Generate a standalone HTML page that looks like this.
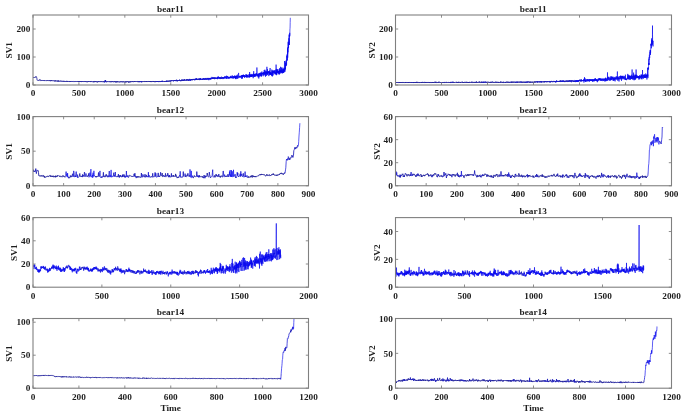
<!DOCTYPE html>
<html><head><meta charset="utf-8"><style>
html,body{margin:0;padding:0;background:#fff;width:685px;height:416px;overflow:hidden}
svg{display:block;will-change:transform}
text{font-family:"Liberation Serif",serif;font-weight:bold;font-size:9.25px}
</style></head><body>
<svg width="685" height="416" viewBox="0 0 685 416">
<defs>
<clipPath id="c0"><rect x="33.0" y="15.0" width="275.5" height="70.0"/></clipPath>
<clipPath id="c1"><rect x="395.5" y="15.0" width="276.0" height="70.0"/></clipPath>
<clipPath id="c2"><rect x="33.0" y="116.6" width="275.5" height="69.2"/></clipPath>
<clipPath id="c3"><rect x="395.5" y="116.6" width="276.0" height="69.2"/></clipPath>
<clipPath id="c4"><rect x="33.0" y="217.6" width="275.5" height="69.6"/></clipPath>
<clipPath id="c5"><rect x="395.5" y="217.6" width="276.0" height="69.6"/></clipPath>
<clipPath id="c6"><rect x="33.0" y="318.5" width="275.5" height="69.7"/></clipPath>
<clipPath id="c7"><rect x="395.5" y="318.5" width="276.0" height="69.7"/></clipPath>
</defs>
<g fill="#1e1e1e">
<g clip-path="url(#c0)" fill="none" stroke-linejoin="round">
<path d="M33.0 77.7L33.1 77.6 33.2 77.6 33.3 77.8 33.4 77.5 33.5 77.6 33.6 77.7 33.6 77.5 33.7 77.5 33.8 77.5 33.9 77.5 34.0 77.4 34.1 77.6 34.2 77.5 34.3 77.5 34.4 77.4 34.5 77.4 34.6 77.4 34.7 77.4 34.7 77.4 34.8 77.3 34.9 77.3 35.0 77.1 35.1 77.1 35.2 77.5 35.3 77.4 35.4 77.2 35.5 77.2 35.6 77.1 35.7 77.0 35.8 76.7 35.8 76.9 35.9 76.8 36.0 76.4 36.1 76.6 36.2 76.8 36.3 77.0 36.4 77.3 36.5 77.2 36.6 77.3 36.7 77.6 36.8 78.0 36.9 78.5 36.9 79.1 37.0 79.6 37.1 80.1 37.2 80.1 37.3 80.2 37.4 80.1 37.5 80.0 37.6 80.1 37.7 80.2 37.8 80.1 37.9 80.2 38.0 80.1 38.1 80.3 38.1 80.1 38.2 80.2 38.3 80.3 38.4 80.2 38.5 80.2 38.6 80.2 38.7 80.3 38.8 80.3 38.9 80.2 39.0 80.3 39.1 80.2 39.2 80.1 39.2 80.4 39.3 80.2 39.4 80.1 39.5 80.1 39.6 80.1 39.7 79.7 39.8 79.7 39.9 79.4 40.0 79.4 40.1 79.8 40.2 79.8 40.3 80.0 40.3 80.1 40.4 80.3 40.5 80.7 40.6 80.7 40.7 80.4 40.8 80.5 40.9 80.6 41.0 80.5 41.1 80.5 41.2 80.5 41.3 80.4 41.4 80.5 41.4 80.6 41.5 80.6 41.6 80.4 41.7 80.8 41.8 80.6 41.9 80.6 42.0 80.7 42.1 80.5 42.2 80.6 42.3 80.5 42.4 80.6 42.5 80.5 42.6 80.4 42.6 80.5 42.7 80.7 42.8 80.8 42.9 80.4 43.0 80.6 43.1 80.7 43.2 80.6 43.3 80.6 43.4 80.5 43.5 80.6 43.6 80.6 43.7 80.7 43.7 80.5 43.8 80.7 43.9 80.5 44.0 80.4 44.1 80.8 44.2 80.9 44.3 80.5 44.4 80.3 44.5 80.7 44.6 80.8 44.7 80.6 44.8 80.7 44.8 80.7 44.9 80.7 45.0 80.6 45.1 80.7 45.2 80.6 45.3 80.7 45.4 80.8 45.5 80.7 45.6 80.8 45.7 80.7 45.8 80.8 45.9 80.8 45.9 80.5 46.0 80.7 46.1 80.7 46.2 80.6 46.3 80.7 46.4 80.7 46.5 80.6 46.6 80.6 46.7 80.8 46.8 80.6 46.9 80.8 47.0 80.8 47.1 80.8 47.1 80.7 47.2 80.5 47.3 80.8 47.4 80.7 47.5 81.0 47.6 80.7 47.7 80.6 47.8 80.7 47.9 80.8 48.0 80.7 48.1 80.6 48.2 80.6 48.2 80.5 48.3 80.7 48.4 80.8 48.5 80.7 48.6 80.7 48.7 80.7 48.8 80.7 48.9 80.7 49.0 81.0 49.1 80.6 49.2 80.8 49.3 80.9 49.3 80.7 49.4 80.6 49.5 80.7 49.6 80.7 49.7 80.9 49.8 80.4 49.9 80.6 50.0 80.9 50.1 80.9 50.2 80.8 50.3 81.0 50.4 80.8 50.4 80.8 50.5 80.6 50.6 80.6 50.7 81.2 50.8 80.8 50.9 81.0 51.0 80.6 51.1 80.8 51.2 80.7 51.3 80.9 51.4 80.5 51.5 80.5 51.6 81.0 51.6 80.8 51.7 80.9 51.8 80.8 51.9 81.0 52.0 80.6 52.1 81.0 52.2 80.9 52.3 80.8 52.4 80.9 52.5 80.9 52.6 80.9 52.7 80.9 52.7 81.0 52.8 80.9 52.9 80.9 53.0 80.9 53.1 80.8 53.2 80.9 53.3 80.8 53.4 80.9 53.5 80.9 53.6 81.0 53.7 80.9 53.8 81.1 53.8 80.8 53.9 81.0 54.0 81.0 54.1 80.8 54.2 80.8 54.3 80.9 54.4 81.2 54.5 80.8 54.6 80.9 54.7 81.1 54.8 80.8 54.9 81.0 54.9 81.1 55.0 80.9 55.1 80.9 55.2 80.9 55.3 81.2 55.4 80.7 55.5 81.0 55.6 81.2 55.7 80.8 55.8 81.0 55.9 80.9 56.0 81.0 56.1 81.0 56.1 80.9 56.2 81.1 56.3 80.9 56.4 81.0 56.5 81.1 56.6 80.9 56.7 80.9 56.8 81.0 56.9 81.1 57.0 80.9 57.1 81.2 57.2 81.1 57.2 81.0 57.3 81.2 57.4 81.0 57.5 81.0 57.6 80.9 57.7 81.1 57.8 81.1 57.9 80.9 58.0 81.4 58.1 80.5 58.2 81.1 58.3 81.1 58.3 80.9 58.4 81.0 58.5 81.3 58.6 80.9 58.7 80.9 58.8 81.1 58.9 81.1 59.0 81.0 59.1 81.2 59.2 81.0 59.3 81.0 59.4 81.1 59.4 81.3 59.5 81.1 59.6 81.2 59.7 80.9 59.8 81.0 59.9 80.9 60.0 81.0 60.1 81.0 60.2 81.2 60.3 81.0 60.4 80.8 60.5 81.1 60.5 81.2 60.6 81.1 60.7 81.2 60.8 81.2 60.9 81.1 61.0 81.1 61.1 80.9 61.2 81.1 61.3 81.1 61.4 81.0 61.5 81.2 61.6 80.9 61.7 81.2 61.7 81.2 61.8 81.2 61.9 81.1 62.0 81.3 62.1 81.1 62.2 81.4 62.3 80.9 62.4 81.1 62.5 81.2 62.6 81.3 62.7 81.2 62.8 81.2 62.8 81.3 62.9 81.3 63.0 81.2 63.1 81.2 63.2 81.0 63.3 81.0 63.4 81.2 63.5 81.1 63.6 81.4 63.7 81.1 63.8 81.2 63.9 81.1 63.9 80.9 64.0 81.5 64.1 81.1 64.2 81.4 64.3 81.1 64.4 81.4 64.5 81.3 64.6 81.2 64.7 81.1 64.8 81.2 64.9 81.3 65.0 81.3 65.0 81.1 65.1 81.2 65.2 81.5 65.3 81.1 65.4 81.2 65.5 81.1 65.6 81.3 65.7 81.1 65.8 81.4 65.9 81.2 66.0 81.3 66.1 81.1 66.2 81.1 66.2 81.4 66.3 81.3 66.4 81.3 66.5 81.1 66.6 81.2 66.7 81.5 66.8 81.2 66.9 81.2 67.0 80.9 67.1 81.5 67.2 81.4 67.3 81.1 67.3 81.5 67.4 81.5 67.5 81.2 67.6 81.1 67.7 81.4 67.8 81.2 67.9 81.3 68.0 81.1 68.1 81.3 68.2 81.2 68.3 81.5 68.4 81.3 68.4 81.3 68.5 81.1 68.6 81.2 68.7 81.4 68.8 81.2 68.9 81.2 69.0 81.4 69.1 81.4 69.2 81.4 69.3 81.6 69.4 81.3 69.5 81.3 69.5 81.5 69.6 81.2 69.7 81.6 69.8 81.5 69.9 81.4 70.0 81.1 70.1 81.6 70.2 81.3 70.3 81.2 70.4 81.3 70.5 81.2 70.6 81.5 70.7 81.8 70.7 81.3 70.8 81.6 70.9 81.4 71.0 81.6 71.1 81.2 71.2 81.3 71.3 81.5 71.4 81.3 71.5 81.4 71.6 81.4 71.7 81.4 71.8 81.5 71.8 81.3 71.9 81.4 72.0 81.5 72.1 81.3 72.2 81.5 72.3 81.4 72.4 81.4 72.5 81.2 72.6 81.5 72.7 81.2 72.8 81.4 72.9 81.5 72.9 81.6 73.0 81.4 73.1 81.5 73.2 81.6 73.3 81.7 73.4 81.6 73.5 81.6 73.6 81.3 73.7 81.3 73.8 81.3 73.9 81.4 74.0 81.6 74.0 81.5 74.1 81.4 74.2 81.1 74.3 81.4 74.4 81.5 74.5 81.5 74.6 81.6 74.7 81.6 74.8 81.5 74.9 81.5 75.0 81.2 75.1 81.5 75.2 81.3 75.2 81.2 75.3 81.5 75.4 81.3 75.5 81.4 75.6 81.6 75.7 81.5 75.8 81.5 75.9 81.6 76.0 81.6 76.1 81.5 76.2 81.5 76.3 81.7 76.3 81.6 76.4 81.8 76.5 81.5 76.6 81.5 76.7 81.5 76.8 81.5 76.9 81.5 77.0 81.7 77.1 81.6 77.2 81.5 77.3 81.4 77.4 81.5 77.4 81.2 77.5 81.6 77.6 81.4 77.7 81.4 77.8 81.6 77.9 81.7 78.0 81.8 78.1 81.6 78.2 81.4 78.3 81.6 78.4 81.6 78.5 81.7 78.5 81.5 78.6 82.0 78.7 81.6 78.8 81.6 78.9 81.9 79.0 81.3 79.1 81.9 79.2 81.8 79.3 81.8 79.4 81.5 79.5 81.8 79.6 81.5 79.7 81.5 79.7 81.6 79.8 81.9 79.9 81.7 80.0 81.4 80.1 81.9 80.2 81.8 80.3 81.7 80.4 81.5 80.5 81.6 80.6 81.5 80.7 81.8 80.8 81.5 80.8 81.6 80.9 81.9 81.0 81.4 81.1 81.3 81.2 81.8 81.3 81.6 81.4 81.4 81.5 81.9 81.6 82.0 81.7 81.9 81.8 81.8 81.9 81.8 81.9 81.6 82.0 81.6 82.1 81.9 82.2 81.6 82.3 81.3 82.4 81.5 82.5 81.5 82.6 81.7 82.7 81.5 82.8 81.8 82.9 81.5 83.0 81.7 83.0 81.5 83.1 81.6 83.2 81.8 83.3 81.6 83.4 81.5 83.5 81.9 83.6 81.8 83.7 81.8 83.8 81.9 83.9 81.5 84.0 81.5 84.1 81.5 84.2 81.6 84.2 81.7 84.3 81.6 84.4 81.8 84.5 81.5 84.6 81.5 84.7 81.5 84.8 81.8 84.9 81.7 85.0 81.7 85.1 81.4 85.2 81.6 85.3 82.0 85.3 81.6 85.4 81.4 85.5 81.6 85.6 81.5 85.7 81.7 85.8 82.0 85.9 82.0 86.0 81.9 86.1 81.7 86.2 81.6 86.3 81.6 86.4 81.7 86.4 81.5 86.5 81.7 86.6 81.8 86.7 81.5 86.8 81.8 86.9 82.1 87.0 81.9 87.1 81.7 87.2 82.2 87.3 81.8 87.4 81.7 87.5 81.9 87.5 81.9 87.6 81.8 87.7 81.8 87.8 81.5 87.9 81.6 88.0 82.0 88.1 81.8 88.2 81.6 88.3 81.4 88.4 81.6 88.5 81.6 88.6 81.4 88.7 81.7 88.7 81.8 88.8 81.9 88.9 81.8 89.0 81.3 89.1 81.9 89.2 81.7 89.3 81.9 89.4 81.7 89.5 81.6 89.6 81.7 89.7 81.6 89.8 81.6 89.8 81.6 89.9 81.4 90.0 81.6 90.1 81.8 90.2 81.8 90.3 81.9 90.4 81.6 90.5 81.8 90.6 81.3 90.7 81.4 90.8 81.7 90.9 81.8 90.9 81.4 91.0 82.0 91.1 81.8 91.2 81.6 91.3 81.9 91.4 81.8 91.5 81.8 91.6 81.6 91.7 81.7 91.8 81.7 91.9 81.6 92.0 81.7 92.0 81.5 92.1 81.8 92.2 82.0 92.3 82.0 92.4 82.0 92.5 81.8 92.6 81.6 92.7 81.7 92.8 81.8 92.9 81.9 93.0 81.8 93.1 81.8 93.2 81.8 93.2 82.0 93.3 81.8 93.4 81.6 93.5 82.1 93.6 81.8 93.7 82.1 93.8 81.7 93.9 81.9 94.0 82.1 94.1 81.7 94.2 81.4 94.3 81.7 94.3 81.5 94.4 81.7 94.5 82.1 94.6 81.7 94.7 81.8 94.8 82.0 94.9 81.6 95.0 81.7 95.1 81.8 95.2 81.6 95.3 81.9 95.4 81.6 95.4 81.9 95.5 81.7 95.6 81.9 95.7 81.5 95.8 81.7 95.9 81.5 96.0 81.9 96.1 81.8 96.2 81.6 96.3 82.2 96.4 81.9 96.5 81.6 96.5 81.7 96.6 81.6 96.7 81.8 96.8 81.7 96.9 81.9 97.0 82.0 97.1 82.0 97.2 81.8 97.3 81.8 97.4 81.9 97.5 82.3 97.6 82.1 97.7 81.8 97.7 81.7 97.8 81.9 97.9 81.9 98.0 82.1 98.1 81.4 98.2 81.9 98.3 81.5 98.4 81.5 98.5 81.7 98.6 81.9 98.7 81.7 98.8 82.0 98.8 81.7 98.9 81.8 99.0 81.7 99.1 81.6 99.2 81.5 99.3 81.8 99.4 81.6 99.5 81.9 99.6 81.9 99.7 81.9 99.8 81.9 99.9 81.6 99.9 81.6 100.0 81.6 100.1 81.8 100.2 81.7 100.3 81.9 100.4 82.0 100.5 81.7 100.6 81.7 100.7 82.0 100.8 81.7 100.9 82.1 101.0 81.8 101.0 81.9 101.1 81.9 101.2 82.0 101.3 81.6 101.4 81.7 101.5 81.6 101.6 81.8 101.7 82.0 101.8 81.8 101.9 82.0 102.0 81.7 102.1 81.6 102.2 81.7 102.2 81.9 102.3 81.8 102.4 81.8 102.5 82.0 102.6 81.8 102.7 81.8 102.8 81.9 102.9 81.9 103.0 81.8 103.1 81.9 103.2 81.9 103.3 81.7 103.3 81.8 103.4 81.5 103.5 82.0 103.6 82.1 103.7 81.6 103.8 81.6 103.9 81.9 104.0 82.0 104.1 81.8" stroke="#20209c" stroke-width="0.90"/>
<path d="M104.1 81.8L104.2 82.1 104.3 81.9 104.4 82.2 104.4 81.8 104.5 82.2 104.6 81.8 104.7 81.5 104.8 81.8 104.9 81.7 105.0 81.9 105.1 80.4 105.2 82.1 105.3 81.6 105.4 80.2 105.5 81.5 105.5 82.0 105.6 81.8 105.7 80.7 105.8 81.6 105.9 81.5 106.0 81.9 106.1 82.0 106.2 82.1 106.3 81.6 106.4 81.8 106.5 81.9 106.6 81.8 106.7 82.2 106.7 82.1 106.8 81.7 106.9 81.8 107.0 81.8" stroke="#1818b7" stroke-width="0.82"/>
<path d="M107.0 81.8L107.1 82.0 107.2 81.7 107.3 81.5 107.4 82.0 107.5 81.8 107.6 81.9 107.7 81.8 107.8 81.8 107.8 81.9 107.9 82.0 108.0 81.8 108.1 81.9 108.2 81.9 108.3 81.8 108.4 81.7 108.5 81.9 108.6 81.9 108.7 81.7 108.8 81.9 108.9 81.9 108.9 81.7 109.0 81.8 109.1 81.8 109.2 81.8 109.3 82.0 109.4 81.8 109.5 81.6 109.6 81.7 109.7 82.1 109.8 81.8 109.9 82.0 110.0 81.9 110.0 81.8 110.1 82.0 110.2 81.6 110.3 81.9 110.4 81.7 110.5 81.7 110.6 81.6 110.7 81.6 110.8 82.1 110.9 81.8 111.0 82.2 111.1 81.9 111.2 81.7 111.2 81.7 111.3 81.6 111.4 81.9 111.5 81.8 111.6 81.8 111.7 81.6 111.8 81.6 111.9 81.9 112.0 81.2 112.1 81.8 112.2 81.9 112.3 81.7 112.3 81.7 112.4 81.8 112.5 82.0 112.6 81.6 112.7 81.8 112.8 81.6 112.9 81.6 113.0 82.1 113.1 82.0 113.2 82.0 113.3 81.8 113.4 81.8 113.4 81.8 113.5 82.0 113.6 81.8 113.7 81.6 113.8 82.1 113.9 81.9 114.0 81.8 114.1 81.9 114.2 81.9 114.3 81.6 114.4 81.6 114.5 81.7 114.5 82.0 114.6 81.5 114.7 81.8 114.8 82.0 114.9 81.9 115.0 81.9 115.1 81.5 115.2 81.8 115.3 81.9 115.4 82.2 115.5 81.7 115.6 82.0 115.6 82.1 115.7 81.8 115.8 82.0 115.9 81.7 116.0 81.7 116.1 82.2 116.2 81.9 116.3 82.1 116.4 81.9 116.5 81.7 116.6 82.1 116.7 81.6 116.8 81.9 116.8 82.1 116.9 81.9 117.0 81.7 117.1 82.1 117.2 81.9 117.3 82.1 117.4 81.7 117.5 81.9 117.6 82.0 117.7 81.7 117.8 82.1 117.9 81.9 117.9 81.6 118.0 81.9 118.1 81.7 118.2 81.9 118.3 82.0 118.4 81.9 118.5 81.9 118.6 82.0 118.7 82.0 118.8 82.0 118.9 82.1 119.0 81.9 119.0 81.8 119.1 81.8 119.2 82.2 119.3 81.8 119.4 81.9 119.5 82.1 119.6 81.9 119.7 81.8 119.8 81.8 119.9 81.8 120.0 81.7 120.1 81.7 120.1 81.9 120.2 82.2 120.3 82.0 120.4 81.8 120.5 82.0 120.6 81.8 120.7 81.8 120.8 81.9 120.9 81.6 121.0 82.1 121.1 81.7 121.2 82.0 121.3 82.0 121.3 81.8 121.4 82.0 121.5 81.8 121.6 82.1 121.7 81.9 121.8 82.0 121.9 81.9 122.0 82.0 122.1 82.1 122.2 81.8 122.3 82.1 122.4 82.1 122.4 81.8 122.5 81.7 122.6 81.8 122.7 81.9 122.8 81.5 122.9 82.1 123.0 82.0 123.1 82.1 123.2 81.8 123.3 81.9 123.4 81.7 123.5 81.8 123.5 82.0 123.6 82.1 123.7 82.1 123.8 81.5 123.9 81.8 124.0 81.8 124.1 82.0 124.2 82.0 124.3 82.0 124.4 82.0 124.5 82.3 124.6 81.9 124.6 82.0 124.7 81.9 124.8 81.9 124.9 81.8 125.0 81.9 125.1 81.8 125.2 82.3 125.3 82.1 125.4 81.6 125.5 82.1 125.6 82.0 125.7 81.8 125.8 82.1 125.8 81.8 125.9 82.2 126.0 82.2 126.1 82.1 126.2 82.2 126.3 81.9 126.4 82.0 126.5 81.8 126.6 82.1 126.7 81.5 126.8 81.9 126.9 81.9 126.9 81.8 127.0 81.9 127.1 82.0 127.2 81.9 127.3 81.7 127.4 81.8 127.5 81.7 127.6 82.0 127.7 82.0 127.8 81.5 127.9 81.9 128.0 81.8 128.0 81.8 128.1 81.6 128.2 82.1 128.3 82.0 128.4 82.0 128.5 81.9 128.6 82.3 128.7 81.9 128.8 82.4 128.9 81.8 129.0 81.8 129.1 81.8 129.1 82.1 129.2 81.7 129.3 82.0 129.4 82.1 129.5 82.0 129.6 82.0 129.7 81.8 129.8 81.7 129.9 82.2 130.0 82.0 130.1 81.7 130.2 81.8 130.3 81.8 130.3 82.1 130.4 81.7 130.5 82.1 130.6 81.8 130.7 81.6 130.8 81.5 130.9 81.8 131.0 81.7 131.1 82.0 131.2 81.9 131.3 81.6 131.4 81.8 131.4 81.9 131.5 82.1 131.6 81.8 131.7 81.7 131.8 82.0 131.9 81.9 132.0 81.6 132.1 81.8 132.2 81.9 132.3 82.0 132.4 81.9 132.5 81.9 132.5 81.6 132.6 81.9 132.7 81.5 132.8 82.0 132.9 81.9 133.0 81.7 133.1 81.9 133.2 82.0 133.3 81.8 133.4 81.7 133.5 82.1 133.6 81.9 133.6 81.8 133.7 81.9 133.8 81.7 133.9 81.9 134.0 81.9 134.1 81.8 134.2 81.7 134.3 81.9 134.4 81.5 134.5 82.0 134.6 81.6 134.7 82.0 134.8 81.8 134.8 81.7 134.9 81.4 135.0 81.6 135.1 81.9 135.2 81.6 135.3 81.8 135.4 81.9 135.5 81.7 135.6 81.8 135.7 81.6 135.8 81.9 135.9 81.7 135.9 81.7 136.0 81.7 136.1 81.8 136.2 81.9 136.3 81.6 136.4 81.8 136.5 81.7 136.6 81.9 136.7 81.8 136.8 82.0 136.9 81.8 137.0 81.6 137.0 81.8 137.1 81.6 137.2 81.7 137.3 81.5 137.4 81.8 137.5 82.1 137.6 81.7 137.7 81.8 137.8 82.0 137.9 81.6 138.0 81.7 138.1 81.7 138.1 81.8 138.2 81.7 138.3 81.7 138.4 81.4 138.5 81.9 138.6 81.8 138.7 81.7 138.8 82.1 138.9 82.1 139.0 81.3 139.1 82.1" stroke="#20209c" stroke-width="0.90"/>
<path d="M139.1 82.1L139.2 81.6 139.3 81.9 139.3 81.9 139.4 82.1 139.5 81.9 139.6 81.6 139.7 82.0 139.8 81.6 139.9 81.7 140.0 81.4 140.1 81.8 140.2 81.5 140.3 81.6 140.4 81.8 140.4 82.1 140.5 81.5 140.6 82.0 140.7 81.8 140.8 81.6 140.9 81.5 141.0 81.9 141.1 81.7 141.2 81.8 141.3 81.5 141.4 81.2 141.5 82.1 141.5 81.6 141.6 82.3 141.7 81.7 141.8 81.9 141.9 81.3 142.0 81.7" stroke="#1818b7" stroke-width="0.82"/>
<path d="M142.0 81.7L142.1 81.9 142.2 81.8 142.3 81.8 142.4 81.7 142.5 81.7 142.6 81.6 142.6 81.4 142.7 81.6 142.8 82.0 142.9 82.0 143.0 81.9 143.1 81.5 143.2 81.8 143.3 81.8 143.4 81.7 143.5 82.0 143.6 81.9 143.7 81.6 143.8 81.8 143.8 81.8 143.9 81.6 144.0 81.8 144.1 81.8 144.2 81.8 144.3 81.6 144.4 81.7 144.5 81.9 144.6 81.8 144.7 81.6 144.8 81.3 144.9 81.9 144.9 81.6 145.0 81.7 145.1 81.5 145.2 81.6 145.3 81.4 145.4 81.6 145.5 81.8 145.6 81.8 145.7 81.6 145.8 81.6 145.9 81.2 146.0 81.3 146.0 81.9 146.1 81.6 146.2 81.9 146.3 82.0 146.4 81.5 146.5 81.6 146.6 81.9 146.7 81.3 146.8 81.9 146.9 81.9 147.0 81.5 147.1 81.6 147.1 81.7 147.2 81.7 147.3 81.6 147.4 81.7 147.5 81.7 147.6 82.0 147.7 81.9 147.8 81.5 147.9 81.8 148.0 81.5 148.1 81.4 148.2 81.7 148.3 81.6 148.3 81.2 148.4 81.5 148.5 81.3 148.6 81.3 148.7 81.5 148.8 81.7 148.9 81.8 149.0 81.9 149.1 81.5 149.2 81.5 149.3 81.7 149.4 81.5 149.4 81.8 149.5 81.4 149.6 81.6 149.7 81.6 149.8 81.6 149.9 81.7 150.0 81.1 150.1 82.0 150.2 81.6 150.3 81.4 150.4 81.5 150.5 81.7 150.5 81.3 150.6 81.8 150.7 81.9 150.8 81.5 150.9 81.9 151.0 82.1 151.1 81.4 151.2 81.5 151.3 81.5 151.4 81.7 151.5 81.6 151.6 81.8 151.6 81.3 151.7 81.4 151.8 81.5 151.9 82.0 152.0 81.4 152.1 81.3 152.2 81.4 152.3 81.4 152.4 81.6 152.5 81.7 152.6 81.5 152.7 81.5 152.8 81.6 152.8 81.7 152.9 81.2 153.0 81.8 153.1 81.6 153.2 81.7 153.3 81.4 153.4 81.3 153.5 81.3 153.6 81.4 153.7 81.9 153.8 81.1 153.9 81.5 153.9 81.6 154.0 81.6 154.1 81.7 154.2 81.5 154.3 81.5 154.4 81.7 154.5 82.1 154.6 81.6 154.7 81.5 154.8 81.5 154.9 81.6 155.0 81.5 155.0 81.4 155.1 81.7 155.2 81.3 155.3 82.0 155.4 81.8 155.5 81.8 155.6 82.1 155.7 81.8 155.8 81.3 155.9 81.3 156.0 81.5 156.1 81.2" stroke="#20209c" stroke-width="0.90"/>
<path d="M156.1 81.2L156.1 81.5 156.2 81.7 156.3 81.5 156.4 81.6 156.5 81.4 156.6 81.9 156.7 81.3 156.8 81.7 156.9 81.4 157.0 81.9 157.1 81.6 157.2 81.5 157.3 81.4 157.3 81.8 157.4 81.2 157.5 81.4 157.6 81.7 157.7 81.3 157.8 81.5 157.9 81.3 158.0 81.0 158.1 81.4 158.2 81.7 158.3 81.6 158.4 81.4 158.4 81.5 158.5 81.7 158.6 81.7 158.7 81.4 158.8 81.0 158.9 82.1 159.0 81.4 159.1 81.6" stroke="#1818b7" stroke-width="0.82"/>
<path d="M159.1 81.6L159.2 81.4 159.3 81.3 159.4 81.5 159.5 81.7 159.5 81.8 159.6 81.9 159.7 81.3 159.8 81.6 159.9 81.6 160.0 81.6" stroke="#20209c" stroke-width="0.90"/>
<path d="M160.0 81.6L160.1 81.8 160.2 81.4 160.3 81.2 160.4 81.3 160.5 81.9 160.6 81.2 160.6 81.7 160.7 81.9 160.8 81.8 160.9 81.7 161.0 81.5 161.1 81.7 161.2 81.8 161.3 81.6 161.4 81.1 161.5 81.7 161.6 81.4 161.7 81.5 161.8 80.9 161.8 81.9 161.9 81.2 162.0 81.8 162.1 81.6 162.2 81.5 162.3 80.7 162.4 81.6 162.5 81.9 162.6 81.1 162.7 81.6 162.8 81.5 162.9 81.4 162.9 81.4 163.0 81.5 163.1 81.3 163.2 81.3 163.3 81.2 163.4 81.5 163.5 81.6 163.6 81.6 163.7 81.2 163.8 81.4 163.9 81.2 164.0 81.2 164.0 81.0" stroke="#1818b7" stroke-width="0.82"/>
<path d="M164.0 81.0L164.1 81.3 164.2 81.2 164.3 81.6 164.4 81.6 164.5 81.4 164.6 81.6 164.7 81.2 164.8 81.6 164.9 81.3 165.0 81.9 165.1 81.6" stroke="#20209c" stroke-width="0.90"/>
<path d="M165.1 81.6L165.1 81.4 165.2 81.4 165.3 81.7 165.4 81.2 165.5 81.0 165.6 81.1 165.7 81.4 165.8 81.4 165.9 81.5 166.0 81.1 166.1 80.9 166.2 81.4 166.3 81.7 166.3 81.2 166.4 81.0 166.5 81.9 166.6 81.2 166.7 80.6 166.8 81.0 166.9 81.1 167.0 81.1 167.1 80.9 167.2 81.4 167.3 81.4 167.4 81.1 167.4 81.3 167.5 81.1 167.6 81.6 167.7 80.9 167.8 80.9 167.9 81.1 168.0 81.1 168.1 80.7" stroke="#1818b7" stroke-width="0.82"/>
<path d="M168.1 80.7L168.2 81.4 168.3 81.4 168.4 81.4 168.5 81.2 168.5 81.4 168.6 81.1 168.7 81.3 168.8 81.5 168.9 81.5 169.0 80.7 169.1 81.1 169.2 81.1 169.3 81.0 169.4 81.1 169.5 80.8 169.6 80.9 169.6 81.2 169.7 81.3 169.8 81.3 169.9 81.4 170.0 80.6" stroke="#20209c" stroke-width="0.90"/>
<path d="M170.0 80.6L170.1 81.3 170.2 81.6 170.3 81.2 170.4 81.2 170.5 80.9 170.6 81.2 170.7 80.8 170.8 80.9 170.8 80.6 170.9 80.3 171.0 80.1 171.1 80.6 171.2 81.3 171.3 81.1 171.4 80.9 171.5 80.3 171.6 80.7 171.7 80.6 171.8 81.0 171.9 80.7 171.9 80.7 172.0 81.0 172.1 80.7 172.2 80.6 172.3 80.9 172.4 80.6 172.5 80.4 172.6 80.8 172.7 80.9 172.8 80.9 172.9 81.0 173.0 80.8 173.0 81.0 173.1 80.9 173.2 81.1 173.3 81.3 173.4 81.1 173.5 80.7 173.6 81.2 173.7 81.0 173.8 80.3 173.9 80.5 174.0 81.0 174.1 80.6 174.1 81.0 174.2 80.3 174.3 80.9 174.4 80.7 174.5 80.3 174.6 81.0 174.7 80.3 174.8 81.0 174.9 80.7 175.0 80.8 175.1 80.7 175.2 80.7 175.2 80.7 175.3 81.0 175.4 80.4 175.5 80.5 175.6 80.3 175.7 80.3 175.8 81.1 175.9 80.3 176.0 80.3 176.1 80.8 176.2 80.3 176.3 80.2 176.4 80.8 176.4 81.1 176.5 80.7 176.6 79.7 176.7 80.5 176.8 81.0 176.9 80.7 177.0 80.9 177.1 80.7 177.2 80.6 177.3 81.4 177.4 80.5 177.5 80.1 177.5 80.6 177.6 80.7 177.7 80.2 177.8 81.0 177.9 81.0 178.0 81.0 178.1 80.6 178.2 80.4 178.3 80.6 178.4 80.3 178.5 80.2 178.6 80.4 178.6 80.8 178.7 80.6 178.8 80.1 178.9 80.8 179.0 80.6 179.1 80.6 179.2 80.5 179.3 80.8 179.4 80.9 179.5 79.6 179.6 80.1 179.7 80.7 179.7 80.5 179.8 80.2 179.9 80.6 180.0 80.2 180.1 80.6 180.2 80.5 180.3 80.4 180.4 80.6 180.5 81.2 180.6 80.4 180.7 80.3 180.8 80.2 180.9 80.7 180.9 80.3 181.0 80.3 181.1 81.0 181.2 81.1 181.3 80.2 181.4 80.7 181.5 80.0 181.6 79.6 181.7 80.5 181.8 80.6 181.9 80.3 182.0 80.1 182.0 80.7 182.1 79.9 182.2 80.0 182.3 80.1 182.4 80.5 182.5 80.0 182.6 80.0 182.7 80.7 182.8 79.5 182.9 80.4 183.0 80.1 183.1 80.4 183.1 80.1 183.2 79.8 183.3 80.5 183.4 80.8 183.5 80.4 183.6 80.7 183.7 80.5 183.8 80.3 183.9 80.2 184.0 79.7 184.1 80.6 184.2 80.1 184.2 80.4 184.3 79.7 184.4 79.3 184.5 80.1 184.6 79.6 184.7 80.4 184.8 80.7 184.9 80.6 185.0 80.7 185.1 80.5 185.2 80.2 185.3 79.7 185.4 79.9 185.4 79.9 185.5 80.3 185.6 80.4 185.7 80.1 185.8 80.0 185.9 80.0 186.0 79.9 186.1 80.1 186.2 80.8 186.3 80.5 186.4 80.4 186.5 79.4 186.5 80.2 186.6 79.8 186.7 79.5 186.8 79.9 186.9 80.2 187.0 80.1 187.1 80.4 187.2 79.9 187.3 79.6 187.4 79.8 187.5 79.7 187.6 79.7 187.6 79.2 187.7 80.2 187.8 79.9 187.9 79.7 188.0 79.5 188.1 80.9 188.2 80.2 188.3 80.0 188.4 80.3 188.5 79.6 188.6 79.9 188.7 80.1 188.7 80.6 188.8 80.4 188.9 80.3 189.0 79.7" stroke="#1818b7" stroke-width="0.82"/>
<path d="M189.0 79.7L189.1 80.4 189.2 80.7 189.3 80.5 189.4 80.1 189.5 79.2 189.6 78.9 189.7 80.1 189.8 79.5 189.9 79.3 189.9 79.3 190.0 79.9 190.1 80.4 190.2 80.0 190.3 80.6 190.4 79.7 190.5 79.5 190.6 80.6 190.7 79.8 190.8 79.7 190.9 79.3 191.0 79.2 191.0 79.5" stroke="#1010d3" stroke-width="0.73"/>
<path d="M191.0 79.5L191.1 80.1 191.2 79.9 191.3 79.3 191.4 80.0 191.5 79.8 191.6 79.1 191.7 79.7 191.8 80.3 191.9 79.9 192.0 79.5 192.1 79.8 192.1 79.3 192.2 79.2 192.3 80.0 192.4 79.9 192.5 79.8 192.6 80.2 192.7 79.5 192.8 79.8 192.9 79.4 193.0 79.9 193.1 80.0 193.2 78.9 193.2 80.0 193.3 79.9 193.4 80.0 193.5 79.8 193.6 80.0 193.7 79.7 193.8 79.9 193.9 79.8 194.0 79.5 194.1 79.3" stroke="#1818b7" stroke-width="0.82"/>
<path d="M194.1 79.3L194.2 79.4 194.3 79.9 194.4 79.4 194.4 79.6 194.5 79.6 194.6 80.3 194.7 79.3 194.8 79.6 194.9 78.8 195.0 79.3 195.1 80.0 195.2 80.1 195.3 79.1 195.4 79.9 195.5 79.2 195.5 79.7 195.6 78.6 195.7 79.5 195.8 78.9 195.9 78.9 196.0 79.7 196.1 79.6 196.2 78.8 196.3 79.5 196.4 79.9 196.5 78.9 196.6 78.3 196.6 79.5 196.7 78.8 196.8 79.5 196.9 78.8 197.0 79.5" stroke="#1010d3" stroke-width="0.73"/>
<path d="M197.0 79.5L197.1 78.8 197.2 79.2 197.3 79.5 197.4 79.3 197.5 79.6 197.6 79.9 197.7 79.9 197.7 79.4 197.8 79.8 197.9 79.2 198.0 79.1 198.1 79.1 198.2 79.6 198.3 79.3 198.4 79.3 198.5 78.7 198.6 79.7 198.7 79.5 198.8 79.4 198.9 79.4 198.9 79.6 199.0 79.6" stroke="#1818b7" stroke-width="0.82"/>
<path d="M199.0 79.6L199.1 78.8 199.2 79.6 199.3 78.9 199.4 78.4 199.5 78.7 199.6 80.1 199.7 78.9 199.8 79.0 199.9 79.0 200.0 80.0 200.0 78.9 200.1 79.7 200.2 78.6 200.3 78.7 200.4 78.0 200.5 79.4 200.6 79.9 200.7 78.7 200.8 78.8 200.9 79.4 201.0 78.6 201.1 78.9 201.1 79.8 201.2 79.3 201.3 79.4 201.4 79.2 201.5 79.1 201.6 79.5 201.7 79.2 201.8 78.9 201.9 79.2 202.0 79.3 202.1 79.3 202.2 79.2 202.2 80.0 202.3 79.0 202.4 79.6 202.5 79.0 202.6 79.8 202.7 78.6 202.8 79.0 202.9 79.7 203.0 79.0 203.1 79.4 203.2 78.2 203.3 78.8 203.4 79.4 203.4 78.9 203.5 79.1 203.6 78.5 203.7 78.9 203.8 78.8 203.9 79.6 204.0 78.6 204.1 78.0 204.2 78.7 204.3 79.0 204.4 78.9 204.5 79.4 204.5 78.9 204.6 79.5 204.7 78.9 204.8 79.2 204.9 79.4 205.0 78.7 205.1 79.7 205.2 79.0 205.3 79.6 205.4 78.0 205.5 78.0 205.6 78.5 205.6 78.0 205.7 78.6 205.8 78.6 205.9 79.1 206.0 79.3 206.1 78.8 206.2 79.1 206.3 79.1 206.4 78.5 206.5 78.9 206.6 79.6 206.7 79.0 206.7 79.2 206.8 79.0 206.9 79.4 207.0 78.2 207.1 77.9 207.2 79.4 207.3 78.5 207.4 78.5 207.5 79.3 207.6 78.8 207.7 78.1 207.8 78.4 207.9 78.0 207.9 79.4 208.0 79.2 208.1 78.6 208.2 78.6 208.3 78.7 208.4 78.9 208.5 79.0 208.6 79.0 208.7 78.5 208.8 80.2 208.9 77.9 209.0 79.0 209.0 79.5" stroke="#1010d3" stroke-width="0.73"/>
<path d="M209.0 79.5L209.1 78.4 209.2 79.4 209.3 78.5 209.4 78.9 209.5 78.4 209.6 78.3 209.7 78.0 209.8 78.9 209.9 78.8 210.0 78.7 210.1 79.4" stroke="#0808ee" stroke-width="0.65"/>
<path d="M210.1 79.4L210.1 78.3 210.2 78.6 210.3 79.3 210.4 78.0 210.5 77.9 210.6 79.3 210.7 78.3 210.8 77.9 210.9 78.1 211.0 79.1 211.1 79.3" stroke="#1010d3" stroke-width="0.73"/>
<path d="M211.1 79.3L211.2 78.6 211.2 78.8 211.3 78.6 211.4 78.6 211.5 78.3 211.6 78.8 211.7 78.6 211.8 76.9 211.9 78.6 212.0 78.1 212.1 78.3" stroke="#0808ee" stroke-width="0.65"/>
<path d="M212.1 78.3L212.2 78.4 212.3 79.0 212.4 78.2 212.4 78.5 212.5 78.0 212.6 77.3 212.7 78.4 212.8 78.0 212.9 79.0 213.0 78.4 213.1 77.6 213.2 78.5 213.3 78.8 213.4 78.3 213.5 78.5 213.5 78.5 213.6 78.6 213.7 77.3 213.8 78.9 213.9 78.6 214.0 78.7 214.1 77.7 214.2 78.5 214.3 77.6 214.4 78.3 214.5 78.4 214.6 79.2 214.6 77.6 214.7 78.0 214.8 78.1 214.9 78.4 215.0 78.6 215.1 79.0 215.2 77.7 215.3 78.1 215.4 78.5 215.5 78.7 215.6 78.2 215.7 78.3 215.7 77.3 215.8 77.8 215.9 78.6 216.0 78.9 216.1 78.4 216.2 78.8 216.3 78.2 216.4 78.0 216.5 77.8 216.6 78.0 216.7 78.3 216.8 77.8 216.9 78.7 216.9 78.2 217.0 77.7" stroke="#1010d3" stroke-width="0.73"/>
<path d="M217.0 77.7L217.1 78.0 217.2 78.9 217.3 78.9 217.4 79.1 217.5 77.0 217.6 79.1 217.7 78.2 217.8 77.0 217.9 77.4 218.0 77.3 218.0 78.4 218.1 77.6 218.2 76.2 218.3 78.1 218.4 77.8 218.5 78.3 218.6 78.1 218.7 77.8 218.8 77.2 218.9 78.6 219.0 78.9 219.1 78.0 219.1 77.9 219.2 77.1 219.3 77.6 219.4 78.4 219.5 77.6 219.6 77.3 219.7 77.8 219.8 78.2 219.9 77.5 220.0 78.2 220.1 79.1" stroke="#0808ee" stroke-width="0.65"/>
<path d="M220.1 79.1L220.2 77.1 220.2 78.8 220.3 78.2 220.4 78.1 220.5 78.1 220.6 78.1 220.7 78.8 220.8 77.6 220.9 77.9 221.0 77.9 221.1 77.2 221.2 77.2 221.3 77.0 221.4 76.7 221.4 77.6 221.5 78.9 221.6 77.7 221.7 77.8 221.8 77.8 221.9 78.2 222.0 78.4 222.1 77.3 222.2 77.2 222.3 78.5 222.4 77.4 222.5 77.9 222.5 78.0 222.6 77.3 222.7 77.8 222.8 78.1 222.9 77.7 223.0 79.1" stroke="#1010d3" stroke-width="0.73"/>
<path d="M223.0 79.1L223.1 78.1 223.2 78.0 223.3 78.7 223.4 77.6 223.5 77.5 223.6 78.1 223.6 77.8 223.7 77.3 223.8 77.0 223.9 78.2 224.0 77.5 224.1 77.0 224.2 77.7 224.3 78.2 224.4 78.2 224.5 77.9 224.6 78.4 224.7 76.3 224.7 78.0 224.8 77.4 224.9 77.5 225.0 77.2 225.1 77.9 225.2 78.5 225.3 76.5 225.4 77.7 225.5 77.5 225.6 77.5 225.7 76.7 225.8 77.0 225.8 76.8 225.9 77.0 226.0 77.5 226.1 77.4 226.2 78.1 226.3 78.9 226.4 77.7 226.5 78.3 226.6 75.7 226.7 76.4 226.8 76.7 226.9 77.9 227.0 76.0 227.0 78.7 227.1 78.4 227.2 78.0 227.3 78.2 227.4 77.4 227.5 77.3 227.6 76.1 227.7 76.7 227.8 76.6 227.9 77.1 228.0 77.5 228.1 77.9 228.1 78.5 228.2 78.0 228.3 77.7 228.4 76.8 228.5 78.6 228.6 78.4 228.7 77.2 228.8 78.1 228.9 77.1 229.0 77.7 229.1 77.9 229.2 78.3 229.2 77.4 229.3 77.9 229.4 77.8 229.5 77.8 229.6 77.2 229.7 77.2 229.8 78.6 229.9 77.4 230.0 77.0 230.1 76.5 230.2 76.7 230.3 77.1 230.3 78.1 230.4 77.8 230.5 76.6 230.6 77.8 230.7 76.5 230.8 76.3 230.9 78.0 231.0 76.9 231.1 77.3 231.2 75.7 231.3 76.6 231.4 77.6 231.5 76.9 231.5 77.9 231.6 77.3 231.7 77.0 231.8 77.1 231.9 76.9 232.0 77.9 232.1 78.6 232.2 77.4 232.3 77.8 232.4 77.7 232.5 75.5 232.6 76.2 232.6 77.2 232.7 78.2 232.8 78.1 232.9 76.8 233.0 76.3 233.1 77.3 233.2 77.0 233.3 76.9 233.4 76.2 233.5 78.5 233.6 76.9 233.7 76.7 233.7 76.3 233.8 76.7 233.9 77.9 234.0 77.5 234.1 78.2 234.2 76.9 234.3 76.8 234.4 76.6 234.5 77.8 234.6 77.9 234.7 75.8 234.8 76.8 234.8 75.6 234.9 76.6 235.0 78.1 235.1 76.3 235.2 75.9 235.3 77.3 235.4 78.5 235.5 76.4 235.6 77.0 235.7 76.7 235.8 79.1 235.9 76.5 236.0 79.1 236.0 77.6 236.1 76.2 236.2 78.3 236.3 78.4 236.4 77.2 236.5 75.5 236.6 75.5 236.7 77.3 236.8 76.0 236.9 76.4 237.0 76.6 237.1 76.5 237.1 77.4 237.2 76.1 237.3 75.9 237.4 74.6 237.5 76.0 237.6 78.8 237.7 77.8 237.8 76.5 237.9 76.7 238.0 78.3 238.1 76.9 238.2 77.0 238.2 76.8 238.3 76.8 238.4 76.0 238.5 75.5 238.6 72.9 238.7 77.6 238.8 77.4 238.9 77.2 239.0 76.7 239.1 77.0 239.2 77.0 239.3 77.4 239.3 75.9 239.4 75.9 239.5 75.8 239.6 76.7 239.7 76.2 239.8 77.4 239.9 77.5 240.0 77.1 240.1 76.1 240.2 76.7 240.3 77.6 240.4 76.5 240.5 76.2 240.5 76.4 240.6 77.1 240.7 76.5 240.8 76.9 240.9 76.8 241.0 76.6 241.1 75.9 241.2 75.0 241.3 75.2 241.4 76.0 241.5 76.9 241.6 76.8 241.6 76.7 241.7 75.5 241.8 78.9 241.9 76.3 242.0 78.2 242.1 76.5 242.2 75.3 242.3 77.2 242.4 78.4 242.5 75.3 242.6 75.1 242.7 76.0 242.7 75.3 242.8 77.1 242.9 75.4 243.0 74.9 243.1 75.8 243.2 76.0 243.3 75.2 243.4 74.6 243.5 77.0 243.6 75.2 243.7 75.7 243.8 76.2 243.8 75.2 243.9 75.5 244.0 75.7 244.1 76.8 244.2 75.6 244.3 76.2 244.4 76.4 244.5 77.8 244.6 75.0 244.7 75.9 244.8 76.3 244.9 76.2 245.0 75.7 245.0 75.9 245.1 77.0 245.2 76.1 245.3 76.3 245.4 76.7 245.5 76.3 245.6 76.5 245.7 76.8 245.8 76.5 245.9 75.9 246.0 74.2 246.1 76.9 246.1 75.6 246.2 77.5 246.3 74.6 246.4 76.4 246.5 75.9 246.6 74.9 246.7 75.1 246.8 77.5 246.9 75.5 247.0 76.2 247.1 75.4 247.2 75.9 247.2 75.3 247.3 75.7 247.4 76.1 247.5 74.8 247.6 77.4 247.7 76.4 247.8 76.9 247.9 76.1 248.0 76.3 248.1 76.1 248.2 76.4 248.3 76.3 248.3 77.5 248.4 75.9 248.5 75.6 248.6 76.4 248.7 76.5 248.8 76.5 248.9 74.2 249.0 75.6 249.1 75.4 249.2 76.1 249.3 76.3 249.4 76.6 249.5 74.2 249.5 77.5 249.6 72.0 249.7 75.8 249.8 76.0 249.9 77.3 250.0 77.0 250.1 74.7 250.2 76.4 250.3 74.8 250.4 75.0 250.5 75.1 250.6 74.9 250.6 76.9 250.7 76.1 250.8 74.9 250.9 76.9 251.0 73.9 251.1 76.2 251.2 75.6 251.3 76.6 251.4 75.2 251.5 76.3 251.6 75.8 251.7 76.7 251.7 74.3 251.8 77.0 251.9 75.0 252.0 75.2 252.1 75.0 252.2 76.5 252.3 74.4 252.4 74.4 252.5 75.3 252.6 75.1 252.7 75.6 252.8 74.7 252.8 76.3 252.9 74.8 253.0 74.9 253.1 76.9 253.2 78.2 253.3 75.5 253.4 73.6 253.5 74.0 253.6 75.3 253.7 71.2 253.8 76.8 253.9 75.4 254.0 75.9 254.0 76.5 254.1 75.4 254.2 74.1 254.3 75.1 254.4 76.4 254.5 74.9 254.6 74.3 254.7 76.9 254.8 74.6 254.9 75.8 255.0 73.9 255.1 74.8 255.1 76.1 255.2 74.9 255.3 73.7 255.4 75.0 255.5 76.3 255.6 75.8 255.7 76.0 255.8 76.4 255.9 76.5 256.0 74.6 256.1 73.8 256.2 75.5 256.2 74.1 256.3 74.0 256.4 73.1 256.5 75.2 256.6 75.4 256.7 74.5 256.8 74.9 256.9 67.5 257.0 73.5 257.1 75.4 257.2 74.7 257.3 76.1 257.3 75.1 257.4 75.7 257.5 75.8 257.6 75.1 257.7 75.4 257.8 74.4 257.9 73.9 258.0 76.6 258.1 73.7 258.2 77.4 258.3 74.5 258.4 74.0 258.5 75.6 258.5 75.1 258.6 75.7 258.7 73.7 258.8 78.5 258.9 75.9 259.0 77.0 259.1 74.5 259.2 73.2 259.3 73.3 259.4 73.9 259.5 74.4 259.6 75.6 259.6 73.2 259.7 73.9 259.8 75.7 259.9 76.2 260.0 75.4 260.1 73.3 260.2 73.1 260.3 72.6 260.4 75.5 260.5 75.0 260.6 72.9 260.7 74.3 260.7 73.6 260.8 76.2 260.9 75.0 261.0 74.5 261.1 75.0 261.2 75.0 261.3 76.5 261.4 72.5 261.5 74.3 261.6 76.3 261.7 73.1 261.8 74.4 261.8 73.5 261.9 71.5 262.0 75.4 262.1 75.3 262.2 74.0 262.3 73.4 262.4 73.7 262.5 73.5 262.6 72.8 262.7 74.0 262.8 73.0 262.9 72.9 263.0 73.9 263.0 74.4 263.1 74.8 263.2 75.8 263.3 76.2 263.4 72.5 263.5 74.2 263.6 74.9 263.7 72.1 263.8 72.9 263.9 74.0 264.0 72.8 264.1 74.3 264.1 73.6 264.2 70.1 264.3 72.6 264.4 74.4 264.5 73.1 264.6 72.4 264.7 74.1 264.8 74.5 264.9 69.7 265.0 74.3 265.1 75.7 265.2 73.7 265.2 70.8 265.3 73.0 265.4 72.5 265.5 76.7 265.6 74.5 265.7 72.1 265.8 74.3 265.9 71.9 266.0 73.0 266.1 73.1 266.2 71.3 266.3 74.3 266.3 74.3 266.4 73.4 266.5 73.3 266.6 75.9 266.7 71.8 266.8 73.2 266.9 66.8 267.0 72.6 267.1 74.0 267.2 71.8 267.3 73.4 267.4 69.1 267.5 74.7 267.5 73.8 267.6 72.9 267.7 74.7 267.8 74.3 267.9 73.4 268.0 71.8 268.1 72.2 268.2 72.0 268.3 72.9 268.4 72.0 268.5 71.1 268.6 73.0 268.6 71.3 268.7 72.4 268.8 76.1 268.9 73.4 269.0 72.6 269.1 72.1 269.2 73.6 269.3 71.7 269.4 74.1 269.5 73.4 269.6 70.6 269.7 75.1 269.7 73.2 269.8 73.3 269.9 73.2 270.0 73.9 270.1 68.0 270.2 74.6 270.3 75.0 270.4 72.3 270.5 74.8 270.6 72.4 270.7 73.0 270.8 74.0 270.8 73.5 270.9 73.1 271.0 72.3 271.1 73.9 271.2 73.2 271.3 75.1 271.4 73.3 271.5 75.8 271.6 72.9 271.7 73.6 271.8 69.6 271.9 70.9 272.0 73.1 272.0 71.4 272.1 72.4 272.2 74.6 272.3 76.5 272.4 70.3 272.5 72.1 272.6 75.8 272.7 71.7 272.8 71.3 272.9 73.7 273.0 71.4 273.1 75.3 273.1 73.0 273.2 72.6 273.3 71.4 273.4 72.0 273.5 72.2 273.6 71.7 273.7 72.3 273.8 70.2 273.9 73.0 274.0 71.2 274.1 72.5 274.2 72.8 274.2 71.5 274.3 71.7 274.4 70.2 274.5 70.7 274.6 73.3 274.7 71.5 274.8 72.2 274.9 73.6 275.0 74.1 275.1 71.9 275.2 73.1 275.3 74.5 275.3 72.4 275.4 71.8 275.5 72.0 275.6 74.1 275.7 73.1 275.8 69.9 275.9 73.4 276.0 72.5 276.1 64.6 276.2 71.5 276.3 68.9 276.4 75.2 276.5 71.5 276.5 74.3 276.6 72.0 276.7 73.0 276.8 74.7 276.9 69.2 277.0 72.1 277.1 70.4 277.2 70.7 277.3 73.1 277.4 71.7 277.5 72.4 277.6 70.2 277.6 71.1 277.7 72.4 277.8 69.0 277.9 70.9 278.0 71.0 278.1 73.0 278.2 71.0 278.3 74.1 278.4 70.9 278.5 73.2 278.6 71.3 278.7 72.1 278.7 71.2 278.8 71.0 278.9 71.6 279.0 71.6 279.1 74.0 279.2 74.7 279.3 69.3 279.4 70.5 279.5 74.0 279.6 68.2 279.7 72.6 279.8 70.5 279.8 70.6 279.9 71.2 280.0 70.3 280.1 73.7 280.2 71.4 280.3 71.7 280.4 71.1 280.5 66.8 280.6 72.3 280.7 72.5 280.8 69.7 280.9 72.7 281.0 70.5 281.0 70.5 281.1 71.3 281.2 70.4 281.3 70.1 281.4 72.0 281.5 70.5 281.6 67.7 281.7 72.9 281.8 71.5 281.9 72.3 282.0 67.5 282.1 73.4 282.1 70.9 282.2 69.3 282.3 72.4 282.4 71.1 282.5 72.1 282.6 73.2 282.7 70.9 282.8 69.9 282.9 71.5 283.0 70.5 283.1 69.5 283.2 68.6 283.2 72.9 283.3 69.1 283.4 71.8 283.5 72.8 283.6 72.0 283.7 69.5 283.8 70.1 283.9 72.6 284.0 67.7 284.1 69.8 284.2 70.7 284.3 71.5 284.3 69.7 284.4 71.2 284.5 61.0 284.6 69.9 284.7 69.0 284.8 70.2 284.9 71.9 285.0 68.0 285.1 70.3 285.2 68.4 285.3 67.7 285.4 68.6 285.4 65.0 285.5 68.9 285.6 62.7 285.7 66.3 285.8 62.6 285.9 61.3 286.0 65.5 286.1 64.7 286.2 60.3 286.3 61.6 286.4 61.3 286.5 65.5 286.6 64.7 286.6 58.5 286.7 55.6 286.8 60.9 286.9 60.8 287.0 57.0 287.1 55.4 287.2 54.2 287.3 56.4 287.4 60.3 287.5 48.6 287.6 54.2 287.7 47.4 287.7 57.7 287.8 48.7 287.9 51.0 288.0 52.3 288.1 43.8 288.2 41.7 288.3 48.1 288.4 42.4 288.5 48.3 288.6 45.7 288.7 43.4 288.8 43.0 288.8 38.3 288.9 44.6 289.0 35.3 289.1 34.5 289.2 38.2 289.3 41.2 289.4 45.0 289.5 35.1 289.6 36.8 289.7 32.8 289.8 35.8 289.9 31.0 289.9 30.0 290.0 28.7 290.1 27.0 290.2 22.4 290.3 17.8" stroke="#0808ee" stroke-width="0.65"/>
</g>
<path d="M33.00 85.00v-2.7M33.00 15.00v2.7M78.92 85.00v-2.7M78.92 15.00v2.7M124.83 85.00v-2.7M124.83 15.00v2.7M170.75 85.00v-2.7M170.75 15.00v2.7M216.67 85.00v-2.7M216.67 15.00v2.7M262.58 85.00v-2.7M262.58 15.00v2.7M308.50 85.00v-2.7M308.50 15.00v2.7M33.00 85.00h2.7M308.50 85.00h-2.7M33.00 57.00h2.7M308.50 57.00h-2.7M33.00 29.00h2.7M308.50 29.00h-2.7" stroke="#808080" stroke-width="0.9" fill="none"/>
<rect x="33.00" y="15.00" width="275.50" height="70.00" fill="none" stroke="#808080" stroke-width="1.1"/>
<text x="33.00" y="96.30" text-anchor="middle">0</text>
<text x="78.92" y="96.30" text-anchor="middle">500</text>
<text x="124.83" y="96.30" text-anchor="middle">1000</text>
<text x="170.75" y="96.30" text-anchor="middle">1500</text>
<text x="216.67" y="96.30" text-anchor="middle">2000</text>
<text x="262.58" y="96.30" text-anchor="middle">2500</text>
<text x="308.50" y="96.30" text-anchor="middle">3000</text>
<text x="30.25" y="85.15" text-anchor="end" dominant-baseline="central">0</text>
<text x="30.25" y="57.15" text-anchor="end" dominant-baseline="central">100</text>
<text x="30.25" y="29.15" text-anchor="end" dominant-baseline="central">200</text>
<text x="170.45" y="11.50" text-anchor="middle">bear11</text>
<text transform="translate(11.90 50.30) rotate(-90)" text-anchor="middle">SV1</text>
<g clip-path="url(#c1)" fill="none" stroke-linejoin="round">
<path d="M395.5 82.4L395.6 82.6 395.7 82.6 395.8 83.0 395.9 82.1 396.0 82.3 396.1 82.5 396.1 82.3 396.2 82.4 396.3 82.6 396.4 82.3 396.5 82.5 396.6 82.5 396.7 82.6 396.8 82.4 396.9 82.5 397.0 82.4 397.1 82.6 397.2 82.5 397.2 82.6 397.3 82.3 397.4 82.4 397.5 82.4 397.6 82.4 397.7 82.7 397.8 82.3 397.9 82.1 398.0 82.8 398.1 82.8 398.2 82.8 398.3 82.3 398.4 82.4 398.4 82.3 398.5 82.3 398.6 82.4 398.7 82.4 398.8 82.5 398.9 82.3 399.0 82.7 399.1 82.6 399.2 82.4 399.3 82.1 399.4 82.6 399.5 82.7 399.5 82.6 399.6 82.3 399.7 82.5 399.8 82.2 399.9 82.8 400.0 82.2 400.1 82.3 400.2 82.7 400.3 82.4 400.4 82.2 400.5 82.4 400.6 82.3 400.7 82.0 400.7 82.4 400.8 82.5 400.9 82.6 401.0 82.3 401.1 82.5 401.2 82.5 401.3 82.5 401.4 82.3 401.5 82.7 401.6 82.8 401.7 82.9 401.8 82.2 401.8 82.4 401.9 82.2 402.0 82.5 402.1 82.6 402.2 82.4 402.3 82.5 402.4 82.7 402.5 82.6 402.6 82.1 402.7 82.4 402.8 82.4 402.9 82.5 403.0 82.6 403.0 82.3 403.1 82.5 403.2 82.6 403.3 82.5 403.4 82.6 403.5 82.4 403.6 82.2 403.7 82.6 403.8 82.2 403.9 82.6 404.0 82.4 404.1 82.6 404.1 82.5 404.2 82.4 404.3 82.5 404.4 82.6 404.5 82.6 404.6 82.6 404.7 82.8 404.8 82.5 404.9 82.4 405.0 82.3 405.1 82.3 405.2 82.0 405.3 82.4 405.3 82.5 405.4 82.1 405.5 82.7 405.6 82.3 405.7 82.6 405.8 82.4 405.9 82.8 406.0 82.3 406.1 82.5 406.2 82.6 406.3 82.1 406.4 82.3 406.4 82.4 406.5 82.6 406.6 82.5 406.7 82.5 406.8 82.3 406.9 82.3 407.0 82.6 407.1 82.6 407.2 82.5 407.3 82.7 407.4 82.6 407.5 82.5 407.6 82.3 407.6 82.2 407.7 82.6 407.8 82.3 407.9 82.5 408.0 82.0 408.1 82.5 408.2 82.3 408.3 82.6 408.4 82.6 408.5 82.4 408.6 82.5 408.7 82.4 408.7 82.7 408.8 82.3 408.9 82.6 409.0 82.1 409.1 82.5 409.2 82.2 409.3 82.7 409.4 82.4 409.5 82.6 409.6 82.5 409.7 82.4 409.8 82.5 409.9 82.4 409.9 82.3 410.0 82.3 410.1 82.5 410.2 82.7 410.3 82.6 410.4 82.5 410.5 82.9 410.6 82.3 410.7 82.5 410.8 82.5 410.9 82.2 411.0 82.3 411.0 82.4 411.1 82.6 411.2 82.4 411.3 82.4 411.4 82.6 411.5 82.2 411.6 82.3 411.7 82.8 411.8 82.4 411.9 82.7 412.0 82.2 412.1 82.3" stroke="#20209c" stroke-width="0.90"/>
<path d="M412.1 82.3L412.2 82.6 412.2 82.6 412.3 82.4 412.4 82.5 412.5 82.1 412.6 82.3 412.7 82.5 412.8 82.3 412.9 82.8 413.0 82.4 413.1 82.3" stroke="#1818b7" stroke-width="0.82"/>
<path d="M413.1 82.3L413.2 82.5 413.3 82.6 413.3 82.3 413.4 82.0 413.5 82.4 413.6 82.6 413.7 82.1 413.8 82.8 413.9 82.3 414.0 82.5 414.1 82.2 414.2 82.6 414.3 82.2 414.4 82.4 414.5 82.8 414.5 82.8 414.6 82.5 414.7 82.2 414.8 82.4 414.9 82.4 415.0 82.5 415.1 82.3 415.2 82.3 415.3 82.4 415.4 82.6 415.5 82.2 415.6 82.1 415.6 82.7 415.7 82.0 415.8 82.3 415.9 82.5 416.0 82.8 416.1 82.3 416.2 82.3 416.3 82.5 416.4 82.8 416.5 82.2 416.6 82.5 416.7 82.5 416.8 81.8 416.8 82.0 416.9 82.2 417.0 82.5 417.1 82.3 417.2 82.9 417.3 82.4 417.4 82.6 417.5 82.7 417.6 82.7 417.7 82.3 417.8 82.4 417.9 82.4 417.9 82.2 418.0 82.6 418.1 82.7 418.2 82.8 418.3 82.5 418.4 82.3 418.5 82.4 418.6 82.3 418.7 82.6 418.8 82.5 418.9 82.6 419.0 82.7 419.1 82.0 419.1 82.2 419.2 82.6 419.3 82.6 419.4 82.4 419.5 82.7 419.6 82.3 419.7 82.7 419.8 82.5 419.9 82.6 420.0 82.5 420.1 82.7 420.2 82.7 420.2 82.6 420.3 82.5 420.4 82.5 420.5 82.4 420.6 82.1 420.7 82.2 420.8 82.5 420.9 82.3 421.0 82.5 421.1 82.1 421.2 82.3 421.3 82.7 421.4 82.2 421.4 82.2 421.5 82.9 421.6 82.6 421.7 82.5 421.8 82.8 421.9 82.6 422.0 82.6 422.1 82.3 422.2 82.3 422.3 81.9 422.4 82.5 422.5 82.2 422.5 82.4 422.6 82.3 422.7 82.6 422.8 82.8 422.9 82.6 423.0 82.2 423.1 82.1 423.2 82.3 423.3 82.3 423.4 82.6 423.5 82.1 423.6 82.1 423.7 82.5 423.7 82.4 423.8 82.6 423.9 82.1 424.0 82.3 424.1 82.4 424.2 82.3 424.3 82.3 424.4 82.5 424.5 82.6 424.6 82.7 424.7 82.7 424.8 82.3 424.8 81.9 424.9 82.7 425.0 82.4 425.1 82.3 425.2 82.6 425.3 82.3 425.4 82.6 425.5 82.1 425.6 82.5 425.7 82.4 425.8 82.2 425.9 82.5 426.0 82.7 426.0 82.5 426.1 82.2 426.2 82.4 426.3 82.3 426.4 82.6 426.5 82.4 426.6 82.2 426.7 82.4 426.8 82.0 426.9 82.4 427.0 82.6 427.1 82.7 427.1 82.2 427.2 82.4 427.3 82.2 427.4 82.3 427.5 82.1 427.6 82.1 427.7 82.5 427.8 82.3 427.9 82.2 428.0 82.6 428.1 82.1 428.2 82.1 428.3 82.2 428.3 82.4 428.4 82.3 428.5 82.6 428.6 82.4 428.7 82.5 428.8 82.4 428.9 82.5 429.0 82.3 429.1 82.1 429.2 82.6 429.3 82.2 429.4 82.8 429.4 82.8 429.5 82.4 429.6 82.4 429.7 82.3 429.8 82.7 429.9 82.4 430.0 82.3 430.1 82.1 430.2 82.4 430.3 82.3 430.4 82.6 430.5 82.4 430.6 82.5 430.6 82.2 430.7 82.6 430.8 82.5 430.9 82.3 431.0 82.0 431.1 82.3 431.2 82.3 431.3 82.4 431.4 82.1 431.5 82.3 431.6 82.0 431.7 82.3 431.7 82.6 431.8 82.5 431.9 82.6 432.0 82.6 432.1 82.1 432.2 82.2 432.3 82.6 432.4 82.0 432.5 82.3 432.6 82.6 432.7 82.3 432.8 82.4 432.9 82.5 432.9 82.8 433.0 82.4 433.1 82.3 433.2 82.9 433.3 82.3 433.4 82.2 433.5 82.5 433.6 82.3 433.7 82.4 433.8 82.5 433.9 82.4 434.0 82.1 434.0 82.7 434.1 82.3 434.2 82.3 434.3 82.5 434.4 82.5 434.5 82.6 434.6 82.5 434.7 82.4 434.8 82.3 434.9 82.5 435.0 81.7 435.1 82.5 435.2 82.3 435.2 82.4 435.3 82.4 435.4 82.1 435.5 82.5 435.6 82.1 435.7 82.1 435.8 82.6 435.9 82.1 436.0 82.5 436.1 81.8 436.2 82.4 436.3 82.5 436.3 82.7 436.4 82.6 436.5 82.5 436.6 82.6 436.7 82.6 436.8 82.5 436.9 82.4 437.0 82.1 437.1 82.7 437.2 82.5 437.3 82.5 437.4 82.7 437.5 82.6 437.5 82.5 437.6 82.2 437.7 82.4 437.8 82.5 437.9 82.2 438.0 82.3 438.1 82.4 438.2 82.3 438.3 82.5 438.4 82.2 438.5 82.3 438.6 82.4 438.6 82.6 438.7 82.0 438.8 82.3 438.9 81.7 439.0 82.5 439.1 82.2 439.2 82.4 439.3 82.3 439.4 82.2 439.5 82.5 439.6 82.4 439.7 82.3 439.8 82.3 439.8 82.2 439.9 82.1 440.0 82.2 440.1 82.3 440.2 82.4 440.3 82.6 440.4 82.5 440.5 82.5 440.6 82.2 440.7 82.4 440.8 82.6 440.9 82.2 440.9 82.5 441.0 82.5 441.1 82.4 441.2 82.2 441.3 82.8 441.4 82.6 441.5 82.3 441.6 82.4 441.7 82.5 441.8 82.5 441.9 82.1 442.0 82.4 442.1 82.2 442.1 82.2 442.2 82.4 442.3 82.2 442.4 82.4 442.5 82.5 442.6 82.6 442.7 82.2 442.8 82.4 442.9 82.4 443.0 82.6 443.1 82.0 443.2 82.2 443.2 82.4 443.3 82.5 443.4 82.6 443.5 82.3 443.6 82.3 443.7 82.6 443.8 82.1 443.9 82.2 444.0 82.5 444.1 82.4 444.2 82.4 444.3 82.3 444.4 82.4 444.4 82.7 444.5 82.0 444.6 82.3 444.7 82.1 444.8 82.1 444.9 82.4 445.0 82.3 445.1 82.2 445.2 82.2 445.3 82.4 445.4 82.5 445.5 82.3 445.5 82.5 445.6 82.4 445.7 82.7 445.8 82.3 445.9 82.5 446.0 82.4 446.1 82.3 446.2 82.3 446.3 81.9 446.4 82.3 446.5 82.6 446.6 82.3 446.7 82.4 446.7 82.2 446.8 82.5 446.9 82.5 447.0 82.4 447.1 82.5 447.2 82.7 447.3 82.5 447.4 82.3 447.5 82.1 447.6 82.4 447.7 82.4 447.8 82.2 447.8 82.2 447.9 82.0 448.0 82.2 448.1 82.3 448.2 82.0 448.3 82.0 448.4 82.4 448.5 82.3 448.6 82.7 448.7 82.4 448.8 82.5 448.9 82.4 449.0 82.4 449.0 82.4 449.1 82.3 449.2 82.2 449.3 82.3 449.4 82.4 449.5 82.6 449.6 82.1 449.7 82.0 449.8 82.4 449.9 82.2 450.0 82.6 450.1 82.6 450.1 82.4 450.2 82.0 450.3 82.5 450.4 82.5 450.5 82.0 450.6 82.7 450.7 82.2 450.8 82.2 450.9 82.4 451.0 82.3 451.1 81.8" stroke="#20209c" stroke-width="0.90"/>
<path d="M451.1 81.8L451.2 82.5 451.3 82.4 451.3 82.4 451.4 82.5 451.5 82.6 451.6 82.0 451.7 82.3 451.8 82.7 451.9 82.5 452.0 82.2 452.1 82.2 452.2 82.6 452.3 82.3 452.4 82.3 452.4 82.2 452.5 82.2 452.6 82.7 452.7 81.9 452.8 82.3 452.9 81.9 453.0 81.7" stroke="#1818b7" stroke-width="0.82"/>
<path d="M453.0 81.7L453.1 82.3 453.2 82.6 453.3 82.1 453.4 82.3 453.5 82.4 453.6 82.5 453.6 82.0 453.7 82.4 453.8 82.6 453.9 82.4 454.0 82.5 454.1 82.3 454.2 82.4 454.3 82.5 454.4 82.2 454.5 82.4 454.6 82.1 454.7 82.0 454.7 82.4 454.8 82.4 454.9 82.3 455.0 82.1 455.1 82.3 455.2 82.3 455.3 82.3 455.4 82.2 455.5 82.2 455.6 82.4 455.7 82.4 455.8 82.3 455.9 82.4 455.9 82.3 456.0 82.2 456.1 82.3 456.2 82.4 456.3 82.5 456.4 81.9 456.5 82.1 456.6 82.5 456.7 82.5 456.8 81.9 456.9 82.0 457.0 82.3 457.0 82.1 457.1 82.6 457.2 82.3 457.3 82.1 457.4 82.7 457.5 82.5 457.6 82.1 457.7 82.1 457.8 82.4 457.9 82.2 458.0 82.0 458.1 82.4 458.2 82.6 458.2 82.3 458.3 82.4 458.4 82.0 458.5 82.3 458.6 82.5 458.7 81.8 458.8 82.4 458.9 82.2 459.0 82.1 459.1 82.1 459.2 82.3 459.3 82.2 459.3 82.3 459.4 82.6 459.5 82.3 459.6 82.3 459.7 82.3 459.8 82.3 459.9 82.4 460.0 82.0 460.1 82.0 460.2 82.7 460.3 82.3 460.4 82.4 460.5 82.8 460.5 82.2 460.6 82.4 460.7 82.4 460.8 82.4 460.9 82.1 461.0 82.0 461.1 82.2 461.2 82.1 461.3 82.3 461.4 82.3 461.5 82.4 461.6 82.3 461.6 82.4 461.7 82.2 461.8 82.1 461.9 82.2 462.0 82.0 462.1 81.7 462.2 82.7 462.3 82.3 462.4 82.4 462.5 82.4 462.6 82.6 462.7 82.3 462.8 82.3 462.8 82.4 462.9 82.3 463.0 82.4 463.1 82.8 463.2 82.0 463.3 82.3 463.4 82.5 463.5 82.2 463.6 82.4 463.7 82.7 463.8 82.1 463.9 82.6 463.9 82.3 464.0 82.2 464.1 82.0 464.2 82.0 464.3 82.2 464.4 82.4 464.5 82.4 464.6 82.0 464.7 81.9 464.8 82.2 464.9 82.4 465.0 82.1 465.1 82.3 465.1 82.4 465.2 82.3 465.3 82.1 465.4 82.2 465.5 82.1 465.6 82.0 465.7 82.2 465.8 82.8 465.9 82.6 466.0 82.2 466.1 82.3 466.2 81.8 466.2 82.3 466.3 82.3 466.4 82.1 466.5 82.0 466.6 82.3 466.7 82.2 466.8 82.5 466.9 82.5 467.0 82.0 467.1 82.6 467.2 82.1 467.3 82.1 467.4 82.1 467.4 82.1 467.5 82.1 467.6 82.7 467.7 82.5 467.8 82.4 467.9 82.1 468.0 82.5 468.1 82.4 468.2 82.3 468.3 82.0 468.4 82.6 468.5 82.5 468.5 82.1 468.6 82.7 468.7 82.2 468.8 82.4 468.9 82.6 469.0 82.3 469.1 82.5 469.2 82.2 469.3 82.2 469.4 81.9 469.5 82.3 469.6 82.2 469.7 82.4 469.7 82.3 469.8 82.0 469.9 82.7 470.0 82.1 470.1 82.4 470.2 82.2 470.3 82.2 470.4 82.1 470.5 82.2 470.6 82.3 470.7 82.2 470.8 82.2 470.8 82.3 470.9 82.2 471.0 82.1 471.1 82.2 471.2 82.2 471.3 82.5 471.4 82.3 471.5 82.6 471.6 82.1 471.7 82.4 471.8 82.0 471.9 81.6 472.0 82.3 472.0 82.0 472.1 82.2 472.2 82.4 472.3 82.4 472.4 82.1 472.5 82.0 472.6 82.2 472.7 82.6 472.8 82.5 472.9 82.3 473.0 82.0 473.1 82.2 473.1 82.2 473.2 82.0 473.3 82.3 473.4 82.3 473.5 82.3 473.6 82.6 473.7 82.1 473.8 82.2 473.9 82.0 474.0 82.5 474.1 82.4 474.2 82.0 474.3 82.2 474.3 81.9 474.4 82.4 474.5 82.2 474.6 82.4 474.7 82.2 474.8 82.3 474.9 82.1 475.0 82.0 475.1 82.1 475.2 82.6 475.3 82.0 475.4 82.1 475.4 82.5 475.5 82.4 475.6 82.2 475.7 82.1 475.8 82.3 475.9 82.6 476.0 82.2 476.1 82.2 476.2 81.7 476.3 82.5 476.4 81.7 476.5 81.9 476.6 82.2 476.6 81.9 476.7 82.2 476.8 82.0 476.9 82.4 477.0 82.2 477.1 82.4 477.2 82.6 477.3 82.3 477.4 82.4 477.5 82.1 477.6 82.0 477.7 82.3 477.7 82.2 477.8 82.2 477.9 82.6 478.0 82.2 478.1 82.2 478.2 82.2 478.3 82.5 478.4 82.6 478.5 82.3 478.6 82.2 478.7 81.9 478.8 82.0 478.9 81.9 478.9 82.1 479.0 82.0 479.1 82.3 479.2 82.1 479.3 82.0 479.4 81.7 479.5 82.2 479.6 82.5 479.7 81.9 479.8 82.4 479.9 82.2 480.0 82.3 480.0 82.4 480.1 81.9 480.2 82.1 480.3 82.4 480.4 82.2 480.5 82.3 480.6 82.1 480.7 82.3 480.8 82.4 480.9 82.4 481.0 82.3 481.1 82.2 481.2 82.4 481.2 82.2 481.3 82.1 481.4 81.7 481.5 82.0 481.6 82.9 481.7 82.3 481.8 82.3 481.9 82.1 482.0 81.9 482.1 82.1" stroke="#20209c" stroke-width="0.90"/>
<path d="M482.1 82.1L482.2 82.7 482.3 82.2 482.3 82.2 482.4 82.1 482.5 81.9 482.6 82.4 482.7 82.0 482.8 82.6 482.9 82.2 483.0 82.1 483.1 81.7 483.2 82.4 483.3 82.6 483.4 82.1 483.5 82.4 483.5 81.9 483.6 82.4 483.7 82.4 483.8 81.9 483.9 82.2 484.0 82.0 484.1 82.5 484.2 81.9 484.3 82.3 484.4 82.0 484.5 82.4 484.6 82.5 484.6 82.3 484.7 82.2 484.8 81.9 484.9 82.1 485.0 82.1 485.1 82.1 485.2 81.5 485.3 82.4 485.4 81.9 485.5 82.2 485.6 82.2 485.7 82.3 485.8 82.0 485.8 82.5 485.9 82.5 486.0 82.2 486.1 82.5 486.2 82.1 486.3 82.0 486.4 82.4 486.5 82.0 486.6 82.3 486.7 82.2 486.8 82.2 486.9 81.8 486.9 82.2 487.0 82.4" stroke="#1818b7" stroke-width="0.82"/>
<path d="M487.0 82.4L487.1 82.4 487.2 81.9 487.3 82.6 487.4 82.3 487.5 82.3 487.6 82.7 487.7 82.3 487.8 82.0 487.9 82.1 488.0 82.4 488.1 82.1 488.1 82.1 488.2 81.8 488.3 82.4 488.4 82.3 488.5 82.2 488.6 82.2 488.7 82.2 488.8 82.2 488.9 82.3 489.0 82.5 489.1 82.3 489.2 82.5 489.2 82.4 489.3 82.3 489.4 82.1 489.5 82.0 489.6 82.4 489.7 82.1 489.8 82.0 489.9 82.2 490.0 82.5 490.1 82.7 490.2 82.0 490.3 82.0 490.4 82.1 490.4 82.4 490.5 81.9 490.6 81.9 490.7 82.2 490.8 82.2 490.9 82.6 491.0 82.0 491.1 82.5 491.2 82.0 491.3 82.0 491.4 82.2 491.5 81.9 491.5 82.3 491.6 82.1 491.7 82.0 491.8 82.1 491.9 82.3 492.0 81.9 492.1 82.1 492.2 82.2 492.3 82.2 492.4 82.2 492.5 81.7 492.6 82.2 492.7 82.2 492.7 82.4 492.8 82.5 492.9 82.6 493.0 82.1 493.1 82.2 493.2 82.4 493.3 82.5 493.4 82.3 493.5 82.3 493.6 82.5 493.7 82.1 493.8 82.2 493.8 82.2 493.9 82.0 494.0 82.3 494.1 81.9 494.2 82.4 494.3 82.1 494.4 82.0 494.5 82.2 494.6 82.1 494.7 82.5 494.8 82.5 494.9 82.2 495.0 82.3 495.0 82.1 495.1 82.2 495.2 82.0 495.3 82.1 495.4 82.1 495.5 82.2 495.6 82.3 495.7 82.3 495.8 81.7 495.9 82.6 496.0 82.2 496.1 82.0 496.1 82.1 496.2 81.9 496.3 82.1 496.4 82.5 496.5 82.3 496.6 82.5 496.7 82.0 496.8 81.9 496.9 82.3 497.0 82.1 497.1 82.3 497.2 82.5 497.3 82.3 497.3 82.5 497.4 82.3 497.5 82.1 497.6 82.0 497.7 81.9 497.8 82.3 497.9 82.1 498.0 82.1 498.1 82.1 498.2 82.8 498.3 82.3 498.4 82.0 498.4 82.4 498.5 82.1 498.6 82.0 498.7 82.6 498.8 82.2 498.9 82.1 499.0 82.2 499.1 82.5 499.2 82.1 499.3 82.3 499.4 82.0 499.5 82.1 499.6 82.3 499.6 82.1 499.7 82.3 499.8 82.3 499.9 82.5 500.0 82.2 500.1 82.0 500.2 82.2 500.3 82.2 500.4 82.3 500.5 82.3 500.6 82.0 500.7 82.5 500.7 81.7 500.8 82.2 500.9 81.7 501.0 81.9 501.1 82.3 501.2 82.0 501.3 82.1 501.4 82.1 501.5 82.0 501.6 82.3 501.7 82.3 501.8 82.3 501.9 82.5 501.9 82.2 502.0 82.1 502.1 82.1 502.2 82.1 502.3 82.3 502.4 82.0 502.5 82.6 502.6 82.3 502.7 82.3 502.8 82.0 502.9 82.0 503.0 82.0 503.0 82.2 503.1 82.0 503.2 82.4 503.3 82.2 503.4 82.6 503.5 81.8 503.6 81.8 503.7 82.3 503.8 82.4 503.9 82.6 504.0 82.5 504.1 82.2" stroke="#20209c" stroke-width="0.90"/>
<path d="M504.1 82.2L504.2 82.2 504.2 82.5 504.3 82.3 504.4 82.3 504.5 82.1 504.6 82.0 504.7 82.2 504.8 82.2 504.9 82.2 505.0 82.6 505.1 82.1" stroke="#1818b7" stroke-width="0.82"/>
<path d="M505.1 82.1L505.2 82.2 505.3 82.0 505.3 82.6 505.4 82.0 505.5 82.3 505.6 82.1 505.7 81.9 505.8 82.5 505.9 82.5 506.0 82.0 506.1 82.4 506.2 82.4 506.3 82.0 506.4 82.2 506.5 82.0 506.5 82.1 506.6 82.2 506.7 82.0 506.8 81.7 506.9 82.2 507.0 81.8 507.1 81.9 507.2 82.1 507.3 82.1 507.4 82.4 507.5 82.3 507.6 82.1 507.6 82.2 507.7 81.9 507.8 82.5 507.9 82.2 508.0 82.3 508.1 82.2 508.2 81.9 508.3 82.4 508.4 82.0 508.5 82.3 508.6 82.2 508.7 81.9 508.8 82.2 508.8 82.0 508.9 82.1 509.0 82.2 509.1 82.2 509.2 82.5 509.3 82.3 509.4 82.1 509.5 82.1 509.6 82.5 509.7 81.9 509.8 82.0 509.9 82.4 509.9 82.4 510.0 82.0" stroke="#20209c" stroke-width="0.90"/>
<path d="M510.0 82.0L510.1 82.5 510.2 82.3 510.3 82.2 510.4 82.2 510.5 82.2 510.6 82.1 510.7 82.3 510.8 82.3 510.9 81.7 511.0 82.5 511.1 82.3" stroke="#1818b7" stroke-width="0.82"/>
<path d="M511.1 82.3L511.1 82.1 511.2 82.3 511.3 81.9 511.4 82.1 511.5 82.0 511.6 82.7 511.7 81.9 511.8 81.9 511.9 82.3 512.0 81.9 512.1 82.1 512.2 81.9 512.2 81.7 512.3 82.1 512.4 82.4 512.5 82.1 512.6 82.4 512.7 82.3 512.8 82.3 512.9 82.3 513.0 81.9 513.1 82.0 513.2 82.3 513.3 81.9 513.4 82.5 513.4 82.3 513.5 82.2 513.6 81.9 513.7 82.0 513.8 82.0 513.9 81.9 514.0 82.0 514.1 81.8 514.2 82.3 514.3 82.5 514.4 82.2 514.5 82.0 514.5 82.1 514.6 81.9 514.7 82.0 514.8 82.0 514.9 82.0 515.0 82.3" stroke="#20209c" stroke-width="0.90"/>
<path d="M515.0 82.3L515.1 81.9 515.2 82.4 515.3 82.2 515.4 82.4 515.5 82.0 515.6 82.5 515.7 81.8 515.7 82.4 515.8 82.1 515.9 82.2 516.0 82.3 516.1 81.9 516.2 82.2 516.3 81.8 516.4 82.4 516.5 82.3 516.6 82.6 516.7 82.0 516.8 81.9 516.8 82.1 516.9 82.2 517.0 82.3 517.1 81.6 517.2 82.0 517.3 82.5 517.4 82.2 517.5 82.7 517.6 81.8 517.7 81.7 517.8 81.8 517.9 82.1 518.0 82.3 518.0 82.4" stroke="#1818b7" stroke-width="0.82"/>
<path d="M518.0 82.4L518.1 82.0 518.2 82.3 518.3 82.2 518.4 82.3 518.5 82.2 518.6 81.9 518.7 81.7 518.8 82.1 518.9 82.1 519.0 82.4 519.1 82.4 519.1 82.4 519.2 81.9 519.3 82.1 519.4 81.9 519.5 82.0 519.6 82.2 519.7 82.4 519.8 82.2 519.9 82.4 520.0 81.7 520.1 82.1" stroke="#20209c" stroke-width="0.90"/>
<path d="M520.1 82.1L520.2 82.2 520.3 81.7 520.3 82.2 520.4 82.0 520.5 82.1 520.6 82.0 520.7 82.2 520.8 82.0 520.9 81.8 521.0 82.4 521.1 82.6 521.2 81.8 521.3 82.1 521.4 81.9 521.4 82.2 521.5 81.8 521.6 81.7 521.7 82.4 521.8 82.0 521.9 82.2 522.0 82.5" stroke="#1818b7" stroke-width="0.82"/>
<path d="M522.0 82.5L522.1 82.2 522.2 82.0 522.3 82.4 522.4 82.4 522.5 81.8 522.6 82.1 522.6 82.0 522.7 82.4 522.8 82.3 522.9 82.1 523.0 82.1 523.1 82.1 523.2 81.8 523.3 82.1 523.4 82.5 523.5 82.3 523.6 82.1 523.7 81.8 523.7 82.3 523.8 82.2 523.9 82.1 524.0 82.3 524.1 82.3 524.2 82.2 524.3 81.9 524.4 82.0 524.5 82.2 524.6 82.0 524.7 82.4 524.8 81.9 524.9 81.9 524.9 82.0 525.0 82.5" stroke="#20209c" stroke-width="0.90"/>
<path d="M525.0 82.5L525.1 81.7 525.2 82.8 525.3 82.3 525.4 82.3 525.5 82.0 525.6 82.4 525.7 82.1 525.8 82.1 525.9 82.2 526.0 81.9 526.0 81.8 526.1 82.0 526.2 82.2 526.3 82.6 526.4 81.8 526.5 82.2 526.6 82.5 526.7 82.1 526.8 81.8 526.9 82.1 527.0 82.4 527.1 81.6 527.2 82.0 527.2 82.0 527.3 81.9 527.4 82.6 527.5 82.1 527.6 82.1 527.7 81.6 527.8 82.2 527.9 82.2 528.0 82.4 528.1 82.3 528.2 82.1 528.3 82.0 528.3 82.1 528.4 81.6 528.5 82.0 528.6 82.0 528.7 81.8 528.8 82.0 528.9 82.2 529.0 82.4 529.1 82.0" stroke="#1818b7" stroke-width="0.82"/>
<path d="M529.1 82.0L529.2 82.3 529.3 81.8 529.4 82.3 529.5 82.6 529.5 82.1 529.6 81.9 529.7 82.1 529.8 82.1 529.9 82.1 530.0 81.7 530.1 82.0 530.2 82.1 530.3 82.2 530.4 82.5 530.5 81.8 530.6 81.8 530.6 82.3 530.7 82.0 530.8 82.0 530.9 82.2 531.0 82.2 531.1 81.9 531.2 82.4 531.3 82.2 531.4 82.1 531.5 82.1 531.6 82.1 531.7 82.0 531.8 82.0 531.8 82.3 531.9 82.1 532.0 82.2 532.1 81.7 532.2 82.4 532.3 82.1 532.4 81.9 532.5 82.2 532.6 82.2 532.7 82.2 532.8 82.0 532.9 82.3 532.9 82.1 533.0 82.1 533.1 82.4 533.2 82.0 533.3 82.2 533.4 82.0 533.5 81.9 533.6 82.0 533.7 82.3 533.8 82.0 533.9 82.4 534.0 82.2 534.1 81.7 534.1 82.1 534.2 81.7 534.3 82.1 534.4 82.0 534.5 82.3 534.6 81.8 534.7 82.1 534.8 81.9 534.9 81.9 535.0 81.9 535.1 82.0 535.2 82.0 535.2 82.0 535.3 82.2 535.4 82.5 535.5 81.9 535.6 81.5 535.7 81.7 535.8 81.4 535.9 81.9 536.0 82.2 536.1 82.2" stroke="#20209c" stroke-width="0.90"/>
<path d="M536.1 82.2L536.2 81.8 536.3 81.9 536.4 82.0 536.4 81.8 536.5 82.2 536.6 81.8 536.7 82.0 536.8 81.9 536.9 81.7 537.0 82.0 537.1 81.6 537.2 81.6 537.3 82.1 537.4 81.4 537.5 82.3 537.5 82.0 537.6 81.8 537.7 82.5 537.8 81.7 537.9 81.6 538.0 82.0 538.1 81.9 538.2 81.9 538.3 82.0 538.4 81.6 538.5 82.0 538.6 81.9 538.7 81.8 538.7 81.7 538.8 81.6 538.9 82.3 539.0 82.4 539.1 81.9 539.2 81.9 539.3 82.2 539.4 81.8 539.5 81.7 539.6 81.8 539.7 81.5 539.8 82.2 539.8 81.9 539.9 81.4 540.0 81.7 540.1 82.2 540.2 81.8 540.3 81.6 540.4 81.3 540.5 81.7 540.6 81.5 540.7 82.2 540.8 81.9 540.9 81.5 541.0 82.1 541.0 81.9 541.1 82.4 541.2 81.4 541.3 81.9 541.4 81.7 541.5 82.3 541.6 82.2 541.7 81.3 541.8 81.9 541.9 82.0 542.0 81.7 542.1 81.7 542.1 82.4 542.2 82.1 542.3 81.8 542.4 81.8 542.5 81.7 542.6 81.9 542.7 81.9 542.8 81.7 542.9 82.0 543.0 82.0 543.1 82.0" stroke="#1818b7" stroke-width="0.82"/>
<path d="M543.1 82.0L543.2 81.8 543.3 81.8 543.3 81.9 543.4 81.9 543.5 81.8 543.6 81.7 543.7 81.7 543.8 82.2 543.9 81.5 544.0 82.2 544.1 81.6" stroke="#20209c" stroke-width="0.90"/>
<path d="M544.1 81.6L544.2 82.0 544.3 81.6 544.4 81.5 544.4 82.3 544.5 81.6 544.6 81.7 544.7 81.9 544.8 81.6 544.9 81.9 545.0 81.7 545.1 82.1 545.2 81.5 545.3 81.6 545.4 81.5 545.5 81.9 545.6 81.2 545.6 81.1 545.7 81.8 545.8 81.9 545.9 81.8 546.0 81.5 546.1 81.4 546.2 81.9 546.3 82.3 546.4 81.6 546.5 81.7 546.6 81.7 546.7 81.5 546.7 82.0 546.8 81.7 546.9 81.8 547.0 81.6 547.1 81.3 547.2 81.7 547.3 82.0 547.4 81.3 547.5 81.5 547.6 81.7 547.7 82.2 547.8 82.0 547.9 81.6 547.9 81.5 548.0 81.8 548.1 81.5 548.2 81.9 548.3 81.8 548.4 81.5 548.5 81.7 548.6 81.6 548.7 81.4 548.8 81.3 548.9 81.8 549.0 81.7 549.0 82.1 549.1 82.1 549.2 81.5 549.3 81.8 549.4 82.2 549.5 81.5 549.6 81.9 549.7 81.7 549.8 81.5 549.9 81.5 550.0 81.6 550.1 82.3 550.2 81.4 550.2 81.8 550.3 82.1 550.4 82.3 550.5 81.2 550.6 81.6 550.7 81.6 550.8 81.4 550.9 81.6 551.0 82.1 551.1 81.4 551.2 81.3 551.3 81.4 551.3 81.1 551.4 80.9 551.5 81.8 551.6 81.7 551.7 81.3 551.8 81.5 551.9 81.5 552.0 81.3 552.1 81.3 552.2 81.7 552.3 81.5 552.4 81.8 552.5 81.6 552.5 81.9 552.6 82.2 552.7 81.7 552.8 81.7 552.9 81.2 553.0 81.0 553.1 81.5 553.2 81.4 553.3 81.8 553.4 81.8 553.5 81.6 553.6 81.6 553.6 81.4 553.7 81.5 553.8 80.9 553.9 81.6 554.0 82.1 554.1 81.5 554.2 81.7 554.3 81.4 554.4 81.1 554.5 81.7 554.6 81.5 554.7 81.3 554.8 81.8 554.8 81.4 554.9 81.3 555.0 81.2" stroke="#1818b7" stroke-width="0.82"/>
<path d="M555.0 81.2L555.1 81.1 555.2 81.3 555.3 81.3 555.4 82.0 555.5 82.4 555.6 81.8 555.7 81.0 555.8 81.4 555.9 82.3 555.9 81.6 556.0 81.3 556.1 82.1 556.2 81.2 556.3 81.9 556.4 81.1 556.5 81.4 556.6 80.3 556.7 81.9 556.8 81.3 556.9 82.0 557.0 81.0 557.1 81.4 557.1 81.1 557.2 81.4 557.3 81.8 557.4 81.6 557.5 81.9 557.6 81.8 557.7 81.3 557.8 81.0 557.9 81.1 558.0 81.2 558.1 81.6" stroke="#1010d3" stroke-width="0.73"/>
<path d="M558.1 81.6L558.2 81.2 558.2 81.7 558.3 81.3 558.4 81.1 558.5 81.4 558.6 81.6 558.7 81.5 558.8 81.1 558.9 81.5 559.0 81.9 559.1 81.5 559.2 81.8 559.3 80.8 559.4 81.3 559.4 81.9 559.5 81.2 559.6 81.1 559.7 81.2 559.8 81.5 559.9 81.3 560.0 81.2 560.1 80.9 560.2 81.2 560.3 80.5 560.4 81.4 560.5 80.7 560.5 81.3 560.6 82.0 560.7 81.8 560.8 82.0 560.9 82.0 561.0 80.8" stroke="#1818b7" stroke-width="0.82"/>
<path d="M561.0 80.8L561.1 81.6 561.2 81.1 561.3 81.6 561.4 81.3 561.5 81.7 561.6 81.0 561.7 81.4 561.7 81.5 561.8 81.3 561.9 80.4 562.0 81.1 562.1 80.9 562.2 81.8 562.3 81.5 562.4 81.2 562.5 82.0 562.6 80.7 562.7 81.2 562.8 81.3 562.8 81.3 562.9 81.3 563.0 81.5 563.1 80.7 563.2 81.0 563.3 80.7 563.4 81.4 563.5 81.6 563.6 80.7 563.7 81.7 563.8 81.5 563.9 80.9 564.0 80.8 564.0 81.8" stroke="#1010d3" stroke-width="0.73"/>
<path d="M564.0 81.8L564.1 81.3 564.2 81.2 564.3 81.3 564.4 81.6 564.5 80.9 564.6 81.4 564.7 81.3 564.8 82.1 564.9 81.2 565.0 82.0 565.1 80.9 565.1 81.0 565.2 81.4 565.3 81.1 565.4 81.1 565.5 81.2 565.6 81.0 565.7 81.2 565.8 81.4 565.9 81.5 566.0 80.5 566.1 81.1 566.2 81.2 566.3 80.9 566.3 81.3 566.4 81.3 566.5 80.9 566.6 80.7 566.7 80.9 566.8 81.8 566.9 81.1 567.0 81.2 567.1 80.9 567.2 81.5 567.3 81.6 567.4 81.2 567.4 81.5 567.5 81.6 567.6 81.2 567.7 80.7 567.8 81.1 567.9 80.6 568.0 81.5 568.1 80.8 568.2 81.1 568.3 81.5 568.4 81.3 568.5 81.5 568.6 81.2 568.6 81.4 568.7 80.6 568.8 81.3 568.9 81.7 569.0 81.2 569.1 80.9 569.2 81.2 569.3 80.7 569.4 81.5 569.5 81.5 569.6 80.4 569.7 81.1 569.7 80.8 569.8 80.9 569.9 80.8 570.0 81.0" stroke="#1818b7" stroke-width="0.82"/>
<path d="M570.0 81.0L570.1 81.1 570.2 80.6 570.3 81.3 570.4 81.0 570.5 80.7 570.6 81.2 570.7 81.7 570.8 80.8 570.9 80.6 570.9 80.9 571.0 81.8" stroke="#1010d3" stroke-width="0.73"/>
<path d="M571.0 81.8L571.1 80.7 571.2 80.2 571.3 81.7 571.4 82.2 571.5 81.1 571.6 81.0 571.7 80.7 571.8 80.6 571.9 81.0 572.0 80.8 572.0 80.9" stroke="#1818b7" stroke-width="0.82"/>
<path d="M572.0 80.9L572.1 80.9 572.2 81.0 572.3 81.1 572.4 80.7 572.5 80.8 572.6 81.2 572.7 80.5 572.8 81.3 572.9 81.1 573.0 80.9 573.1 81.8" stroke="#1010d3" stroke-width="0.73"/>
<path d="M573.1 81.8L573.2 81.1 573.2 80.6 573.3 80.6 573.4 81.5 573.5 81.3 573.6 81.5 573.7 81.1 573.8 81.0 573.9 81.7 574.0 80.8 574.1 80.9" stroke="#1818b7" stroke-width="0.82"/>
<path d="M574.1 80.9L574.2 81.0 574.3 81.3 574.3 81.0 574.4 81.8 574.5 80.8 574.6 80.8 574.7 81.0 574.8 81.5 574.9 80.3 575.0 80.4 575.1 81.8 575.2 80.7 575.3 80.8 575.4 82.1 575.5 80.7 575.5 80.6 575.6 80.6 575.7 80.8 575.8 81.2 575.9 81.1 576.0 80.7" stroke="#1010d3" stroke-width="0.73"/>
<path d="M576.0 80.7L576.1 80.3 576.2 81.1 576.3 81.0 576.4 80.6 576.5 81.9 576.6 80.7 576.6 81.0 576.7 81.9 576.8 80.5 576.9 81.3 577.0 80.5 577.1 80.2 577.2 81.5 577.3 81.4 577.4 80.9 577.5 81.7 577.6 80.5 577.7 80.8 577.8 80.4 577.8 81.7 577.9 80.7 578.0 80.6 578.1 81.7 578.2 80.4 578.3 81.5 578.4 80.7 578.5 81.5 578.6 80.4 578.7 80.0 578.8 80.8 578.9 80.8 578.9 80.2 579.0 81.0" stroke="#0808ee" stroke-width="0.65"/>
<path d="M579.0 81.0L579.1 80.8 579.2 80.4 579.3 80.6 579.4 80.0 579.5 80.2 579.6 79.8 579.7 80.8 579.8 80.2 579.9 81.2 580.0 80.3 580.1 79.9 580.1 79.5 580.2 81.4 580.3 80.8 580.4 80.3 580.5 81.2 580.6 80.4 580.7 80.4 580.8 80.9 580.9 81.0 581.0 81.2 581.1 80.5 581.2 80.0 581.2 80.5 581.3 79.2 581.4 81.4 581.5 81.0 581.6 80.3 581.7 81.2 581.8 80.4 581.9 80.2 582.0 80.5 582.1 80.7" stroke="#1010d3" stroke-width="0.73"/>
<path d="M582.1 80.7L582.2 80.1 582.3 80.4 582.4 80.2 582.4 80.3 582.5 81.0 582.6 81.2 582.7 80.8 582.8 80.5 582.9 80.7 583.0 80.0 583.1 80.4 583.2 80.0 583.3 80.5 583.4 81.0 583.5 80.1 583.5 80.3 583.6 81.0 583.7 80.8 583.8 78.9 583.9 82.5 584.0 79.9 584.1 80.5 584.2 80.6 584.3 80.7 584.4 80.8 584.5 77.2 584.6 80.8 584.7 80.7 584.7 80.0 584.8 80.3 584.9 78.1 585.0 80.7 585.1 81.3 585.2 79.8 585.3 81.1 585.4 81.9 585.5 79.8 585.6 80.0 585.7 80.3 585.8 80.8 585.8 79.7 585.9 81.1 586.0 81.8 586.1 80.3 586.2 79.9 586.3 80.1 586.4 79.2 586.5 79.9 586.6 80.6 586.7 80.5 586.8 79.9 586.9 80.4 587.0 80.5 587.0 81.5 587.1 80.6 587.2 81.2 587.3 80.2 587.4 80.3 587.5 79.9 587.6 79.2 587.7 80.5 587.8 79.4 587.9 81.0 588.0 80.3 588.1 79.7 588.1 79.1 588.2 81.1 588.3 80.5 588.4 80.2 588.5 80.4 588.6 81.0 588.7 80.9 588.8 81.1 588.9 80.4 589.0 81.2 589.1 79.1 589.2 79.5 589.3 81.6 589.3 80.6 589.4 79.4 589.5 79.3 589.6 79.5 589.7 81.2 589.8 80.5 589.9 79.4 590.0 80.2 590.1 80.3 590.2 79.9 590.3 79.6 590.4 80.1 590.4 80.1 590.5 79.5 590.6 80.6 590.7 80.9 590.8 79.7 590.9 81.0 591.0 79.9 591.1 80.7 591.2 79.6 591.3 81.0 591.4 79.4 591.5 80.0 591.6 80.4 591.6 80.8 591.7 80.3 591.8 80.8 591.9 81.0 592.0 79.4 592.1 79.7 592.2 79.3 592.3 81.1 592.4 81.6 592.5 81.3 592.6 79.7 592.7 79.5 592.7 81.5 592.8 79.4 592.9 80.4 593.0 81.0 593.1 80.2 593.2 79.7 593.3 80.3 593.4 80.2 593.5 80.7 593.6 81.1 593.7 80.4 593.8 81.3 593.9 79.6 593.9 80.7 594.0 79.1 594.1 81.3 594.2 79.0 594.3 80.7 594.4 80.7 594.5 79.8 594.6 79.3 594.7 80.1 594.8 80.3 594.9 78.5 595.0 79.6 595.0 80.9 595.1 80.2 595.2 78.7 595.3 79.7 595.4 79.4 595.5 78.4 595.6 80.5 595.7 79.7 595.8 80.5 595.9 80.0 596.0 79.5 596.1 81.0 596.2 79.8 596.2 79.8 596.3 79.1 596.4 80.4 596.5 81.0 596.6 79.6 596.7 80.8 596.8 79.8 596.9 79.5 597.0 80.6 597.1 80.0 597.2 80.7 597.3 82.2 597.3 81.1 597.4 81.6 597.5 79.9 597.6 80.8 597.7 80.0 597.8 79.9 597.9 79.0 598.0 80.2 598.1 80.2 598.2 79.4 598.3 78.5 598.4 79.9 598.5 79.6 598.5 80.0 598.6 80.4 598.7 81.1 598.8 79.9 598.9 80.1 599.0 80.0 599.1 78.1 599.2 80.1 599.3 79.5 599.4 80.1 599.5 78.8 599.6 80.0 599.6 78.2 599.7 80.0 599.8 79.1 599.9 78.9 600.0 80.0 600.1 79.0 600.2 79.7 600.3 80.4 600.4 80.3 600.5 79.5 600.6 78.2 600.7 80.2 600.8 79.3 600.8 80.4 600.9 79.5 601.0 80.9 601.1 80.4 601.2 79.7 601.3 80.4 601.4 79.9 601.5 78.8 601.6 79.8 601.7 80.3 601.8 80.8 601.9 80.1 601.9 78.6 602.0 79.7 602.1 79.8 602.2 79.0 602.3 78.9 602.4 78.7 602.5 80.0 602.6 80.5 602.7 81.1 602.8 80.2 602.9 80.0 603.0 79.0 603.1 79.3 603.1 80.1 603.2 78.8 603.3 80.8 603.4 80.6 603.5 80.7 603.6 80.6 603.7 79.8 603.8 80.4 603.9 80.3 604.0 78.3 604.1 80.9 604.2 80.5 604.2 79.8 604.3 79.1 604.4 79.1 604.5 79.8 604.6 79.9 604.7 79.8 604.8 78.8 604.9 80.4 605.0 81.7 605.1 79.3 605.2 80.6 605.3 79.6 605.4 78.2 605.4 79.4 605.5 77.7 605.6 81.0 605.7 79.3 605.8 79.1 605.9 78.7 606.0 80.2 606.1 79.3 606.2 79.3 606.3 79.4 606.4 80.8 606.5 81.1 606.5 78.9 606.6 79.1 606.7 79.4 606.8 78.8 606.9 78.4 607.0 80.5 607.1 78.6 607.2 77.9 607.3 78.4 607.4 78.8 607.5 72.4 607.6 80.8 607.7 79.8 607.7 78.3 607.8 77.2 607.9 78.8 608.0 79.7 608.1 79.4 608.2 78.4 608.3 77.2 608.4 78.4 608.5 79.7 608.6 78.5 608.7 78.7 608.8 76.7 608.8 78.5 608.9 79.1 609.0 79.2 609.1 80.4 609.2 80.2 609.3 79.6 609.4 79.9 609.5 78.6 609.6 78.9 609.7 78.0 609.8 77.4 609.9 78.9 610.0 79.2 610.0 81.0 610.1 78.6 610.2 78.3 610.3 79.8 610.4 79.4 610.5 79.7 610.6 77.8 610.7 78.2 610.8 77.6 610.9 80.2 611.0 76.0 611.1 79.8 611.1 80.0 611.2 78.6 611.3 77.3 611.4 76.8 611.5 79.3 611.6 79.6 611.7 77.7 611.8 77.4 611.9 79.7 612.0 79.3 612.1 79.2 612.2 78.9 612.3 76.8 612.3 77.3 612.4 77.5 612.5 77.2 612.6 78.7 612.7 77.7 612.8 78.8 612.9 79.5 613.0 76.7 613.1 80.7 613.2 78.6 613.3 79.3 613.4 80.6 613.4 79.1 613.5 78.5 613.6 78.0 613.7 79.6 613.8 77.7 613.9 78.2 614.0 77.6 614.1 80.8 614.2 79.1 614.3 79.3 614.4 77.8 614.5 79.4 614.6 79.1 614.6 79.9 614.7 79.9 614.8 79.6 614.9 77.3 615.0 76.9 615.1 81.4 615.2 78.1 615.3 79.0 615.4 77.7 615.5 77.7 615.6 78.8 615.7 78.9 615.7 79.1 615.8 78.4 615.9 79.3 616.0 78.1 616.1 76.6 616.2 79.1 616.3 79.1 616.4 79.1 616.5 77.5 616.6 77.4 616.7 76.4 616.8 77.3 616.9 78.1 616.9 77.6 617.0 79.9 617.1 77.5 617.2 78.0 617.3 75.5 617.4 71.5 617.5 79.2 617.6 78.9 617.7 77.0 617.8 80.8 617.9 79.3 618.0 77.6 618.0 77.2 618.1 77.8 618.2 76.5 618.3 78.4 618.4 77.9 618.5 78.3 618.6 79.5 618.7 77.9 618.8 78.7 618.9 77.9 619.0 81.5 619.1 77.8 619.2 78.7 619.2 78.8 619.3 77.9 619.4 78.5 619.5 76.6 619.6 76.2 619.7 76.7 619.8 76.5 619.9 77.3 620.0 77.8 620.1 79.6 620.2 78.3 620.3 76.1 620.3 76.7 620.4 78.5 620.5 77.6 620.6 76.3 620.7 78.0 620.8 75.5 620.9 78.8 621.0 76.6 621.1 76.7 621.2 77.5 621.3 77.3 621.4 76.9 621.5 80.8 621.5 77.0 621.6 76.1 621.7 77.1 621.8 76.1 621.9 79.3 622.0 77.7 622.1 77.2 622.2 78.0 622.3 75.9 622.4 76.9 622.5 78.3 622.6 76.4 622.6 76.4 622.7 78.2 622.8 76.7 622.9 77.0 623.0 77.1 623.1 79.3 623.2 75.8 623.3 76.6 623.4 77.6 623.5 77.0 623.6 77.0 623.7 77.9 623.8 78.3 623.8 77.4 623.9 78.3 624.0 78.2 624.1 79.1 624.2 77.9 624.3 76.1 624.4 77.2 624.5 77.4 624.6 77.9 624.7 78.3 624.8 78.9 624.9 76.7 624.9 79.2 625.0 79.9 625.1 78.9 625.2 79.3 625.3 79.6 625.4 74.7 625.5 80.0 625.6 78.7 625.7 79.4 625.8 79.7 625.9 78.6 626.0 79.6 626.1 79.8 626.1 79.2 626.2 79.2 626.3 78.7 626.4 80.1 626.5 79.3 626.6 80.1 626.7 79.2 626.8 79.7 626.9 79.6 627.0 79.6 627.1 78.5 627.2 77.8 627.2 78.6 627.3 78.6 627.4 78.6 627.5 77.6 627.6 78.8 627.7 73.9 627.8 77.7 627.9 75.5 628.0 77.3 628.1 79.0 628.2 79.2 628.3 77.9 628.4 78.2 628.4 77.7 628.5 78.7 628.6 74.8 628.7 75.0 628.8 79.4 628.9 76.9 629.0 76.0 629.1 77.8 629.2 77.7 629.3 76.2 629.4 76.8 629.5 78.8 629.5 76.0 629.6 77.9 629.7 75.3 629.8 78.5 629.9 80.0 630.0 77.3 630.1 76.0 630.2 76.8 630.3 77.2 630.4 76.2 630.5 76.3 630.6 79.5 630.7 76.4 630.7 78.7 630.8 78.0 630.9 78.9 631.0 78.4 631.1 75.6 631.2 78.7 631.3 77.1 631.4 78.3 631.5 76.2 631.6 78.9 631.7 77.3 631.8 76.3 631.8 74.7 631.9 78.7 632.0 78.3 632.1 69.5 632.2 75.6 632.3 78.5 632.4 76.4 632.5 78.0 632.6 78.5 632.7 79.2 632.8 77.2 632.9 76.2 633.0 77.4 633.0 79.8 633.1 78.0 633.2 76.2 633.3 76.3 633.4 77.0 633.5 75.5 633.6 72.6 633.7 78.7 633.8 74.5 633.9 76.5 634.0 77.5 634.1 77.8 634.1 80.3 634.2 76.3 634.3 79.7 634.4 79.6 634.5 77.3 634.6 75.5 634.7 77.7 634.8 76.8 634.9 77.7 635.0 76.8 635.1 79.2 635.2 74.7 635.3 78.4 635.3 76.5 635.4 79.7 635.5 75.1 635.6 76.7 635.7 74.8 635.8 78.0 635.9 75.9 636.0 77.4 636.1 69.5 636.2 75.6 636.3 78.2 636.4 76.3 636.4 74.8 636.5 75.0 636.6 75.9 636.7 76.7 636.8 78.3 636.9 75.4 637.0 77.9 637.1 75.7 637.2 77.5 637.3 77.1 637.4 77.1 637.5 76.4 637.6 77.6 637.6 76.9 637.7 77.7 637.8 76.4 637.9 76.7 638.0 76.5 638.1 78.1 638.2 76.7 638.3 77.0 638.4 76.3 638.5 77.0 638.6 78.2 638.7 76.1 638.7 77.9 638.8 76.7 638.9 79.6 639.0 76.4 639.1 76.2 639.2 78.1 639.3 76.3 639.4 77.5 639.5 75.3 639.6 76.2 639.7 78.5 639.8 77.2 639.9 79.2 639.9 77.4 640.0 76.3 640.1 76.0 640.2 77.1 640.3 77.3 640.4 76.8 640.5 77.7 640.6 76.6 640.7 75.6 640.8 76.7 640.9 75.9 641.0 77.9 641.0 77.5 641.1 76.5 641.2 74.4 641.3 75.7 641.4 74.8 641.5 76.8 641.6 75.3 641.7 79.0 641.8 76.2 641.9 79.4 642.0 75.3 642.1 76.3 642.2 75.4 642.2 76.3 642.3 77.4 642.4 77.7 642.5 70.0 642.6 75.0 642.7 76.0 642.8 77.5 642.9 77.5 643.0 77.7 643.1 77.1 643.2 76.9 643.3 77.4 643.3 76.8 643.4 78.7 643.5 74.8 643.6 76.5 643.7 74.9 643.8 76.4 643.9 77.0 644.0 76.6 644.1 76.5 644.2 77.6 644.3 77.2 644.4 74.3 644.5 75.5 644.5 77.4 644.6 76.0 644.7 77.7 644.8 74.9 644.9 78.0 645.0 75.6 645.1 76.6 645.2 76.6 645.3 77.7 645.4 77.0 645.5 77.6 645.6 77.7 645.6 76.1 645.7 73.5 645.8 77.1 645.9 75.4 646.0 76.7 646.1 77.5 646.2 74.9 646.3 75.8 646.4 75.2 646.5 76.5 646.6 76.4 646.7 77.6 646.8 76.9 646.8 74.5 646.9 79.5 647.0 76.1 647.1 74.7 647.2 75.6 647.3 75.5 647.4 76.9 647.5 75.1 647.6 67.8 647.7 76.5 647.8 74.5 647.9 76.6 647.9 78.1 648.0 71.8 648.1 67.8 648.2 68.8 648.3 67.7 648.4 67.4 648.5 69.6 648.6 63.1 648.7 65.1 648.8 59.4 648.9 64.4 649.0 63.2 649.1 64.9 649.1 57.4 649.2 59.9 649.3 55.9 649.4 54.7 649.5 54.8 649.6 58.1 649.7 57.7 649.8 53.8 649.9 52.5 650.0 51.6 650.1 54.6 650.2 54.5 650.2 49.9 650.3 54.9 650.4 50.2 650.5 51.2 650.6 52.6 650.7 50.3 650.8 44.4 650.9 44.8 651.0 43.8 651.1 45.9 651.2 46.0 651.3 43.5 651.4 44.6 651.4 48.3 651.5 44.7 651.6 38.4 651.7 45.1 651.8 41.1 651.9 42.6 652.0 40.0 652.1 44.3 652.2 45.1 652.3 40.4 652.4 43.7 652.5 25.6 652.5 34.6 652.6 39.7 652.7 41.6 652.8 42.0 652.9 44.9 653.0 46.4 653.1 44.7 653.2 40.9 653.3 41.4" stroke="#0808ee" stroke-width="0.65"/>
</g>
<path d="M395.50 85.00v-2.7M395.50 15.00v2.7M441.50 85.00v-2.7M441.50 15.00v2.7M487.50 85.00v-2.7M487.50 15.00v2.7M533.50 85.00v-2.7M533.50 15.00v2.7M579.50 85.00v-2.7M579.50 15.00v2.7M625.50 85.00v-2.7M625.50 15.00v2.7M671.50 85.00v-2.7M671.50 15.00v2.7M395.50 85.00h2.7M671.50 85.00h-2.7M395.50 57.00h2.7M671.50 57.00h-2.7M395.50 29.00h2.7M671.50 29.00h-2.7" stroke="#808080" stroke-width="0.9" fill="none"/>
<rect x="395.50" y="15.00" width="276.00" height="70.00" fill="none" stroke="#808080" stroke-width="1.1"/>
<text x="395.50" y="96.30" text-anchor="middle">0</text>
<text x="441.50" y="96.30" text-anchor="middle">500</text>
<text x="487.50" y="96.30" text-anchor="middle">1000</text>
<text x="533.50" y="96.30" text-anchor="middle">1500</text>
<text x="579.50" y="96.30" text-anchor="middle">2000</text>
<text x="625.50" y="96.30" text-anchor="middle">2500</text>
<text x="671.50" y="96.30" text-anchor="middle">3000</text>
<text x="392.75" y="85.15" text-anchor="end" dominant-baseline="central">0</text>
<text x="392.75" y="57.15" text-anchor="end" dominant-baseline="central">100</text>
<text x="392.75" y="29.15" text-anchor="end" dominant-baseline="central">200</text>
<text x="533.20" y="11.50" text-anchor="middle">bear11</text>
<text transform="translate(374.90 50.30) rotate(-90)" text-anchor="middle">SV2</text>
<g clip-path="url(#c2)" fill="none" stroke-linejoin="round">
<path d="M33.0 169.2L33.3 171.8 33.6 170.3 33.9 170.9 34.2 171.0" stroke="#20209c" stroke-width="0.90"/>
<path d="M34.2 171.0L34.5 171.0 34.8 172.0 35.1 170.9 35.4 171.1 35.8 168.6 36.1 171.9 36.4 173.6 36.7 171.7 37.0 170.1 37.3 170.4 37.6 170.3 37.9 170.1 38.2 170.7" stroke="#1818b7" stroke-width="0.82"/>
<path d="M38.2 170.7L38.5 172.6 38.8 175.7 39.1 175.9 39.4 175.5 39.7 176.1 40.0 176.5 40.3 176.3 40.7 175.9 41.0 175.2 41.3 176.1 41.6 176.1 41.9 175.7 42.2 176.5 42.5 176.1 42.8 175.4 43.1 175.4 43.4 175.5 43.7 175.4 44.0 177.1 44.3 176.0 44.6 177.3 44.9 177.9 45.2 177.1 45.6 176.8 45.9 177.0 46.2 177.1 46.5 176.5 46.8 176.5 47.1 176.1 47.4 175.9 47.7 176.6 48.0 176.1 48.3 176.6 48.6 176.7 48.9 175.8 49.2 175.6 49.5 175.8 49.8 176.0 50.1 175.5 50.4 176.7 50.8 175.5 51.1 175.7 51.4 176.7 51.7 176.1 52.0 176.5 52.3 175.8 52.6 177.0 52.9 176.6 53.2 176.0 53.5 175.8 53.8 177.2 54.1 176.6 54.4 176.4 54.7 176.9 55.0 176.1 55.3 177.3 55.7 175.7 56.0 177.1 56.3 175.9 56.6 176.3 56.9 176.3 57.2 176.8 57.5 175.3 57.8 175.7 58.1 175.7 58.4 175.6 58.7 175.9 59.0 176.3 59.3 176.4 59.6 176.4 59.9 175.7 60.2 177.0 60.5 176.7 60.9 176.7 61.2 176.6 61.5 176.4 61.8 176.4 62.1 177.2 62.4 176.5 62.7 176.1 63.0 175.3 63.3 176.4 63.6 176.6 63.9 176.0 64.2 176.6 64.5 176.3 64.8 177.2 65.1 176.9" stroke="#20209c" stroke-width="0.90"/>
<path d="M65.1 176.9L65.4 177.1 65.8 176.7 66.1 171.6" stroke="#1818b7" stroke-width="0.82"/>
<path d="M66.1 171.6L66.4 175.5 66.7 175.8 67.0 174.1 67.3 177.1 67.6 173.0 67.9 177.0 68.2 176.8" stroke="#0808ee" stroke-width="0.65"/>
<path d="M68.2 176.8L68.5 178.2 68.8 177.0 69.1 177.1" stroke="#1010d3" stroke-width="0.73"/>
<path d="M69.1 177.1L69.4 178.1 69.7 177.8 70.0 177.6 70.3 175.7 70.7 176.7 71.0 175.6 71.3 177.1" stroke="#20209c" stroke-width="0.90"/>
<path d="M71.3 177.1L71.6 176.7 71.9 176.9 72.2 176.1 72.5 173.8 72.8 173.9 73.1 176.9" stroke="#1818b7" stroke-width="0.82"/>
<path d="M73.1 176.9L73.4 176.4 73.7 170.9 74.0 172.7 74.3 176.3 74.6 177.0 74.9 177.0 75.2 175.6 75.5 177.0 75.9 174.0 76.2 171.6 76.5 175.6 76.8 176.7 77.1 177.1 77.4 174.6 77.7 177.9 78.0 177.2 78.3 177.0" stroke="#1010d3" stroke-width="0.73"/>
<path d="M78.3 177.0L78.6 177.2 78.9 176.8 79.2 176.6" stroke="#1818b7" stroke-width="0.82"/>
<path d="M79.2 176.6L79.5 174.2 79.8 173.5 80.1 176.3 80.4 176.1 80.8 176.6 81.1 176.6" stroke="#20209c" stroke-width="0.90"/>
<path d="M81.1 176.6L81.4 175.9 81.7 176.8 82.0 176.4 82.3 177.1 82.6 174.4 82.9 176.6 83.2 175.1 83.5 175.4 83.8 176.0 84.1 176.6 84.4 172.1 84.7 172.8 85.0 176.5" stroke="#1818b7" stroke-width="0.82"/>
<path d="M85.0 176.5L85.3 176.5 85.7 176.3 86.0 173.5 86.3 175.8" stroke="#1010d3" stroke-width="0.73"/>
<path d="M86.3 175.8L86.6 176.4 86.9 176.2 87.2 175.9" stroke="#1818b7" stroke-width="0.82"/>
<path d="M87.2 175.9L87.5 176.6 87.8 175.7 88.1 175.6" stroke="#20209c" stroke-width="0.90"/>
<path d="M88.1 175.6L88.4 176.1 88.7 173.4 89.0 177.3" stroke="#1818b7" stroke-width="0.82"/>
<path d="M89.0 177.3L89.3 176.9 89.6 176.5 89.9 172.6 90.2 176.2 90.5 176.3 90.9 169.1 91.2 177.1 91.5 176.7 91.8 177.2 92.1 176.0 92.4 174.8 92.7 177.8 93.0 172.7 93.3 176.4 93.6 176.5 93.9 170.8 94.2 174.8" stroke="#0808ee" stroke-width="0.65"/>
<path d="M94.2 174.8L94.5 176.0 94.8 176.0 95.1 176.3" stroke="#1010d3" stroke-width="0.73"/>
<path d="M95.1 176.3L95.4 177.0 95.8 176.1 96.1 177.4" stroke="#1818b7" stroke-width="0.82"/>
<path d="M96.1 177.4L96.4 176.4 96.7 176.8 97.0 176.2 97.3 176.7" stroke="#20209c" stroke-width="0.90"/>
<path d="M97.3 176.7L97.6 176.7 97.9 176.2 98.2 176.2 98.5 172.5 98.8 176.5 99.1 176.8" stroke="#1818b7" stroke-width="0.82"/>
<path d="M99.1 176.8L99.4 176.5 99.7 172.5 100.0 170.9 100.3 176.8 100.7 177.4 101.0 177.9 101.3 176.8" stroke="#1010d3" stroke-width="0.73"/>
<path d="M101.3 176.8L101.6 176.6 101.9 177.8 102.2 176.7 102.5 176.7 102.8 177.0 103.1 176.1 103.4 172.3 103.7 176.9 104.0 176.2 104.3 176.3 104.6 176.4 104.9 177.2 105.2 175.5" stroke="#1818b7" stroke-width="0.82"/>
<path d="M105.2 175.5L105.5 176.4 105.9 176.4 106.2 174.2" stroke="#20209c" stroke-width="0.90"/>
<path d="M106.2 174.2L106.5 176.1 106.8 176.3 107.1 175.6 107.4 176.5 107.7 177.2 108.0 175.7 108.3 177.1" stroke="#1818b7" stroke-width="0.82"/>
<path d="M108.3 177.1L108.6 176.2 108.9 174.3 109.2 171.0 109.5 171.8 109.8 177.1 110.1 174.9" stroke="#1010d3" stroke-width="0.73"/>
<path d="M110.1 174.9L110.4 177.1 110.8 176.4 111.1 169.9 111.4 176.6 111.7 177.3 112.0 175.7 112.3 176.6" stroke="#0808ee" stroke-width="0.65"/>
<path d="M112.3 176.6L112.6 176.2 112.9 176.5 113.2 176.5" stroke="#1010d3" stroke-width="0.73"/>
<path d="M113.2 176.5L113.5 175.3 113.8 172.7 114.1 176.2" stroke="#1818b7" stroke-width="0.82"/>
<path d="M114.1 176.2L114.4 175.2 114.7 176.5 115.0 176.8 115.3 172.0 115.6 175.7 116.0 176.9 116.3 176.5" stroke="#1010d3" stroke-width="0.73"/>
<path d="M116.3 176.5L116.6 176.6 116.9 177.1 117.2 176.7" stroke="#1818b7" stroke-width="0.82"/>
<path d="M117.2 176.7L117.5 176.6 117.8 175.9 118.1 176.6" stroke="#20209c" stroke-width="0.90"/>
<path d="M118.1 176.6L118.4 174.1 118.7 176.5 119.0 176.1 119.3 177.6 119.6 175.3 119.9 175.6 120.2 176.9 120.5 175.1 120.9 176.0 121.2 176.5 121.5 176.3 121.8 177.2 122.1 176.8 122.4 175.0 122.7 177.0 123.0 174.3 123.3 176.6 123.6 176.2 123.9 175.8 124.2 174.6 124.5 177.2 124.8 176.1 125.1 177.5" stroke="#1818b7" stroke-width="0.82"/>
<path d="M125.1 177.5L125.4 177.5 125.8 175.8 126.1 177.1" stroke="#0808ee" stroke-width="0.65"/>
<path d="M126.1 177.1L126.4 171.0 126.7 176.0 127.0 176.8 127.3 176.5 127.6 177.1 127.9 175.2 128.2 177.3" stroke="#1010d3" stroke-width="0.73"/>
<path d="M128.2 177.3L128.5 177.5 128.8 177.2 129.1 176.2 129.4 175.5 129.7 175.3 130.0 175.5 130.3 176.0 130.6 175.8 131.0 176.0 131.3 176.2 131.6 175.9 131.9 176.8 132.2 176.3 132.5 176.5 132.8 176.4 133.1 176.0" stroke="#20209c" stroke-width="0.90"/>
<path d="M133.1 176.0L133.4 176.5 133.7 175.4 134.0 173.9 134.3 174.3 134.6 176.3 134.9 173.2 135.2 176.8" stroke="#1818b7" stroke-width="0.82"/>
<path d="M135.2 176.8L135.5 175.9 135.9 176.9 136.2 178.1" stroke="#1010d3" stroke-width="0.73"/>
<path d="M136.2 178.1L136.5 176.6 136.8 177.3 137.1 176.3" stroke="#1818b7" stroke-width="0.82"/>
<path d="M137.1 176.3L137.4 177.2 137.7 177.3 138.0 176.2 138.3 177.4 138.6 176.9 138.9 176.4 139.2 177.0 139.5 177.1 139.8 177.0 140.1 176.8" stroke="#20209c" stroke-width="0.90"/>
<path d="M140.1 176.8L140.4 177.6 140.8 177.1 141.1 177.1 141.4 173.0 141.7 176.3 142.0 177.4 142.3 176.4" stroke="#1818b7" stroke-width="0.82"/>
<path d="M142.3 176.4L142.6 176.7 142.9 174.3 143.2 176.3" stroke="#1010d3" stroke-width="0.73"/>
<path d="M143.2 176.3L143.5 175.7 143.8 176.4 144.1 176.1 144.4 177.2 144.7 176.6 145.0 174.2 145.3 177.0 145.6 177.1 146.0 177.3 146.3 174.9 146.6 176.4 146.9 177.0 147.2 176.2" stroke="#1818b7" stroke-width="0.82"/>
<path d="M147.2 176.2L147.5 176.6 147.8 176.6 148.1 177.3 148.4 172.2 148.7 176.8 149.0 175.0 149.3 177.0 149.6 177.0 149.9 176.7 150.2 177.4" stroke="#1010d3" stroke-width="0.73"/>
<path d="M150.2 177.4L150.5 176.9 150.9 177.1 151.2 176.6" stroke="#20209c" stroke-width="0.90"/>
<path d="M151.2 176.6L151.5 176.5 151.8 176.5 152.1 177.4 152.4 176.4 152.7 173.3 153.0 176.7 153.3 176.6 153.6 177.1 153.9 176.9 154.2 176.9 154.5 175.6 154.8 175.1 155.1 172.4" stroke="#1818b7" stroke-width="0.82"/>
<path d="M155.1 172.4L155.4 176.6 155.8 173.2 156.1 175.0 156.4 176.7 156.7 177.4 157.0 176.5 157.3 176.4" stroke="#1010d3" stroke-width="0.73"/>
<path d="M157.3 176.4L157.6 176.5 157.9 176.5 158.2 172.9 158.5 176.5 158.8 176.3 159.1 177.0" stroke="#1818b7" stroke-width="0.82"/>
<path d="M159.1 177.0L159.4 175.9 159.7 176.7 160.0 175.8" stroke="#1010d3" stroke-width="0.73"/>
<path d="M160.0 175.8L160.3 175.0 160.6 172.3 161.0 175.7 161.3 176.1 161.6 175.7 161.9 174.6 162.2 173.1" stroke="#1818b7" stroke-width="0.82"/>
<path d="M162.2 173.1L162.5 176.7 162.8 176.7 163.1 176.3" stroke="#20209c" stroke-width="0.90"/>
<path d="M163.1 176.3L163.4 176.2 163.7 175.2 164.0 176.6 164.3 176.4 164.6 175.9 164.9 176.8 165.2 176.9 165.5 173.4 165.9 176.4 166.2 176.6 166.5 176.3 166.8 176.1 167.1 175.0 167.4 175.6 167.7 173.1 168.0 173.9 168.3 177.1" stroke="#1818b7" stroke-width="0.82"/>
<path d="M168.3 177.1L168.6 177.1 168.9 175.4 169.2 177.0" stroke="#1010d3" stroke-width="0.73"/>
<path d="M169.2 177.0L169.5 175.1 169.8 177.2 170.1 176.8 170.4 177.0 170.8 177.0 171.1 176.4 171.4 173.4 171.7 176.8 172.0 176.7 172.3 176.0 172.6 176.1 172.9 175.4 173.2 176.7" stroke="#1818b7" stroke-width="0.82"/>
<path d="M173.2 176.7L173.5 175.2 173.8 176.4 174.1 176.1" stroke="#20209c" stroke-width="0.90"/>
<path d="M174.1 176.1L174.4 176.3 174.7 176.2 175.0 175.8" stroke="#1818b7" stroke-width="0.82"/>
<path d="M175.0 175.8L175.3 176.6 175.6 173.9 176.0 176.0 176.3 175.7" stroke="#20209c" stroke-width="0.90"/>
<path d="M176.3 175.7L176.6 176.9 176.9 176.9 177.2 178.1" stroke="#1818b7" stroke-width="0.82"/>
<path d="M177.2 178.1L177.5 177.1 177.8 177.3 178.1 177.6 178.4 176.8 178.7 177.7 179.0 177.1" stroke="#20209c" stroke-width="0.90"/>
<path d="M179.0 177.1L179.3 175.8 179.6 175.3 179.9 176.4 180.2 171.3 180.5 177.2 180.9 177.4 181.2 176.6" stroke="#1010d3" stroke-width="0.73"/>
<path d="M181.2 176.6L181.5 176.9 181.8 177.5 182.1 177.1 182.4 177.0 182.7 177.1 183.0 175.8 183.3 171.6 183.6 176.2 183.9 176.3 184.2 176.5" stroke="#1818b7" stroke-width="0.82"/>
<path d="M184.2 176.5L184.5 176.1 184.8 175.8 185.1 173.6" stroke="#1010d3" stroke-width="0.73"/>
<path d="M185.1 173.6L185.4 177.0 185.7 176.1 186.1 175.3 186.4 175.8 186.7 176.7 187.0 176.4 187.3 174.6 187.6 175.5 187.9 173.3 188.2 175.3 188.5 176.0 188.8 176.4 189.1 176.3" stroke="#1818b7" stroke-width="0.82"/>
<path d="M189.1 176.3L189.4 175.3 189.7 176.7 190.0 169.4" stroke="#1010d3" stroke-width="0.73"/>
<path d="M190.0 169.4L190.3 173.3 190.6 177.2 191.0 177.3 191.3 170.9 191.6 177.7 191.9 177.5 192.2 177.3" stroke="#0808ee" stroke-width="0.65"/>
<path d="M192.2 177.3L192.5 175.7 192.8 177.5 193.1 177.8" stroke="#1010d3" stroke-width="0.73"/>
<path d="M193.1 177.8L193.4 177.9 193.7 177.0 194.0 176.3 194.3 175.5 194.6 176.5 194.9 176.4 195.2 176.9 195.5 176.7 195.9 176.7 196.2 176.4" stroke="#20209c" stroke-width="0.90"/>
<path d="M196.2 176.4L196.5 176.5 196.8 171.6 197.1 176.0" stroke="#1818b7" stroke-width="0.82"/>
<path d="M197.1 176.0L197.4 175.8 197.7 176.9 198.0 175.5 198.3 176.8 198.6 176.1 198.9 177.6 199.2 175.0" stroke="#1010d3" stroke-width="0.73"/>
<path d="M199.2 175.0L199.5 176.8 199.8 175.9 200.1 176.5" stroke="#1818b7" stroke-width="0.82"/>
<path d="M200.1 176.5L200.4 176.8 200.7 176.7 201.1 176.3 201.4 177.0 201.7 176.7 202.0 176.8 202.3 177.5 202.6 176.3 202.9 176.9 203.2 177.4" stroke="#20209c" stroke-width="0.90"/>
<path d="M203.2 177.4L203.5 176.9 203.8 178.2 204.1 175.0 204.4 176.9 204.7 177.0 205.0 178.2 205.3 175.8 205.6 177.0 206.0 175.8 206.3 176.5 206.6 176.4 206.9 176.1 207.2 173.0" stroke="#1818b7" stroke-width="0.82"/>
<path d="M207.2 173.0L207.5 175.3 207.8 175.6 208.1 176.8" stroke="#20209c" stroke-width="0.90"/>
<path d="M208.1 176.8L208.4 176.8 208.7 177.2 209.0 176.5" stroke="#1010d3" stroke-width="0.73"/>
<path d="M209.0 176.5L209.3 172.1 209.6 174.5 209.9 175.4 210.2 176.5 210.5 177.9 210.9 177.2 211.2 176.8" stroke="#1818b7" stroke-width="0.82"/>
<path d="M211.2 176.8L211.5 176.3 211.8 176.2 212.1 175.8 212.4 172.6 212.7 169.7 213.0 177.2 213.3 177.0 213.6 176.8 213.9 177.2 214.2 177.0" stroke="#1010d3" stroke-width="0.73"/>
<path d="M214.2 177.0L214.5 176.8 214.8 175.3 215.1 177.3" stroke="#20209c" stroke-width="0.90"/>
<path d="M215.1 177.3L215.4 176.6 215.7 176.6 216.1 174.0 216.4 175.9 216.7 175.0 217.0 176.6 217.3 176.6 217.6 176.2 217.9 175.3 218.2 176.7 218.5 175.6 218.8 174.0 219.1 176.3 219.4 176.8 219.7 176.2 220.0 176.2" stroke="#1818b7" stroke-width="0.82"/>
<path d="M220.0 176.2L220.3 177.5 220.6 176.1 221.0 175.9 221.3 176.4 221.6 176.4 221.9 175.6 222.2 176.2" stroke="#20209c" stroke-width="0.90"/>
<path d="M222.2 176.2L222.5 177.2 222.8 176.7 223.1 171.0" stroke="#1818b7" stroke-width="0.82"/>
<path d="M223.1 171.0L223.4 171.1 223.7 175.8 224.0 176.6 224.3 176.8 224.6 174.6 224.9 176.0 225.2 176.1" stroke="#1010d3" stroke-width="0.73"/>
<path d="M225.2 176.1L225.5 176.1 225.8 177.0 226.2 176.4 226.5 175.9 226.8 176.6 227.1 175.7" stroke="#20209c" stroke-width="0.90"/>
<path d="M227.1 175.7L227.4 176.1 227.7 176.5 228.0 174.1 228.3 176.7" stroke="#1818b7" stroke-width="0.82"/>
<path d="M228.3 176.7L228.6 175.8 228.9 176.5 229.2 176.1" stroke="#1010d3" stroke-width="0.73"/>
<path d="M229.2 176.1L229.5 171.6 229.8 175.2 230.1 170.1 230.4 176.7 230.7 174.6 231.1 176.8 231.4 170.1 231.7 177.0 232.0 174.9 232.3 171.3 232.6 176.8 232.9 176.9 233.2 176.7 233.5 169.8 233.8 176.6 234.1 175.5 234.4 176.1 234.7 176.2 235.0 174.1" stroke="#0808ee" stroke-width="0.65"/>
<path d="M235.0 174.1L235.3 175.2 235.6 177.9 236.0 177.3 236.3 177.8" stroke="#1818b7" stroke-width="0.82"/>
<path d="M236.3 177.8L236.6 176.7 236.9 175.8 237.2 172.2 237.5 175.5 237.8 172.9 238.1 175.7 238.4 177.0 238.7 176.3 239.0 176.7 239.3 176.1 239.6 175.3 239.9 175.2 240.2 173.7 240.5 176.6 240.8 171.3 241.2 175.8 241.5 174.8 241.8 174.0 242.1 176.2 242.4 176.8 242.7 176.0 243.0 175.4 243.3 173.3" stroke="#1010d3" stroke-width="0.73"/>
<path d="M243.3 173.3L243.6 176.4 243.9 177.2 244.2 176.8" stroke="#1818b7" stroke-width="0.82"/>
<path d="M244.2 176.8L244.5 176.7 244.8 176.8 245.1 171.6 245.4 177.0 245.7 175.7 246.1 176.6 246.4 176.9 246.7 176.8 247.0 175.3 247.3 177.5" stroke="#1010d3" stroke-width="0.73"/>
<path d="M247.3 177.5L247.6 177.4 247.9 177.1 248.2 176.5 248.5 176.5 248.8 177.9 249.1 177.2 249.4 176.9 249.7 176.8 250.0 177.3 250.3 177.2 250.6 176.0 251.0 175.8 251.3 175.9 251.6 176.7 251.9 175.4 252.2 177.5 252.5 176.4 252.8 175.4 253.1 176.3 253.4 176.1 253.7 176.9 254.0 176.0 254.3 177.1 254.6 176.4 254.9 176.3 255.2 176.8 255.5 176.0 255.8 177.1 256.2 176.9 256.5 176.6 256.8 176.7 257.1 176.2 257.4 175.8 257.7 176.1 258.0 176.0 258.3 175.9 258.6 175.7 258.9 175.0 259.2 175.2 259.5 174.7 259.8 174.5 260.1 175.0 260.4 174.3 260.7 175.2 261.1 174.3 261.4 174.1 261.7 175.0 262.0 174.4 262.3 174.9 262.6 174.4 262.9 174.9 263.2 174.6 263.5 174.8 263.8 174.8 264.1 174.3 264.4 175.1 264.7 175.2 265.0 175.7 265.3 175.8 265.6 175.9 266.0 176.1 266.3 175.1 266.6 174.4 266.9 175.0 267.2 175.6 267.5 174.7 267.8 175.5 268.1 175.4 268.4 175.5 268.7 175.4 269.0 175.3 269.3 174.5 269.6 175.6 269.9 176.0 270.2 175.8 270.5 175.5 270.8 176.0 271.2 175.0 271.5 174.5 271.8 174.3 272.1 174.0 272.4 174.7 272.7 174.9 273.0 173.5 273.3 173.6 273.6 174.9 273.9 174.2 274.2 174.7 274.5 174.9 274.8 175.3 275.1 175.7 275.4 175.2 275.7 174.9 276.1 174.7 276.4 175.4 276.7 175.9 277.0 174.9 277.3 175.5 277.6 174.8 277.9 174.7 278.2 175.0 278.5 175.2 278.8 174.8 279.1 174.0 279.4 174.7 279.7 173.8 280.0 173.8 280.3 173.8 280.6 173.0 281.0 173.8 281.3 172.8 281.6 173.7 281.9 173.8 282.2 174.1 282.5 173.5 282.8 174.2 283.1 173.9 283.4 174.6 283.7 173.6 284.0 173.3" stroke="#20209c" stroke-width="0.90"/>
<path d="M284.0 173.3L284.3 173.8 284.6 172.7 284.9 173.2 285.2 172.0" stroke="#1818b7" stroke-width="0.82"/>
<path d="M285.2 172.0L285.5 169.9 285.8 167.8 286.2 161.4 286.5 159.2 286.8 160.0 287.1 159.5 287.4 160.3 287.7 158.6 288.0 159.4 288.3 156.6" stroke="#1010d3" stroke-width="0.73"/>
<path d="M288.3 156.6L288.6 157.4 288.9 159.7 289.2 159.5 289.5 158.5 289.8 159.9 290.1 157.9" stroke="#1818b7" stroke-width="0.82"/>
<path d="M290.1 157.9L290.4 157.7 290.7 158.3 291.1 157.9" stroke="#20209c" stroke-width="0.90"/>
<path d="M291.1 157.9L291.4 156.6 291.7 155.4 292.0 155.2 292.3 156.6 292.6 155.8 292.9 157.5 293.2 156.3 293.5 155.2 293.8 150.7 294.1 150.0 294.4 149.3 294.7 148.0 295.0 147.2 295.3 149.1 295.6 148.1 295.9 147.4 296.3 147.3 296.6 148.3 296.9 147.2 297.2 147.4 297.5 145.4 297.8 146.0 298.1 146.3" stroke="#1818b7" stroke-width="0.82"/>
<path d="M298.1 146.3L298.4 145.5 298.7 141.5 299.0 136.0 299.3 132.2 299.6 127.5 299.9 123.2" stroke="#0808ee" stroke-width="0.65"/>
</g>
<path d="M33.00 185.75v-2.7M33.00 116.60v2.7M63.61 185.75v-2.7M63.61 116.60v2.7M94.22 185.75v-2.7M94.22 116.60v2.7M124.83 185.75v-2.7M124.83 116.60v2.7M155.44 185.75v-2.7M155.44 116.60v2.7M186.06 185.75v-2.7M186.06 116.60v2.7M216.67 185.75v-2.7M216.67 116.60v2.7M247.28 185.75v-2.7M247.28 116.60v2.7M277.89 185.75v-2.7M277.89 116.60v2.7M308.50 185.75v-2.7M308.50 116.60v2.7M33.00 185.75h2.7M308.50 185.75h-2.7M33.00 151.18h2.7M308.50 151.18h-2.7M33.00 116.60h2.7M308.50 116.60h-2.7" stroke="#808080" stroke-width="0.9" fill="none"/>
<rect x="33.00" y="116.60" width="275.50" height="69.15" fill="none" stroke="#808080" stroke-width="1.1"/>
<text x="33.00" y="197.05" text-anchor="middle">0</text>
<text x="63.61" y="197.05" text-anchor="middle">100</text>
<text x="94.22" y="197.05" text-anchor="middle">200</text>
<text x="124.83" y="197.05" text-anchor="middle">300</text>
<text x="155.44" y="197.05" text-anchor="middle">400</text>
<text x="186.06" y="197.05" text-anchor="middle">500</text>
<text x="216.67" y="197.05" text-anchor="middle">600</text>
<text x="247.28" y="197.05" text-anchor="middle">700</text>
<text x="277.89" y="197.05" text-anchor="middle">800</text>
<text x="308.50" y="197.05" text-anchor="middle">900</text>
<text x="30.25" y="185.90" text-anchor="end" dominant-baseline="central">0</text>
<text x="30.25" y="151.33" text-anchor="end" dominant-baseline="central">50</text>
<text x="30.25" y="116.75" text-anchor="end" dominant-baseline="central">100</text>
<text x="170.45" y="113.10" text-anchor="middle">bear12</text>
<text transform="translate(11.90 151.48) rotate(-90)" text-anchor="middle">SV1</text>
<g clip-path="url(#c3)" fill="none" stroke-linejoin="round">
<path d="M395.5 176.1L395.8 171.2 396.1 174.6" stroke="#1818b7" stroke-width="0.82"/>
<path d="M396.1 174.6L396.4 175.2 396.7 172.3 397.0 175.2" stroke="#1010d3" stroke-width="0.73"/>
<path d="M397.0 175.2L397.3 175.5 397.6 175.0 398.0 176.5 398.3 175.8 398.6 176.2 398.9 175.5 399.2 176.4 399.5 176.1 399.8 177.3 400.1 174.6 400.4 177.4 400.7 175.2 401.0 176.0 401.3 176.0 401.6 175.3 401.9 174.8 402.2 173.9" stroke="#1818b7" stroke-width="0.82"/>
<path d="M402.2 173.9L402.6 174.4 402.9 173.8 403.2 176.8" stroke="#20209c" stroke-width="0.90"/>
<path d="M403.2 176.8L403.5 176.0 403.8 176.6 404.1 175.3 404.4 177.0 404.7 175.4 405.0 174.8 405.3 173.3 405.6 173.8 405.9 174.3 406.2 173.9" stroke="#1818b7" stroke-width="0.82"/>
<path d="M406.2 173.9L406.5 174.3 406.8 176.1 407.2 176.3 407.5 175.7 407.8 174.6 408.1 174.2 408.4 175.3 408.7 174.7 409.0 175.7 409.3 175.8 409.6 175.8 409.9 175.9 410.2 174.3" stroke="#20209c" stroke-width="0.90"/>
<path d="M410.2 174.3L410.5 175.9 410.8 175.4 411.1 172.1" stroke="#1818b7" stroke-width="0.82"/>
<path d="M411.1 172.1L411.4 175.8 411.8 175.5 412.1 175.2" stroke="#1010d3" stroke-width="0.73"/>
<path d="M412.1 175.2L412.4 174.5 412.7 175.8 413.0 173.8 413.3 174.9" stroke="#1818b7" stroke-width="0.82"/>
<path d="M413.3 174.9L413.6 174.6 413.9 174.1 414.2 174.3 414.5 174.2 414.8 175.2 415.1 175.7 415.4 175.7 415.7 176.7 416.0 175.1" stroke="#20209c" stroke-width="0.90"/>
<path d="M416.0 175.1L416.4 176.3 416.7 176.5 417.0 174.0 417.3 175.3 417.6 175.7 417.9 173.5 418.2 175.2 418.5 174.5 418.8 176.0 419.1 175.6" stroke="#1818b7" stroke-width="0.82"/>
<path d="M419.1 175.6L419.4 176.2 419.7 175.8 420.0 174.9 420.3 174.5 420.6 174.6 421.0 174.2 421.3 177.0 421.6 175.5 421.9 176.4 422.2 175.8 422.5 176.4 422.8 176.0 423.1 175.2 423.4 175.3 423.7 174.8 424.0 175.9 424.3 175.1 424.6 176.1 424.9 176.0 425.2 174.9 425.6 174.7 425.9 174.6 426.2 174.4 426.5 174.5 426.8 174.1 427.1 174.5 427.4 173.5 427.7 173.5 428.0 174.9 428.3 174.4 428.6 176.3 428.9 174.9 429.2 176.1 429.5 176.0 429.8 175.6 430.2 175.7 430.5 175.5 430.8 174.4 431.1 175.3" stroke="#20209c" stroke-width="0.90"/>
<path d="M431.1 175.3L431.4 176.4 431.7 175.7 432.0 177.2 432.3 174.9 432.6 176.2 432.9 176.3 433.2 174.7" stroke="#1818b7" stroke-width="0.82"/>
<path d="M433.2 174.7L433.5 174.5 433.8 175.5 434.1 174.6 434.4 174.0 434.8 173.3 435.1 174.4 435.4 174.1 435.7 173.5 436.0 174.5 436.3 174.8 436.6 175.4 436.9 176.7 437.2 176.3" stroke="#20209c" stroke-width="0.90"/>
<path d="M437.2 176.3L437.5 177.2 437.8 175.2 438.1 174.0 438.4 175.9 438.7 174.7 439.0 175.4" stroke="#1818b7" stroke-width="0.82"/>
<path d="M439.0 175.4L439.4 176.7 439.7 176.7 440.0 176.3 440.3 176.4 440.6 175.6 440.9 175.4 441.2 175.3 441.5 175.5 441.8 176.7 442.1 175.7" stroke="#20209c" stroke-width="0.90"/>
<path d="M442.1 175.7L442.4 177.0 442.7 176.9 443.0 176.6 443.3 175.9 443.6 176.4 444.0 172.0 444.3 175.8 444.6 175.6 444.9 174.9 445.2 173.8 445.5 174.5 445.8 173.4 446.1 175.2 446.4 178.0 446.7 176.6 447.0 175.0 447.3 175.6 447.6 175.3 447.9 175.3 448.2 173.8" stroke="#1818b7" stroke-width="0.82"/>
<path d="M448.2 173.8L448.6 174.4 448.9 174.9 449.2 175.0 449.5 174.1 449.8 174.5 450.1 176.0 450.4 174.8 450.7 175.3 451.0 175.5" stroke="#20209c" stroke-width="0.90"/>
<path d="M451.0 175.5L451.3 174.8 451.6 175.2 451.9 177.2 452.2 174.1 452.5 174.4 452.8 175.2 453.2 175.2" stroke="#1818b7" stroke-width="0.82"/>
<path d="M453.2 175.2L453.5 174.4 453.8 175.3 454.1 174.3 454.4 175.2 454.7 175.8 455.0 176.5 455.3 176.4 455.6 174.9 455.9 174.4 456.2 174.7 456.5 174.8 456.8 175.3 457.1 174.1" stroke="#20209c" stroke-width="0.90"/>
<path d="M457.1 174.1L457.4 172.8 457.8 176.1 458.1 174.4 458.4 176.9 458.7 175.7 459.0 175.5 459.3 177.0 459.6 177.2 459.9 176.0 460.2 175.0" stroke="#1818b7" stroke-width="0.82"/>
<path d="M460.2 175.0L460.5 176.2 460.8 175.1 461.1 176.7 461.4 171.1 461.7 175.6 462.0 175.4 462.4 175.2 462.7 175.8 463.0 175.3 463.3 175.5" stroke="#1010d3" stroke-width="0.73"/>
<path d="M463.3 175.5L463.6 177.0 463.9 177.6 464.2 177.7 464.5 176.4 464.8 175.2 465.1 174.9 465.4 174.8 465.7 174.9 466.0 174.8 466.3 176.2 466.6 176.0 467.0 174.6 467.3 174.7 467.6 175.6 467.9 174.2 468.2 175.3 468.5 174.8 468.8 175.9 469.1 174.4 469.4 175.2 469.7 174.7 470.0 174.9 470.3 175.2 470.6 174.9 470.9 174.0 471.2 174.9 471.6 174.9 471.9 174.9 472.2 174.6 472.5 174.8 472.8 174.4 473.1 175.9" stroke="#20209c" stroke-width="0.90"/>
<path d="M473.1 175.9L473.4 174.8 473.7 175.5 474.0 173.9 474.3 173.7 474.6 170.5 474.9 173.4 475.2 174.7 475.5 174.7 475.8 175.4 476.2 176.1 476.5 176.5 476.8 177.3 477.1 174.9" stroke="#1818b7" stroke-width="0.82"/>
<path d="M477.1 174.9L477.4 176.6 477.7 175.7 478.0 176.8 478.3 176.6" stroke="#20209c" stroke-width="0.90"/>
<path d="M478.3 176.6L478.6 176.0 478.9 176.0 479.2 175.2" stroke="#1818b7" stroke-width="0.82"/>
<path d="M479.2 175.2L479.5 176.3 479.8 175.2 480.1 174.8" stroke="#20209c" stroke-width="0.90"/>
<path d="M480.1 174.8L480.4 176.9 480.8 176.0 481.1 177.4 481.4 176.4 481.7 176.1 482.0 174.9 482.3 176.1 482.6 175.0 482.9 174.2 483.2 175.8" stroke="#1818b7" stroke-width="0.82"/>
<path d="M483.2 175.8L483.5 175.0 483.8 175.7 484.1 175.6 484.4 174.8 484.7 174.9 485.0 173.7 485.4 174.4 485.7 174.2 486.0 174.9 486.3 175.0" stroke="#20209c" stroke-width="0.90"/>
<path d="M486.3 175.0L486.6 174.9 486.9 176.9 487.2 174.4" stroke="#1818b7" stroke-width="0.82"/>
<path d="M487.2 174.4L487.5 176.0 487.8 176.1 488.1 175.7 488.4 175.0 488.7 175.1 489.0 176.7 489.3 176.1 489.6 176.3 490.0 176.6 490.3 175.7" stroke="#20209c" stroke-width="0.90"/>
<path d="M490.3 175.7L490.6 175.9 490.9 177.2 491.2 175.5" stroke="#1818b7" stroke-width="0.82"/>
<path d="M491.2 175.5L491.5 177.2 491.8 175.7 492.1 176.7" stroke="#20209c" stroke-width="0.90"/>
<path d="M492.1 176.7L492.4 176.8 492.7 177.3 493.0 176.7" stroke="#1818b7" stroke-width="0.82"/>
<path d="M493.0 176.7L493.3 178.0 493.6 176.8 493.9 174.9 494.2 176.1" stroke="#20209c" stroke-width="0.90"/>
<path d="M494.2 176.1L494.6 175.7 494.9 175.5 495.2 176.6" stroke="#1818b7" stroke-width="0.82"/>
<path d="M495.2 176.6L495.5 175.6 495.8 175.8 496.1 174.3 496.4 174.4 496.7 175.2 497.0 174.1 497.3 175.9 497.6 176.5 497.9 177.1 498.2 176.6 498.5 175.9 498.8 175.2 499.2 174.5" stroke="#20209c" stroke-width="0.90"/>
<path d="M499.2 174.5L499.5 176.5 499.8 176.2 500.1 175.4 500.4 176.3 500.7 176.0 501.0 171.4 501.3 176.0 501.6 175.9 501.9 176.3 502.2 175.0 502.5 175.2 502.8 176.1 503.1 175.1" stroke="#1818b7" stroke-width="0.82"/>
<path d="M503.1 175.1L503.4 176.3 503.8 175.0 504.1 175.4 504.4 175.9 504.7 175.7 505.0 176.2 505.3 174.2 505.6 174.7 505.9 175.1 506.2 174.7 506.5 174.9 506.8 176.0 507.1 176.2" stroke="#20209c" stroke-width="0.90"/>
<path d="M507.1 176.2L507.4 176.7 507.7 174.0 508.0 175.7" stroke="#1818b7" stroke-width="0.82"/>
<path d="M508.0 175.7L508.4 175.7 508.7 172.5 509.0 177.0 509.3 174.6 509.6 174.6 509.9 175.8 510.2 175.6" stroke="#1010d3" stroke-width="0.73"/>
<path d="M510.2 175.6L510.5 178.0 510.8 176.8 511.1 175.9 511.4 177.5 511.7 176.3 512.0 175.1" stroke="#1818b7" stroke-width="0.82"/>
<path d="M512.0 175.1L512.3 175.0 512.6 175.9 513.0 175.7 513.3 175.9 513.6 176.9 513.9 176.0 514.2 176.9 514.5 177.4 514.8 177.3 515.1 174.5" stroke="#20209c" stroke-width="0.90"/>
<path d="M515.1 174.5L515.4 175.0 515.7 173.9 516.0 176.7 516.3 176.2 516.6 175.6 516.9 175.7 517.2 175.3 517.6 175.7 517.9 176.1 518.2 176.8" stroke="#1818b7" stroke-width="0.82"/>
<path d="M518.2 176.8L518.5 175.4 518.8 173.4 519.1 174.5 519.4 174.6 519.7 176.5 520.0 176.4 520.3 176.8 520.6 175.6 520.9 175.7 521.2 175.5 521.5 174.8 521.8 176.8 522.2 175.9" stroke="#20209c" stroke-width="0.90"/>
<path d="M522.2 175.9L522.5 177.3 522.8 175.5 523.1 176.6" stroke="#1818b7" stroke-width="0.82"/>
<path d="M523.1 176.6L523.4 176.4 523.7 176.4 524.0 175.5 524.3 176.7 524.6 176.9 524.9 177.2 525.2 176.0 525.5 176.8 525.8 176.5 526.1 175.9" stroke="#20209c" stroke-width="0.90"/>
<path d="M526.1 175.9L526.4 175.2 526.8 176.1 527.1 175.2 527.4 174.3 527.7 177.4 528.0 175.6 528.3 175.0 528.6 176.6 528.9 175.4 529.2 176.3" stroke="#1818b7" stroke-width="0.82"/>
<path d="M529.2 176.3L529.5 175.1 529.8 175.6 530.1 175.4 530.4 176.4 530.7 176.5 531.0 176.3 531.4 176.4 531.7 176.3 532.0 176.0 532.3 176.5 532.6 175.9 532.9 175.5 533.2 177.6 533.5 176.0 533.8 176.8 534.1 177.2" stroke="#20209c" stroke-width="0.90"/>
<path d="M534.1 177.2L534.4 177.4 534.7 177.0 535.0 176.7 535.3 175.7 535.6 176.7 536.0 175.2 536.3 176.6 536.6 174.0 536.9 175.4 537.2 177.1 537.5 175.5 537.8 174.9 538.1 176.9" stroke="#1818b7" stroke-width="0.82"/>
<path d="M538.1 176.9L538.4 176.5 538.7 177.2 539.0 177.0 539.3 176.9 539.6 176.8 539.9 175.7 540.2 175.6 540.6 176.2 540.9 175.2 541.2 175.6 541.5 175.8 541.8 176.6 542.1 174.4 542.4 174.6 542.7 177.0 543.0 176.5 543.3 176.4 543.6 175.7 543.9 175.7 544.2 177.0 544.5 176.8 544.8 176.7 545.2 178.0 545.5 176.4 545.8 176.7 546.1 176.2 546.4 176.4 546.7 177.5 547.0 177.6 547.3 176.9 547.6 176.6 547.9 176.7 548.2 175.6 548.5 176.3 548.8 176.8 549.1 176.2 549.4 176.2 549.8 176.3 550.1 175.6 550.4 176.1 550.7 175.8 551.0 176.0 551.3 176.2 551.6 174.9 551.9 175.5 552.2 175.2 552.5 176.3 552.8 175.8 553.1 176.1 553.4 175.3 553.7 174.3 554.0 173.9 554.4 174.9 554.7 175.9 555.0 175.7 555.3 176.4 555.6 176.9 555.9 176.2 556.2 176.0 556.5 176.1 556.8 174.6 557.1 176.0" stroke="#20209c" stroke-width="0.90"/>
<path d="M557.1 176.0L557.4 175.9 557.7 173.6 558.0 176.2" stroke="#1818b7" stroke-width="0.82"/>
<path d="M558.0 176.2L558.3 176.6 558.6 176.4 559.0 175.5 559.3 175.6 559.6 175.7 559.9 176.4 560.2 176.8 560.5 175.6 560.8 177.3 561.1 176.4" stroke="#20209c" stroke-width="0.90"/>
<path d="M561.1 176.4L561.4 177.1 561.7 176.4 562.0 176.2 562.3 175.1 562.6 177.6 562.9 174.5 563.2 176.1 563.6 175.6 563.9 175.8 564.2 177.2" stroke="#1818b7" stroke-width="0.82"/>
<path d="M564.2 177.2L564.5 176.7 564.8 176.0 565.1 175.9 565.4 175.8 565.7 174.8 566.0 174.9" stroke="#20209c" stroke-width="0.90"/>
<path d="M566.0 174.9L566.3 176.1 566.6 174.4 566.9 175.5 567.2 177.7 567.5 177.0 567.8 175.7 568.2 176.1 568.5 176.9 568.8 178.0 569.1 176.7" stroke="#1818b7" stroke-width="0.82"/>
<path d="M569.1 176.7L569.4 175.5 569.7 175.7 570.0 175.4 570.3 176.4 570.6 175.3 570.9 176.2 571.2 176.1 571.5 176.0 571.8 175.0 572.1 175.8 572.4 175.6 572.8 177.1 573.1 175.3" stroke="#20209c" stroke-width="0.90"/>
<path d="M573.1 175.3L573.4 175.6 573.7 176.4 574.0 178.2 574.3 177.2 574.6 176.8 574.9 172.9 575.2 176.0 575.5 175.7 575.8 175.7 576.1 175.7" stroke="#1818b7" stroke-width="0.82"/>
<path d="M576.1 175.7L576.4 177.8 576.7 177.9 577.0 178.1 577.4 177.0 577.7 176.6 578.0 176.0 578.3 176.7" stroke="#20209c" stroke-width="0.90"/>
<path d="M578.3 176.7L578.6 175.5 578.9 176.5 579.2 174.1 579.5 175.6 579.8 173.3 580.1 174.0 580.4 176.1 580.7 174.8 581.0 175.3 581.3 176.8 581.6 175.5 582.0 176.1 582.3 176.0" stroke="#1818b7" stroke-width="0.82"/>
<path d="M582.3 176.0L582.6 176.8 582.9 176.2 583.2 175.6 583.5 175.6 583.8 175.7 584.1 175.4" stroke="#20209c" stroke-width="0.90"/>
<path d="M584.1 175.4L584.4 176.2 584.7 175.7 585.0 178.0 585.3 173.2 585.6 176.2 585.9 176.0 586.2 175.9" stroke="#1818b7" stroke-width="0.82"/>
<path d="M586.2 175.9L586.6 174.8 586.9 174.9 587.2 177.1" stroke="#1010d3" stroke-width="0.73"/>
<path d="M587.2 177.1L587.5 175.8 587.8 175.8 588.1 175.1" stroke="#20209c" stroke-width="0.90"/>
<path d="M588.1 175.1L588.4 176.2 588.7 177.6 589.0 176.7 589.3 178.8 589.6 177.2 589.9 177.3 590.2 175.8" stroke="#1818b7" stroke-width="0.82"/>
<path d="M590.2 175.8L590.5 176.8 590.8 176.4 591.2 176.2 591.5 175.9 591.8 175.8 592.1 175.2 592.4 176.7 592.7 175.9 593.0 176.8 593.3 176.1 593.6 176.3 593.9 177.7 594.2 177.4 594.5 176.8 594.8 176.1 595.1 176.3 595.4 177.3 595.8 178.2 596.1 178.6" stroke="#20209c" stroke-width="0.90"/>
<path d="M596.1 178.6L596.4 176.7 596.7 176.0 597.0 176.6 597.3 175.7 597.6 177.1 597.9 175.5 598.2 175.4" stroke="#1818b7" stroke-width="0.82"/>
<path d="M598.2 175.4L598.5 177.1 598.8 176.0 599.1 176.1 599.4 176.2 599.7 175.0 600.0 176.8" stroke="#20209c" stroke-width="0.90"/>
<path d="M600.0 176.8L600.4 176.6 600.7 177.8 601.0 177.1 601.3 176.6 601.6 172.9 601.9 176.1 602.2 175.5" stroke="#1818b7" stroke-width="0.82"/>
<path d="M602.2 175.5L602.5 176.2 602.8 177.2 603.1 174.2" stroke="#1010d3" stroke-width="0.73"/>
<path d="M603.1 174.2L603.4 175.8 603.7 176.8 604.0 176.5 604.3 174.8 604.6 175.3 605.0 175.3 605.3 175.7" stroke="#1818b7" stroke-width="0.82"/>
<path d="M605.3 175.7L605.6 176.3 605.9 177.0 606.2 176.6 606.5 177.4 606.8 177.6 607.1 177.0" stroke="#20209c" stroke-width="0.90"/>
<path d="M607.1 177.0L607.4 176.7 607.7 175.7 608.0 177.1 608.3 175.1 608.6 177.8 608.9 177.5 609.2 176.4 609.6 177.1 609.9 176.5 610.2 175.8" stroke="#1818b7" stroke-width="0.82"/>
<path d="M610.2 175.8L610.5 177.6 610.8 175.9 611.1 176.5 611.4 176.3 611.7 175.9 612.0 176.0 612.3 175.5 612.6 175.6 612.9 176.1 613.2 176.9 613.5 176.1 613.8 177.2 614.2 176.4 614.5 175.3 614.8 175.8 615.1 177.3 615.4 176.7 615.7 175.6 616.0 175.9 616.3 175.9 616.6 178.4 616.9 178.2 617.2 177.5 617.5 177.6 617.8 176.5 618.1 176.1 618.4 175.7 618.8 174.9 619.1 175.7 619.4 175.8 619.7 176.5 620.0 177.6 620.3 176.0 620.6 176.8 620.9 176.9 621.2 177.3 621.5 178.6 621.8 176.8 622.1 177.3 622.4 177.2 622.7 175.2 623.0 176.2 623.4 175.8 623.7 175.4 624.0 174.8 624.3 177.0" stroke="#20209c" stroke-width="0.90"/>
<path d="M624.3 177.0L624.6 176.0 624.9 175.0 625.2 176.3 625.5 178.7 625.8 176.8 626.1 176.8 626.4 175.7 626.7 176.4 627.0 173.8 627.3 176.5 627.6 176.9 628.0 177.3 628.3 176.6 628.6 176.4 628.9 177.2 629.2 175.7" stroke="#1818b7" stroke-width="0.82"/>
<path d="M629.2 175.7L629.5 175.8 629.8 175.6 630.1 177.7" stroke="#20209c" stroke-width="0.90"/>
<path d="M630.1 177.7L630.4 175.8 630.7 176.4 631.0 177.4 631.3 176.6 631.6 178.1 631.9 176.2 632.2 176.9 632.6 177.6 632.9 176.1 633.2 176.5" stroke="#1818b7" stroke-width="0.82"/>
<path d="M633.2 176.5L633.5 176.4 633.8 177.6 634.1 176.6 634.4 176.3 634.7 176.8 635.0 178.6" stroke="#20209c" stroke-width="0.90"/>
<path d="M635.0 178.6L635.3 176.6 635.6 176.2 635.9 176.5 636.2 177.2" stroke="#1818b7" stroke-width="0.82"/>
<path d="M636.2 177.2L636.5 178.0 636.8 172.7 637.2 177.0 637.5 176.2 637.8 176.0 638.1 177.2" stroke="#1010d3" stroke-width="0.73"/>
<path d="M638.1 177.2L638.4 178.2 638.7 177.7 639.0 178.6 639.3 176.9 639.6 178.9 639.9 177.6 640.2 177.2" stroke="#1818b7" stroke-width="0.82"/>
<path d="M640.2 177.2L640.5 178.0 640.8 176.2 641.1 176.6" stroke="#20209c" stroke-width="0.90"/>
<path d="M641.1 176.6L641.4 176.9 641.8 177.0 642.1 176.3" stroke="#1818b7" stroke-width="0.82"/>
<path d="M642.1 176.3L642.4 175.6 642.7 177.8 643.0 176.0 643.3 176.8 643.6 177.2 643.9 176.5 644.2 176.2 644.5 176.3 644.8 176.0 645.1 177.6 645.4 175.9 645.7 176.7 646.0 177.4 646.4 178.0 646.7 176.5 647.0 176.8 647.3 176.4" stroke="#20209c" stroke-width="0.90"/>
<path d="M647.3 176.4L647.6 176.3 647.9 175.4 648.2 172.1" stroke="#1010d3" stroke-width="0.73"/>
<path d="M648.2 172.1L648.5 166.0 648.8 163.7 649.1 159.0 649.4 150.0 649.7 149.2 650.0 144.6 650.3 144.8 650.6 142.8 651.0 141.9 651.3 143.2" stroke="#0808ee" stroke-width="0.65"/>
<path d="M651.3 143.2L651.6 145.2 651.9 141.4 652.2 143.8" stroke="#1010d3" stroke-width="0.73"/>
<path d="M652.2 143.8L652.5 142.3 652.8 140.7 653.1 140.2 653.4 146.2 653.7 136.6 654.0 138.7 654.3 135.8 654.6 134.3 654.9 142.8 655.2 141.8 655.6 139.7 655.9 137.9 656.2 141.6 656.5 141.0 656.8 137.3 657.1 142.5 657.4 139.5 657.7 137.0 658.0 140.7 658.3 137.7 658.6 140.2 658.9 144.4 659.2 141.3" stroke="#0808ee" stroke-width="0.65"/>
<path d="M659.2 141.3L659.5 141.1 659.8 142.2 660.2 142.0" stroke="#1010d3" stroke-width="0.73"/>
<path d="M660.2 142.0L660.5 141.9 660.8 142.9 661.1 144.0" stroke="#1818b7" stroke-width="0.82"/>
<path d="M661.1 144.0L661.4 142.7 661.7 139.4 662.0 137.0 662.3 127.0 662.6 127.4" stroke="#1010d3" stroke-width="0.73"/>
</g>
<path d="M395.50 185.75v-2.7M395.50 116.60v2.7M426.17 185.75v-2.7M426.17 116.60v2.7M456.83 185.75v-2.7M456.83 116.60v2.7M487.50 185.75v-2.7M487.50 116.60v2.7M518.17 185.75v-2.7M518.17 116.60v2.7M548.83 185.75v-2.7M548.83 116.60v2.7M579.50 185.75v-2.7M579.50 116.60v2.7M610.17 185.75v-2.7M610.17 116.60v2.7M640.83 185.75v-2.7M640.83 116.60v2.7M671.50 185.75v-2.7M671.50 116.60v2.7M395.50 185.75h2.7M671.50 185.75h-2.7M395.50 162.70h2.7M671.50 162.70h-2.7M395.50 139.65h2.7M671.50 139.65h-2.7M395.50 116.60h2.7M671.50 116.60h-2.7" stroke="#808080" stroke-width="0.9" fill="none"/>
<rect x="395.50" y="116.60" width="276.00" height="69.15" fill="none" stroke="#808080" stroke-width="1.1"/>
<text x="395.50" y="197.05" text-anchor="middle">0</text>
<text x="426.17" y="197.05" text-anchor="middle">100</text>
<text x="456.83" y="197.05" text-anchor="middle">200</text>
<text x="487.50" y="197.05" text-anchor="middle">300</text>
<text x="518.17" y="197.05" text-anchor="middle">400</text>
<text x="548.83" y="197.05" text-anchor="middle">500</text>
<text x="579.50" y="197.05" text-anchor="middle">600</text>
<text x="610.17" y="197.05" text-anchor="middle">700</text>
<text x="640.83" y="197.05" text-anchor="middle">800</text>
<text x="671.50" y="197.05" text-anchor="middle">900</text>
<text x="392.75" y="185.90" text-anchor="end" dominant-baseline="central">0</text>
<text x="392.75" y="162.85" text-anchor="end" dominant-baseline="central">20</text>
<text x="392.75" y="139.80" text-anchor="end" dominant-baseline="central">40</text>
<text x="392.75" y="116.75" text-anchor="end" dominant-baseline="central">60</text>
<text x="533.20" y="113.10" text-anchor="middle">bear12</text>
<text transform="translate(379.50 151.48) rotate(-90)" text-anchor="middle">SV2</text>
<g clip-path="url(#c4)" fill="none" stroke-linejoin="round">
<path d="M33.0 268.4L33.1 268.9 33.3 267.6 33.4 266.5 33.6 265.4 33.7 266.2 33.8 266.6 34.0 266.7 34.1 265.1" stroke="#1010d3" stroke-width="0.73"/>
<path d="M34.1 265.1L34.2 264.2 34.4 265.7 34.5 267.4 34.7 267.3 34.8 264.9 34.9 266.7 35.1 269.1 35.2 267.7 35.3 269.1 35.5 268.7 35.6 268.6 35.8 268.7 35.9 267.3 36.0 267.7 36.2 268.2 36.3 267.2 36.4 266.8 36.6 269.6 36.7 268.4 36.9 269.4 37.0 268.8 37.1 270.2 37.3 269.2 37.4 269.6 37.5 270.2 37.7 271.3 37.8 270.8 38.0 271.7 38.1 272.0 38.2 270.3 38.4 271.6 38.5 269.3 38.6 269.8 38.8 272.7 38.9 270.3 39.1 271.7 39.2 270.4 39.3 270.2 39.5 272.2 39.6 270.3 39.7 270.3 39.9 269.2 40.0 271.4 40.2 269.4 40.3 271.1 40.4 270.0 40.6 270.3 40.7 267.6 40.9 268.3 41.0 266.2 41.1 267.9 41.3 267.5 41.4 267.3 41.5 268.6 41.7 267.9 41.8 266.3 42.0 268.1 42.1 267.5" stroke="#0808ee" stroke-width="0.65"/>
<path d="M42.1 267.5L42.2 267.8 42.4 267.1 42.5 268.0 42.6 267.6 42.8 267.0 42.9 266.9 43.1 267.8" stroke="#1010d3" stroke-width="0.73"/>
<path d="M43.1 267.8L43.2 265.9 43.3 268.3 43.5 268.3 43.6 268.5 43.7 266.2 43.9 267.7 44.0 268.4 44.2 268.7 44.3 267.2 44.4 269.0 44.6 269.4 44.7 267.5 44.8 269.4 45.0 268.5 45.1 268.1" stroke="#0808ee" stroke-width="0.65"/>
<path d="M45.1 268.1L45.3 268.5 45.4 268.0 45.5 266.6 45.7 268.6 45.8 269.5 45.9 270.3 46.1 268.8 46.2 269.3 46.4 268.9 46.5 269.8 46.6 269.9 46.8 270.3 46.9 270.3 47.1 269.8" stroke="#1010d3" stroke-width="0.73"/>
<path d="M47.1 269.8L47.2 270.6 47.3 270.4 47.5 268.7 47.6 270.4 47.7 272.6 47.9 269.3 48.0 270.7 48.2 272.1 48.3 270.2 48.4 271.0 48.6 271.5 48.7 271.3 48.8 271.5 49.0 270.2 49.1 268.9 49.3 270.3 49.4 269.5 49.5 267.9 49.7 271.1 49.8 269.6 49.9 270.2 50.1 270.9" stroke="#0808ee" stroke-width="0.65"/>
<path d="M50.1 270.9L50.2 270.7 50.4 269.5 50.5 268.8 50.6 269.7 50.8 269.0 50.9 268.2 51.0 268.7 51.2 268.1 51.3 268.5 51.5 268.3 51.6 266.7 51.7 267.7 51.9 268.0 52.0 267.3" stroke="#1010d3" stroke-width="0.73"/>
<path d="M52.0 267.3L52.1 268.9 52.3 268.2 52.4 266.9 52.6 266.8 52.7 265.5 52.8 266.9 53.0 268.2 53.1 264.6 53.2 265.6 53.4 268.0 53.5 265.7 53.7 267.3 53.8 269.3 53.9 267.8 54.1 267.7 54.2 265.4 54.4 267.7 54.5 266.9 54.6 266.9 54.8 267.0 54.9 267.7 55.0 266.7 55.2 266.1 55.3 266.8 55.5 268.5 55.6 268.8 55.7 267.4 55.9 268.2 56.0 268.0 56.1 269.2 56.3 265.6 56.4 266.9 56.6 269.1 56.7 267.3 56.8 266.9 57.0 270.8 57.1 268.9 57.2 268.7 57.4 267.7 57.5 268.6 57.7 268.8 57.8 268.6 57.9 266.6 58.1 266.2 58.2 269.0 58.3 269.4 58.5 265.7 58.6 269.6 58.8 269.4 58.9 269.0 59.0 268.7 59.2 268.3 59.3 269.0 59.4 270.3 59.6 268.8 59.7 269.0 59.9 267.3 60.0 269.3 60.1 270.8 60.3 270.6 60.4 268.0 60.5 270.1 60.7 271.9 60.8 270.5 61.0 270.1 61.1 269.2 61.2 271.7 61.4 270.1 61.5 270.0 61.7 271.5 61.8 270.9 61.9 268.8 62.1 268.9 62.2 269.8 62.3 270.4 62.5 269.6 62.6 270.8 62.8 270.6 62.9 271.2 63.0 270.2 63.2 270.2 63.3 267.1 63.4 270.2 63.6 268.7 63.7 268.5 63.9 269.9 64.0 268.3 64.1 271.7 64.3 269.2 64.4 268.4 64.5 271.8 64.7 270.6 64.8 268.4 65.0 269.7 65.1 270.5 65.2 269.4 65.4 269.2 65.5 267.4 65.6 267.4 65.8 268.0 65.9 268.4 66.1 267.8" stroke="#0808ee" stroke-width="0.65"/>
<path d="M66.1 267.8L66.2 266.4 66.3 267.4 66.5 266.8 66.6 267.3 66.7 268.0 66.9 267.1 67.0 265.5 67.2 266.1 67.3 267.4 67.4 268.4 67.6 266.9 67.7 267.6 67.9 267.7 68.0 267.6 68.1 266.9 68.3 266.7 68.4 265.8 68.5 265.5 68.7 264.9 68.8 265.3 69.0 266.5 69.1 266.2" stroke="#1010d3" stroke-width="0.73"/>
<path d="M69.1 266.2L69.2 265.8 69.4 266.9 69.5 266.3 69.6 266.0 69.8 268.3 69.9 269.7 70.1 266.8 70.2 268.3 70.3 267.7 70.5 270.0 70.6 266.8 70.7 267.9 70.9 268.9 71.0 269.2 71.2 268.8 71.3 269.1 71.4 269.4 71.6 270.4 71.7 268.0 71.8 269.4 72.0 269.5 72.1 269.6 72.3 272.3 72.4 269.4 72.5 270.3 72.7 270.3 72.8 269.9 72.9 270.9 73.1 269.0 73.2 270.6 73.4 270.9 73.5 270.9 73.6 269.9 73.8 269.3 73.9 270.6 74.0 271.5 74.2 268.7 74.3 270.9 74.5 268.5 74.6 269.9 74.7 270.6 74.9 270.6 75.0 269.4 75.2 268.8 75.3 270.0 75.4 268.8 75.6 267.8 75.7 270.4 75.8 271.7 76.0 271.9 76.1 272.6 76.3 272.0 76.4 272.1 76.5 272.7 76.7 270.7 76.8 273.8 76.9 272.2 77.1 268.6 77.2 269.6 77.4 270.1 77.5 270.3 77.6 269.0 77.8 270.3 77.9 270.6 78.0 271.7 78.2 270.2 78.3 270.6 78.5 270.4 78.6 270.3 78.7 269.6 78.9 270.0 79.0 268.7 79.1 270.7 79.3 269.2 79.4 266.7 79.6 268.3 79.7 266.9 79.8 266.9 80.0 266.7 80.1 267.5 80.2 269.8 80.4 268.8 80.5 268.9 80.7 270.0 80.8 268.7 80.9 269.4 81.1 269.6" stroke="#0808ee" stroke-width="0.65"/>
<path d="M81.1 269.6L81.2 267.5 81.4 267.6 81.5 268.1 81.6 268.4 81.8 268.0 81.9 267.9 82.0 268.0 82.2 267.7 82.3 268.0 82.5 267.1 82.6 266.9 82.7 267.1 82.9 268.3 83.0 268.4" stroke="#1818b7" stroke-width="0.82"/>
<path d="M83.0 268.4L83.1 267.5 83.3 268.2 83.4 268.0 83.6 270.5 83.7 270.7 83.8 267.6 84.0 267.6 84.1 266.6 84.2 267.2 84.4 267.7 84.5 267.9 84.7 269.4 84.8 267.2 84.9 269.0 85.1 268.1 85.2 268.6 85.3 268.7 85.5 268.1 85.6 269.4 85.8 269.1 85.9 269.4 86.0 268.8" stroke="#1010d3" stroke-width="0.73"/>
<path d="M86.0 268.8L86.2 266.9 86.3 269.1 86.4 267.7 86.6 268.2 86.7 268.3 86.9 268.1 87.0 269.7 87.1 268.1 87.3 266.7 87.4 269.0 87.5 268.5 87.7 269.4 87.8 268.7 88.0 270.2 88.1 267.8 88.2 269.9 88.4 271.2 88.5 268.1 88.7 269.3 88.8 270.1 88.9 270.4 89.1 271.5 89.2 271.5 89.3 270.6 89.5 270.3 89.6 270.2 89.8 270.8 89.9 271.4 90.0 271.1" stroke="#0808ee" stroke-width="0.65"/>
<path d="M90.0 271.1L90.2 269.7 90.3 269.3 90.4 270.8 90.6 270.6 90.7 268.6 90.9 268.9 91.0 268.8 91.1 270.8" stroke="#1010d3" stroke-width="0.73"/>
<path d="M91.1 270.8L91.3 270.0 91.4 270.3 91.5 269.8 91.7 271.7 91.8 268.9 92.0 269.9 92.1 269.8 92.2 271.3 92.4 270.1 92.5 268.6 92.6 271.2 92.8 269.2 92.9 268.7 93.1 270.0 93.2 268.5 93.3 269.6 93.5 268.2 93.6 268.9 93.7 269.1 93.9 267.2 94.0 268.0 94.2 267.3 94.3 269.5 94.4 268.8 94.6 267.3 94.7 267.1 94.8 267.9 95.0 267.2 95.1 269.0 95.3 267.8 95.4 269.1 95.5 267.6 95.7 268.4 95.8 268.6 96.0 268.0 96.1 266.5 96.2 269.3 96.4 269.1 96.5 267.7 96.6 269.3 96.8 267.5 96.9 269.2 97.1 269.6 97.2 269.6 97.3 268.4 97.5 269.5 97.6 269.6 97.7 269.8 97.9 271.4 98.0 270.7" stroke="#0808ee" stroke-width="0.65"/>
<path d="M98.0 270.7L98.2 268.5 98.3 269.1 98.4 269.4 98.6 269.3 98.7 270.6 98.8 269.9 99.0 271.3 99.1 270.2 99.3 271.2 99.4 270.7 99.5 269.9 99.7 270.6 99.8 269.6 99.9 269.9 100.1 270.2 100.2 269.6 100.4 272.3 100.5 272.5 100.6 270.4 100.8 270.0 100.9 268.9 101.0 270.0" stroke="#1010d3" stroke-width="0.73"/>
<path d="M101.0 270.0L101.2 269.8 101.3 271.3 101.5 269.6 101.6 269.5 101.7 270.9 101.9 270.6 102.0 269.7 102.2 269.2 102.3 272.1 102.4 269.2 102.6 269.0 102.7 267.3 102.8 269.0 103.0 268.9 103.1 270.3 103.3 269.0 103.4 269.7 103.5 270.3 103.7 269.1 103.8 267.7 103.9 270.2 104.1 270.1 104.2 269.8 104.4 266.3 104.5 268.3 104.6 268.2 104.8 269.0 104.9 269.2 105.0 270.2" stroke="#0808ee" stroke-width="0.65"/>
<path d="M105.0 270.2L105.2 268.1 105.3 267.9 105.5 269.8 105.6 268.9 105.7 268.7 105.9 268.3 106.0 268.4 106.1 268.0 106.3 268.1 106.4 268.6 106.6 268.5 106.7 270.8 106.8 270.2 107.0 268.6 107.1 269.5 107.2 269.9 107.4 271.9 107.5 272.1 107.7 270.0 107.8 270.6 107.9 271.4 108.1 271.5 108.2 272.8 108.3 270.9 108.5 270.2 108.6 269.8 108.8 271.2 108.9 271.5 109.0 272.4" stroke="#1010d3" stroke-width="0.73"/>
<path d="M109.0 272.4L109.2 270.5 109.3 270.1 109.5 272.2 109.6 271.4 109.7 271.5 109.9 272.1 110.0 273.7 110.1 271.7 110.3 270.8 110.4 272.7 110.6 272.2 110.7 274.5 110.8 270.6 111.0 271.5 111.1 272.0 111.2 272.4 111.4 272.6 111.5 271.9 111.7 271.8 111.8 271.4 111.9 270.9 112.1 270.5" stroke="#0808ee" stroke-width="0.65"/>
<path d="M112.1 270.5L112.2 269.0 112.3 271.5 112.5 269.8 112.6 270.6 112.8 271.2 112.9 272.5 113.0 270.1" stroke="#1010d3" stroke-width="0.73"/>
<path d="M113.0 270.1L113.2 271.8 113.3 271.7 113.4 270.7 113.6 271.9 113.7 270.6 113.9 270.2 114.0 269.0 114.1 268.5 114.3 269.9 114.4 268.3 114.5 269.3 114.7 269.3 114.8 269.8 115.0 269.0 115.1 270.6" stroke="#0808ee" stroke-width="0.65"/>
<path d="M115.1 270.6L115.2 269.1 115.4 268.0 115.5 269.0 115.6 266.8 115.8 269.0 115.9 268.1 116.1 268.7" stroke="#1010d3" stroke-width="0.73"/>
<path d="M116.1 268.7L116.2 269.0 116.3 269.6 116.5 269.4 116.6 269.2 116.8 270.1 116.9 268.8 117.0 268.2" stroke="#0808ee" stroke-width="0.65"/>
<path d="M117.0 268.2L117.2 270.8 117.3 268.5 117.4 268.9 117.6 268.6 117.7 266.4 117.9 267.4 118.0 268.2 118.1 268.5 118.3 269.2 118.4 268.6 118.5 270.2 118.7 269.7 118.8 270.0 119.0 269.5 119.1 268.7" stroke="#1010d3" stroke-width="0.73"/>
<path d="M119.1 268.7L119.2 269.7 119.4 269.5 119.5 270.8 119.6 270.2 119.8 269.9 119.9 271.8 120.1 268.8 120.2 271.2 120.3 271.7 120.5 269.2 120.6 268.9 120.7 271.5 120.9 271.6 121.0 268.5 121.2 271.3 121.3 273.3 121.4 272.2 121.6 270.0 121.7 271.2 121.8 271.1 122.0 270.7 122.1 271.1 122.3 271.8 122.4 272.7 122.5 270.9 122.7 272.2 122.8 271.4 123.0 269.9 123.1 271.0 123.2 271.5 123.4 271.4 123.5 270.8 123.6 270.6 123.8 272.5 123.9 271.4 124.1 270.4" stroke="#0808ee" stroke-width="0.65"/>
<path d="M124.1 270.4L124.2 271.5 124.3 273.0 124.5 273.0 124.6 274.2 124.7 272.9 124.9 270.6 125.0 271.8 125.2 272.3 125.3 272.0 125.4 271.5 125.6 271.4 125.7 271.5 125.8 271.6 126.0 270.2 126.1 269.2 126.3 270.8 126.4 270.7 126.5 269.3 126.7 271.7 126.8 271.2 126.9 271.1 127.1 270.6" stroke="#1010d3" stroke-width="0.73"/>
<path d="M127.1 270.6L127.2 271.0 127.4 271.5 127.5 270.4 127.6 271.6 127.8 272.0 127.9 272.1 128.0 269.7 128.2 271.7 128.3 269.8 128.5 269.6 128.6 269.5 128.7 270.4 128.9 267.7 129.0 270.1 129.1 270.7 129.3 271.3 129.4 269.2 129.6 271.1 129.7 269.0 129.8 270.3 130.0 271.4 130.1 270.8 130.3 270.2 130.4 272.3 130.5 271.8 130.7 271.6 130.8 270.3 130.9 269.9 131.1 270.2" stroke="#0808ee" stroke-width="0.65"/>
<path d="M131.1 270.2L131.2 271.0 131.4 271.2 131.5 270.1 131.6 270.4 131.8 271.5 131.9 272.8 132.0 271.3 132.2 271.6 132.3 271.7 132.5 270.5 132.6 271.3 132.7 272.7 132.9 272.6 133.0 270.6 133.1 271.5 133.3 270.9 133.4 271.8 133.6 272.7 133.7 271.8 133.8 271.0 134.0 272.2 134.1 273.5 134.2 272.9 134.4 273.1 134.5 272.5 134.7 271.8 134.8 271.0 134.9 272.6 135.1 273.2 135.2 272.9 135.3 273.0 135.5 273.4 135.6 273.0 135.8 273.0 135.9 273.9 136.0 272.4 136.2 273.1 136.3 273.5 136.5 272.3 136.6 273.1 136.7 271.3 136.9 272.2 137.0 272.4" stroke="#1010d3" stroke-width="0.73"/>
<path d="M137.0 272.4L137.1 272.8 137.3 272.1 137.4 270.7 137.6 271.7 137.7 270.3 137.8 272.5 138.0 270.7 138.1 270.3" stroke="#0808ee" stroke-width="0.65"/>
<path d="M138.1 270.3L138.2 270.9 138.4 271.3 138.5 270.7 138.7 272.3 138.8 272.5 138.9 271.6 139.1 270.6 139.2 271.1 139.3 271.6 139.5 271.2 139.6 271.2 139.8 272.6 139.9 274.4 140.0 272.9 140.2 273.2 140.3 272.3 140.4 272.7 140.6 272.4 140.7 271.3 140.9 271.7 141.0 271.9 141.1 270.6 141.3 272.4 141.4 272.4 141.5 271.2 141.7 273.2 141.8 273.8 142.0 271.4 142.1 272.2" stroke="#1010d3" stroke-width="0.73"/>
<path d="M142.1 272.2L142.2 272.0 142.4 271.9 142.5 271.6 142.6 272.7 142.8 272.4 142.9 273.2 143.1 272.0" stroke="#0808ee" stroke-width="0.65"/>
<path d="M143.1 272.0L143.2 271.7 143.3 272.0 143.5 270.8 143.6 268.6 143.8 271.8 143.9 270.1 144.0 270.0" stroke="#1010d3" stroke-width="0.73"/>
<path d="M144.0 270.0L144.2 270.0 144.3 271.7 144.4 270.2 144.6 270.7 144.7 271.4 144.9 271.6 145.0 271.1 145.1 270.5" stroke="#0808ee" stroke-width="0.65"/>
<path d="M145.1 270.5L145.3 270.7 145.4 269.6 145.5 271.9 145.7 271.2 145.8 272.1 146.0 271.1 146.1 271.5 146.2 272.1 146.4 272.7 146.5 272.3 146.6 271.6 146.8 270.8 146.9 271.6 147.1 273.3" stroke="#1010d3" stroke-width="0.73"/>
<path d="M147.1 273.3L147.2 272.7 147.3 272.1 147.5 272.0 147.6 271.7 147.7 271.0 147.9 271.5 148.0 272.4 148.2 273.6 148.3 272.2 148.4 273.5 148.6 272.3 148.7 269.8 148.8 273.3 149.0 272.2 149.1 272.4 149.3 270.6 149.4 271.9 149.5 274.0 149.7 272.1 149.8 272.1 149.9 272.6 150.1 272.7" stroke="#0808ee" stroke-width="0.65"/>
<path d="M150.1 272.7L150.2 271.7 150.4 271.4 150.5 271.4 150.6 272.5 150.8 271.7 150.9 272.8 151.1 272.8" stroke="#1010d3" stroke-width="0.73"/>
<path d="M151.1 272.8L151.2 272.1 151.3 272.7 151.5 272.4 151.6 270.2 151.7 272.1 151.9 273.4 152.0 274.6 152.2 273.4 152.3 273.9 152.4 274.5 152.6 272.0 152.7 273.1 152.8 272.5 153.0 270.3 153.1 272.8" stroke="#0808ee" stroke-width="0.65"/>
<path d="M153.1 272.8L153.3 272.8 153.4 272.5 153.5 272.9 153.7 273.3 153.8 272.7 153.9 271.6 154.1 272.9 154.2 274.0 154.4 274.1 154.5 274.0 154.6 273.2 154.8 272.8 154.9 272.8 155.0 272.2" stroke="#1010d3" stroke-width="0.73"/>
<path d="M155.0 272.2L155.2 273.3 155.3 272.3 155.5 272.7 155.6 272.4 155.7 274.8 155.9 272.2 156.0 274.7 156.1 274.2 156.3 272.4 156.4 273.1 156.6 271.0 156.7 272.2 156.8 273.1 157.0 272.1 157.1 272.6 157.3 271.0 157.4 270.9 157.5 271.7 157.7 272.8 157.8 272.4 157.9 271.6 158.1 273.3" stroke="#0808ee" stroke-width="0.65"/>
<path d="M158.1 273.3L158.2 273.3 158.4 271.9 158.5 271.9 158.6 272.8 158.8 272.8 158.9 274.3 159.0 271.6" stroke="#1010d3" stroke-width="0.73"/>
<path d="M159.0 271.6L159.2 272.8 159.3 274.0 159.5 273.8 159.6 273.5 159.7 271.1 159.9 271.9 160.0 273.7 160.1 270.9 160.3 271.3 160.4 273.4 160.6 274.6 160.7 271.2 160.8 272.4 161.0 271.8 161.1 272.2 161.2 270.7 161.4 270.8 161.5 271.6 161.7 272.7 161.8 272.5 161.9 272.3 162.1 274.4" stroke="#0808ee" stroke-width="0.65"/>
<path d="M162.1 274.4L162.2 271.9 162.3 273.3 162.5 272.7 162.6 272.7 162.8 271.9 162.9 271.8 163.0 270.8" stroke="#1010d3" stroke-width="0.73"/>
<path d="M163.0 270.8L163.2 273.2 163.3 273.8 163.4 273.0 163.6 273.8 163.7 272.5 163.9 274.0 164.0 273.3" stroke="#0808ee" stroke-width="0.65"/>
<path d="M164.0 273.3L164.1 272.7 164.3 272.8 164.4 273.5 164.6 272.2 164.7 272.1 164.8 274.4 165.0 272.3 165.1 272.2 165.2 272.5 165.4 272.8 165.5 272.3 165.7 272.1 165.8 272.4 165.9 271.7 166.1 272.2 166.2 273.9 166.3 274.2 166.5 272.9 166.6 274.3 166.8 273.3 166.9 272.8 167.0 272.0" stroke="#1010d3" stroke-width="0.73"/>
<path d="M167.0 272.0L167.2 272.2 167.3 271.2 167.4 272.9 167.6 271.9 167.7 273.4 167.9 272.9 168.0 273.3 168.1 274.6 168.3 276.4 168.4 273.3 168.5 273.9 168.7 274.0 168.8 274.6 169.0 274.0 169.1 273.0 169.2 273.1 169.4 271.9 169.5 272.7 169.6 273.6 169.8 272.3 169.9 273.5 170.1 272.7 170.2 274.5 170.3 273.1 170.5 272.2 170.6 273.3 170.8 272.8 170.9 272.3 171.0 273.0 171.2 271.5 171.3 273.5 171.4 273.3 171.6 273.1 171.7 274.7 171.9 274.2 172.0 272.3 172.1 269.6 172.3 271.7 172.4 273.2 172.5 273.3 172.7 272.0 172.8 272.6 173.0 271.2 173.1 273.6 173.2 272.1 173.4 271.9 173.5 272.1 173.6 271.7 173.8 271.9 173.9 272.8 174.1 273.3" stroke="#0808ee" stroke-width="0.65"/>
<path d="M174.1 273.3L174.2 271.8 174.3 272.5 174.5 271.6 174.6 271.2 174.7 272.4 174.9 273.5 175.0 273.0 175.2 272.0 175.3 273.1 175.4 271.8 175.6 273.0 175.7 272.9 175.8 273.6 176.0 273.0 176.1 271.8" stroke="#1010d3" stroke-width="0.73"/>
<path d="M176.1 271.8L176.3 273.2 176.4 273.2 176.5 273.7 176.7 272.4 176.8 274.8 176.9 274.0 177.1 272.4 177.2 271.8 177.4 273.3 177.5 272.1 177.6 275.0 177.8 272.5 177.9 273.2 178.1 274.9 178.2 275.7 178.3 274.5 178.5 273.8 178.6 273.7 178.7 273.8 178.9 273.0 179.0 272.8 179.2 274.6 179.3 273.4 179.4 273.4 179.6 271.7 179.7 272.9 179.8 271.3 180.0 272.0 180.1 269.8 180.3 272.2 180.4 272.4 180.5 272.8 180.7 272.8 180.8 270.6 180.9 273.5 181.1 273.8 181.2 273.1 181.4 272.3 181.5 273.9 181.6 272.3 181.8 272.3 181.9 273.3 182.0 273.4" stroke="#0808ee" stroke-width="0.65"/>
<path d="M182.0 273.4L182.2 273.9 182.3 273.4 182.5 273.9 182.6 271.9 182.7 271.5 182.9 273.3 183.0 272.9 183.1 274.6 183.3 273.2 183.4 272.4 183.6 272.4 183.7 272.6 183.8 271.9 184.0 272.6 184.1 273.1 184.2 271.1 184.4 270.4 184.5 273.8 184.7 273.4 184.8 273.3 184.9 273.2 185.1 272.6 185.2 273.0 185.4 272.3 185.5 271.8 185.6 272.5 185.8 272.6 185.9 273.9 186.0 274.3 186.2 273.5 186.3 272.3 186.5 272.8 186.6 272.1 186.7 272.2 186.9 272.1 187.0 274.1 187.1 272.1 187.3 272.5 187.4 271.0 187.6 272.3 187.7 272.4 187.8 272.7 188.0 272.3 188.1 274.1" stroke="#1010d3" stroke-width="0.73"/>
<path d="M188.1 274.1L188.2 272.7 188.4 272.5 188.5 271.6 188.7 273.3 188.8 272.5 188.9 270.9 189.1 273.4 189.2 272.2 189.3 273.7 189.5 273.4 189.6 272.8 189.8 272.4 189.9 273.8 190.0 274.4 190.2 271.8 190.3 273.2 190.4 272.6 190.6 272.6 190.7 272.7 190.9 273.8 191.0 273.6 191.1 274.9 191.3 273.1 191.4 273.6 191.6 273.0 191.7 271.0 191.8 272.1 192.0 272.7 192.1 274.0 192.2 271.7 192.4 270.8 192.5 273.0 192.7 271.6 192.8 272.6 192.9 272.4 193.1 272.7" stroke="#0808ee" stroke-width="0.65"/>
<path d="M193.1 272.7L193.2 274.1 193.3 273.0 193.5 274.1 193.6 271.0 193.8 270.9 193.9 272.3 194.0 272.0 194.2 272.2 194.3 272.1 194.4 272.1 194.6 272.5 194.7 272.4 194.9 273.6 195.0 273.3 195.1 272.8 195.3 272.0 195.4 272.6 195.5 270.3 195.7 272.5 195.8 272.8 196.0 271.5 196.1 271.4 196.2 270.5 196.4 271.3 196.5 272.9 196.6 272.4 196.8 271.2 196.9 272.2 197.1 271.8" stroke="#1010d3" stroke-width="0.73"/>
<path d="M197.1 271.8L197.2 272.9 197.3 271.4 197.5 271.8 197.6 272.2 197.7 273.3 197.9 275.1 198.0 274.8 198.2 273.1 198.3 272.8 198.4 276.4 198.6 273.8 198.7 272.0 198.9 272.0 199.0 273.4 199.1 272.0 199.3 272.5 199.4 272.7 199.5 271.2 199.7 271.2 199.8 273.0 200.0 273.5 200.1 273.8" stroke="#0808ee" stroke-width="0.65"/>
<path d="M200.1 273.8L200.2 273.7 200.4 270.5 200.5 269.7 200.6 271.3 200.8 270.3 200.9 272.1 201.1 271.4 201.2 270.4 201.3 271.2 201.5 271.7 201.6 273.6 201.7 273.4 201.9 272.2 202.0 272.4 202.2 271.9 202.3 272.7 202.4 272.4 202.6 272.3 202.7 271.9 202.8 272.5 203.0 273.2 203.1 272.8 203.3 271.3 203.4 272.5 203.5 273.2 203.7 273.1 203.8 271.5 203.9 271.0 204.1 270.2" stroke="#1010d3" stroke-width="0.73"/>
<path d="M204.1 270.2L204.2 272.0 204.4 270.0 204.5 272.2 204.6 272.2 204.8 272.7 204.9 271.3 205.0 270.6 205.2 271.9 205.3 272.5 205.5 273.8 205.6 271.7 205.7 272.3 205.9 272.2 206.0 272.7 206.2 273.0 206.3 272.4 206.4 271.2 206.6 270.4 206.7 271.5 206.8 270.9 207.0 271.4 207.1 271.1 207.3 272.7 207.4 269.7 207.5 270.1 207.7 269.0 207.8 271.8 207.9 270.9 208.1 272.4 208.2 271.2 208.4 271.9 208.5 271.2 208.6 272.5 208.8 271.6 208.9 273.0 209.0 271.2 209.2 272.0 209.3 271.7 209.5 270.7 209.6 270.3 209.7 272.8 209.9 273.2 210.0 271.1 210.1 271.7 210.3 274.6 210.4 274.3 210.6 272.9 210.7 271.3 210.8 271.4 211.0 270.0 211.1 269.6 211.2 267.8 211.4 273.2 211.5 271.2 211.7 269.8 211.8 273.4 211.9 273.8 212.1 271.6 212.2 270.3 212.4 269.9 212.5 274.1 212.6 272.9 212.8 270.9 212.9 271.3 213.0 269.9 213.2 270.1 213.3 267.7 213.5 270.6 213.6 270.4 213.7 270.8 213.9 269.3 214.0 272.8 214.1 270.6 214.3 272.3 214.4 273.3 214.6 269.3 214.7 270.2 214.8 268.5 215.0 270.5 215.1 269.8 215.2 270.5 215.4 269.7 215.5 271.1 215.7 267.6 215.8 271.6 215.9 267.6 216.1 270.7 216.2 269.1 216.3 270.4 216.5 267.4 216.6 268.3 216.8 270.4 216.9 272.0 217.0 269.9 217.2 269.0 217.3 274.0 217.4 268.4 217.6 268.2 217.7 273.0 217.9 270.4 218.0 268.9 218.1 269.4 218.3 271.1 218.4 271.1 218.5 269.7 218.7 268.8 218.8 270.6 219.0 270.2 219.1 268.6 219.2 269.1 219.4 270.1 219.5 267.5 219.7 272.3 219.8 269.6 219.9 270.7 220.1 270.9 220.2 262.9 220.3 270.1 220.5 265.9 220.6 269.2 220.8 264.0 220.9 267.3 221.0 268.3 221.2 273.4 221.3 269.7 221.4 268.5 221.6 271.1 221.7 269.5 221.9 271.0 222.0 269.4 222.1 273.1 222.3 265.8 222.4 270.7 222.5 269.0 222.7 266.7 222.8 269.6 223.0 270.4 223.1 267.3 223.2 269.1 223.4 265.9 223.5 269.7 223.6 273.5 223.8 271.3 223.9 271.7 224.1 272.5 224.2 271.2 224.3 270.8 224.5 269.9 224.6 270.5 224.7 268.6 224.9 268.8 225.0 269.4 225.2 269.5 225.3 273.7 225.4 272.8 225.6 271.2 225.7 268.5 225.8 271.8 226.0 269.6 226.1 268.3 226.3 264.8 226.4 268.5 226.5 270.2 226.7 266.7 226.8 268.3 227.0 269.2 227.1 266.0 227.2 270.3 227.4 268.0 227.5 268.4 227.6 266.6 227.8 271.0 227.9 267.1 228.1 269.1 228.2 268.8 228.3 268.2 228.5 269.2 228.6 267.6 228.7 267.1 228.9 268.2 229.0 271.1 229.2 266.1 229.3 272.1 229.4 269.0 229.6 266.5 229.7 269.8 229.8 265.5 230.0 264.2 230.1 265.1 230.3 267.9 230.4 266.9 230.5 270.6 230.7 268.6 230.8 268.3 230.9 268.9 231.1 268.5 231.2 268.9 231.4 272.7 231.5 266.9 231.6 267.0 231.8 262.9 231.9 266.2 232.0 267.8 232.2 265.9 232.3 258.9 232.5 267.8 232.6 268.5 232.7 271.1 232.9 267.2 233.0 263.6 233.2 272.4 233.3 270.5 233.4 266.6 233.6 266.8 233.7 267.6 233.8 273.0 234.0 269.6 234.1 266.5 234.3 265.9 234.4 266.3 234.5 269.1 234.7 265.4 234.8 269.9 234.9 269.4 235.1 263.6 235.2 261.7 235.4 268.5 235.5 267.5 235.6 273.4 235.8 265.0 235.9 266.6 236.0 271.9 236.2 271.6 236.3 263.0 236.5 269.5 236.6 262.3 236.7 268.2 236.9 273.3 237.0 264.0 237.1 265.4 237.3 264.8 237.4 267.8 237.6 266.9 237.7 263.8 237.8 268.4 238.0 271.4 238.1 263.9 238.2 267.9 238.4 262.9 238.5 267.4 238.7 267.2 238.8 266.7 238.9 272.1 239.1 262.4 239.2 267.7 239.3 266.6 239.5 262.3 239.6 260.8 239.8 263.9 239.9 261.1 240.0 264.0 240.2 265.3 240.3 262.9 240.5 266.3 240.6 264.4 240.7 267.3 240.9 262.0 241.0 270.8 241.1 264.4 241.3 263.8 241.4 263.9 241.6 265.0 241.7 261.7 241.8 259.8 242.0 267.3 242.1 271.0 242.2 268.8 242.4 267.9 242.5 265.8 242.7 265.2 242.8 260.9 242.9 257.9 243.1 264.2 243.2 263.8 243.3 266.7 243.5 261.3 243.6 257.4 243.8 265.2 243.9 267.6 244.0 270.8 244.2 261.9 244.3 265.5 244.4 266.3 244.6 258.0 244.7 261.0 244.9 269.9 245.0 266.3 245.1 262.8 245.3 263.3 245.4 268.7 245.5 260.7 245.7 260.4 245.8 268.3 246.0 269.8 246.1 268.5 246.2 262.5 246.4 261.3 246.5 263.7 246.7 265.9 246.8 264.6 246.9 262.8 247.1 267.8 247.2 269.2 247.3 264.7 247.5 261.1 247.6 264.0 247.8 264.1 247.9 266.5 248.0 262.0 248.2 269.3 248.3 264.6 248.4 265.9 248.6 264.5 248.7 266.6 248.9 261.9 249.0 264.3 249.1 265.8 249.3 262.6 249.4 264.0 249.5 265.0 249.7 264.9 249.8 260.8 250.0 265.5 250.1 263.5 250.2 263.9 250.4 262.5 250.5 264.1 250.6 257.6 250.8 261.1 250.9 262.1 251.1 263.8 251.2 260.4 251.3 268.0 251.5 259.7 251.6 267.0 251.7 261.0 251.9 261.4 252.0 262.8 252.2 265.0 252.3 265.2 252.4 262.6 252.6 265.2 252.7 268.7 252.8 268.3 253.0 260.7 253.1 260.4 253.3 261.0 253.4 262.1 253.5 260.9 253.7 260.5 253.8 261.3 254.0 264.5 254.1 264.5 254.2 265.9 254.4 262.2 254.5 265.5 254.6 263.0 254.8 258.5 254.9 263.2 255.1 259.0 255.2 257.1 255.3 266.7 255.5 265.4 255.6 259.7 255.7 263.1 255.9 259.4 256.0 258.9 256.2 262.5 256.3 258.6 256.4 255.9 256.6 258.3 256.7 263.8 256.8 261.8 257.0 263.0 257.1 256.9 257.3 262.1 257.4 263.5 257.5 261.2 257.7 259.7 257.8 262.3 257.9 261.0 258.1 261.4 258.2 259.4 258.4 258.8 258.5 260.9 258.6 263.1 258.8 260.4 258.9 264.2 259.0 258.3 259.2 260.4 259.3 260.6 259.5 268.5 259.6 253.8 259.7 256.3 259.9 256.6 260.0 259.9 260.1 258.2 260.3 251.6 260.4 262.4 260.6 258.2 260.7 258.8 260.8 260.4 261.0 259.8 261.1 263.8 261.3 258.7 261.4 264.4 261.5 254.5 261.7 257.3 261.8 262.1 261.9 265.8 262.1 259.1 262.2 258.0 262.4 262.6 262.5 254.5 262.6 258.8 262.8 261.1 262.9 263.9 263.0 259.9 263.2 260.1 263.3 257.4 263.5 256.1 263.6 259.2 263.7 257.8 263.9 254.8 264.0 257.3 264.1 260.0 264.3 257.3 264.4 260.8 264.6 257.6 264.7 258.6 264.8 261.9 265.0 256.4 265.1 257.7 265.2 255.4 265.4 261.7 265.5 254.1 265.7 254.1 265.8 258.8 265.9 258.2 266.1 252.5 266.2 258.0 266.3 255.3 266.5 260.0 266.6 261.3 266.8 258.6 266.9 252.1 267.0 259.4 267.2 261.4 267.3 261.1 267.5 257.6 267.6 254.2 267.7 260.0 267.9 257.0 268.0 256.8 268.1 256.0 268.3 257.0 268.4 254.1 268.6 255.1 268.7 259.1 268.8 249.3 269.0 261.3 269.1 261.2 269.2 254.0 269.4 256.4 269.5 258.4 269.7 257.1 269.8 255.6 269.9 259.0 270.1 259.6 270.2 260.8 270.3 260.1 270.5 259.8 270.6 253.4 270.8 255.9 270.9 254.8 271.0 258.2 271.2 253.0 271.3 261.4 271.4 255.0 271.6 254.5 271.7 258.7 271.9 260.3 272.0 255.3 272.1 259.1 272.3 259.5 272.4 256.5 272.5 259.8 272.7 256.5 272.8 249.5 273.0 257.4 273.1 253.1 273.2 259.3 273.4 255.6 273.5 256.6 273.6 256.1 273.8 252.9 273.9 248.2 274.1 255.5 274.2 249.6 274.3 254.0 274.5 252.8 274.6 256.8 274.8 257.6 274.9 256.1 275.0 257.9 275.2 255.4 275.3 258.8 275.4 255.3 275.6 254.7 275.7 249.3 275.9 249.4 276.0 253.3 276.1 256.5 276.3 223.4 276.4 252.0 276.5 255.2 276.7 257.2 276.8 260.1 277.0 254.3 277.1 247.9 277.2 254.7 277.4 252.7 277.5 252.6 277.6 252.0 277.8 250.9 277.9 259.8 278.1 253.7 278.2 252.0 278.3 253.6 278.5 249.4 278.6 254.6 278.7 250.3 278.9 247.3 279.0 253.7 279.2 252.5 279.3 253.4 279.4 249.8 279.6 259.2 279.7 257.5 279.8 254.1 280.0 250.6 280.1 251.9 280.3 257.1 280.4 249.4 280.5 255.1 280.7 258.2 280.8 254.7" stroke="#0808ee" stroke-width="0.65"/>
</g>
<path d="M33.00 287.20v-2.7M33.00 217.60v2.7M101.88 287.20v-2.7M101.88 217.60v2.7M170.75 287.20v-2.7M170.75 217.60v2.7M239.62 287.20v-2.7M239.62 217.60v2.7M308.50 287.20v-2.7M308.50 217.60v2.7M33.00 287.20h2.7M308.50 287.20h-2.7M33.00 264.00h2.7M308.50 264.00h-2.7M33.00 240.80h2.7M308.50 240.80h-2.7M33.00 217.60h2.7M308.50 217.60h-2.7" stroke="#808080" stroke-width="0.9" fill="none"/>
<rect x="33.00" y="217.60" width="275.50" height="69.60" fill="none" stroke="#808080" stroke-width="1.1"/>
<text x="33.00" y="298.50" text-anchor="middle">0</text>
<text x="101.88" y="298.50" text-anchor="middle">500</text>
<text x="170.75" y="298.50" text-anchor="middle">1000</text>
<text x="239.62" y="298.50" text-anchor="middle">1500</text>
<text x="308.50" y="298.50" text-anchor="middle">2000</text>
<text x="30.25" y="287.35" text-anchor="end" dominant-baseline="central">0</text>
<text x="30.25" y="264.15" text-anchor="end" dominant-baseline="central">20</text>
<text x="30.25" y="240.95" text-anchor="end" dominant-baseline="central">40</text>
<text x="30.25" y="217.75" text-anchor="end" dominant-baseline="central">60</text>
<text x="170.45" y="214.10" text-anchor="middle">bear13</text>
<text transform="translate(17.20 252.70) rotate(-90)" text-anchor="middle">SV1</text>
<g clip-path="url(#c5)" fill="none" stroke-linejoin="round">
<path d="M395.5 272.9L395.6 272.1 395.8 277.0 395.9 274.3 396.1 273.0 396.2 272.6 396.3 273.4 396.5 267.6 396.6 273.8 396.7 273.5 396.9 274.0 397.0 275.4 397.2 275.1 397.3 273.8 397.4 274.9 397.6 272.9 397.7 272.9 397.8 272.4 398.0 274.5 398.1 273.0 398.3 275.6 398.4 273.8 398.5 274.5 398.7 274.3 398.8 276.4 398.9 276.5 399.1 273.0 399.2 275.4 399.4 273.1 399.5 273.9 399.6 273.0 399.8 273.9 399.9 273.0 400.1 274.1 400.2 272.6 400.3 274.3 400.5 273.8 400.6 274.2 400.7 272.7 400.9 273.3 401.0 274.2 401.2 271.0 401.3 273.6 401.4 273.3 401.6 272.8 401.7 271.3 401.8 273.4 402.0 272.5 402.1 273.3 402.3 275.1 402.4 272.7 402.5 272.5 402.7 274.0 402.8 273.8 403.0 275.6 403.1 275.7 403.2 274.5 403.4 273.4 403.5 274.7 403.6 273.9 403.8 273.2 403.9 274.2 404.1 273.7 404.2 272.7 404.3 275.6 404.5 273.4 404.6 276.3 404.7 269.7 404.9 273.8 405.0 274.6 405.2 275.1 405.3 273.9 405.4 274.2 405.6 270.7 405.7 274.6 405.9 272.9 406.0 274.5 406.1 273.6 406.3 273.7 406.4 271.8 406.5 274.8 406.7 273.5 406.8 270.7 407.0 273.7 407.1 274.3 407.2 271.2 407.4 273.1 407.5 271.8 407.6 273.8 407.8 272.5 407.9 272.0 408.1 271.5 408.2 273.9 408.3 271.1 408.5 273.6 408.6 274.3 408.7 273.7 408.9 272.4 409.0 269.9 409.2 272.1 409.3 267.4 409.4 272.3 409.6 273.0 409.7 270.7 409.9 275.2 410.0 274.7 410.1 273.1 410.3 274.3 410.4 275.7 410.5 273.8 410.7 273.8 410.8 275.7 411.0 272.0 411.1 269.9 411.2 271.7 411.4 273.7 411.5 273.0 411.6 274.4 411.8 273.0 411.9 274.0 412.1 272.6 412.2 273.7 412.3 272.1 412.5 272.4 412.6 271.9 412.8 275.1 412.9 275.4 413.0 272.9 413.2 274.0 413.3 272.9 413.4 273.0 413.6 273.2 413.7 270.9 413.9 272.8 414.0 272.9 414.1 274.5 414.3 271.6 414.4 273.5 414.5 272.4 414.7 273.4 414.8 272.4 415.0 273.7 415.1 273.7 415.2 273.8 415.4 274.8 415.5 274.7 415.6 274.3 415.8 274.3 415.9 275.3 416.1 271.7 416.2 275.4 416.3 274.7 416.5 271.6 416.6 274.7 416.8 273.4 416.9 273.5 417.0 274.4 417.2 275.7 417.3 275.7 417.4 273.9 417.6 272.5 417.7 276.2 417.9 273.5 418.0 274.4 418.1 272.6 418.3 273.3 418.4 274.4 418.5 273.9 418.7 273.4 418.8 271.9 419.0 266.9 419.1 273.0 419.2 273.3 419.4 272.6 419.5 273.4 419.6 272.6 419.8 272.9 419.9 273.4 420.1 274.3 420.2 273.2 420.3 272.4 420.5 273.4 420.6 271.8 420.8 272.5 420.9 273.7 421.0 271.6 421.2 272.5 421.3 270.0 421.4 271.6 421.6 270.1 421.7 273.9 421.9 272.7 422.0 272.2 422.1 273.4 422.3 273.6 422.4 272.9 422.5 272.2 422.7 274.0 422.8 274.1 423.0 271.4 423.1 275.6 423.2 273.4 423.4 274.6 423.5 272.9 423.7 275.4 423.8 274.7 423.9 275.2 424.1 272.1 424.2 272.0 424.3 271.7 424.5 268.8 424.6 272.2 424.8 272.1 424.9 274.9 425.0 272.5 425.2 273.3 425.3 273.0 425.4 273.9 425.6 270.9 425.7 272.1 425.9 273.9 426.0 271.6 426.1 271.9 426.3 273.3 426.4 272.4 426.6 273.0 426.7 274.8 426.8 274.0 427.0 271.8 427.1 272.1" stroke="#0808ee" stroke-width="0.65"/>
<path d="M427.1 272.1L427.2 272.3 427.4 274.0 427.5 273.4 427.7 272.8 427.8 272.1 427.9 273.9 428.1 274.2" stroke="#1010d3" stroke-width="0.73"/>
<path d="M428.1 274.2L428.2 271.9 428.3 273.1 428.5 273.7 428.6 274.2 428.8 274.1 428.9 271.7 429.0 271.2 429.2 273.9 429.3 274.9 429.4 271.7 429.6 271.8 429.7 272.0 429.9 272.6 430.0 275.6 430.1 274.9 430.3 272.9 430.4 273.8 430.6 273.2 430.7 274.2 430.8 274.4 431.0 273.1 431.1 274.2 431.2 273.8 431.4 273.5 431.5 273.6 431.7 272.6 431.8 272.3 431.9 275.4 432.1 274.1 432.2 274.5 432.3 272.9 432.5 274.8 432.6 272.6 432.8 272.6 432.9 272.7 433.0 274.3 433.2 273.3 433.3 274.2 433.4 272.4 433.6 271.7 433.7 274.4 433.9 273.6 434.0 272.8 434.1 273.1 434.3 270.8 434.4 272.6 434.6 272.1 434.7 273.7 434.8 270.7 435.0 272.3 435.1 271.6 435.2 272.5 435.4 275.0 435.5 274.5 435.7 274.3 435.8 272.5 435.9 273.7 436.1 272.8 436.2 273.1 436.3 273.2 436.5 272.6 436.6 273.5 436.8 274.6 436.9 270.6 437.0 272.2 437.2 275.3 437.3 272.6 437.5 272.4 437.6 274.9 437.7 273.8 437.9 275.8 438.0 273.4 438.1 275.1 438.3 271.1 438.4 274.6 438.6 274.7 438.7 274.8 438.8 273.9 439.0 274.3 439.1 274.8 439.2 272.9 439.4 271.3 439.5 273.9 439.7 274.7 439.8 275.0 439.9 273.2 440.1 274.2 440.2 273.8 440.4 276.1 440.5 275.1 440.6 274.1 440.8 272.7 440.9 274.0 441.0 276.4 441.2 273.1 441.3 272.3 441.5 272.0 441.6 276.5 441.7 273.2 441.9 272.4 442.0 272.6 442.1 273.5 442.3 275.2 442.4 273.6 442.6 273.5 442.7 272.4 442.8 272.3 443.0 273.2 443.1 272.1 443.2 274.2 443.4 273.8 443.5 271.2 443.7 272.4 443.8 273.5 443.9 271.8 444.1 272.7 444.2 274.2 444.4 273.1 444.5 274.2 444.6 274.3 444.8 274.8 444.9 271.6 445.0 272.2 445.2 274.9 445.3 269.7 445.5 272.0 445.6 273.4 445.7 272.4 445.9 270.4 446.0 272.6 446.1 272.4 446.3 271.6 446.4 274.0 446.6 274.2 446.7 274.4 446.8 272.9 447.0 271.8 447.1 273.7 447.2 274.3 447.4 272.4 447.5 273.1 447.7 272.0 447.8 272.8 447.9 272.8 448.1 272.7 448.2 272.6 448.4 273.8 448.5 274.0 448.6 271.1 448.8 269.5 448.9 271.8 449.0 273.0 449.2 273.2 449.3 272.0 449.5 275.3 449.6 273.5 449.7 274.1 449.9 274.7 450.0 274.7 450.1 272.7 450.3 274.4 450.4 274.2 450.6 272.1 450.7 275.1 450.8 276.3 451.0 271.8 451.1 272.0 451.3 274.0 451.4 273.9 451.5 275.7 451.7 275.3 451.8 272.6 451.9 272.8 452.1 273.6" stroke="#0808ee" stroke-width="0.65"/>
<path d="M452.1 273.6L452.2 274.9 452.4 275.5 452.5 275.4 452.6 275.5 452.8 273.5 452.9 275.1 453.0 274.9" stroke="#1010d3" stroke-width="0.73"/>
<path d="M453.0 274.9L453.2 273.6 453.3 273.7 453.5 274.4 453.6 274.0 453.7 274.6 453.9 276.8 454.0 270.0 454.1 275.1 454.3 275.0 454.4 274.3 454.6 275.2 454.7 273.1 454.8 274.6 455.0 274.2 455.1 273.9 455.3 274.5 455.4 273.5 455.5 271.4 455.7 273.4 455.8 274.8 455.9 275.0 456.1 274.6" stroke="#0808ee" stroke-width="0.65"/>
<path d="M456.1 274.6L456.2 273.9 456.4 276.0 456.5 274.8 456.6 275.2 456.8 274.7 456.9 275.0 457.0 273.1" stroke="#1010d3" stroke-width="0.73"/>
<path d="M457.0 273.1L457.2 273.6 457.3 273.0 457.5 275.3 457.6 275.1 457.7 274.7 457.9 272.6 458.0 272.6 458.2 275.3 458.3 274.0 458.4 272.3 458.6 275.9 458.7 275.1 458.8 273.4 459.0 274.1 459.1 276.1 459.3 272.6 459.4 273.9 459.5 274.2 459.7 276.3 459.8 275.1 459.9 273.5 460.1 274.4 460.2 274.0 460.4 275.2 460.5 273.1 460.6 275.1 460.8 273.7 460.9 274.4 461.1 275.7 461.2 273.0 461.3 276.0 461.5 275.3 461.6 274.3 461.7 274.6 461.9 276.3 462.0 274.1 462.2 274.5 462.3 274.2 462.4 273.3 462.6 270.8 462.7 274.1 462.8 270.8 463.0 273.2 463.1 271.4 463.3 276.1 463.4 275.0 463.5 273.0 463.7 272.7 463.8 274.2 463.9 273.0 464.1 272.3 464.2 274.0 464.4 275.2 464.5 273.7 464.6 273.8 464.8 273.2 464.9 272.7 465.1 274.6 465.2 270.5 465.3 273.9 465.5 273.6 465.6 272.4 465.7 272.1 465.9 274.1 466.0 274.2 466.2 274.3 466.3 274.0 466.4 273.9 466.6 273.6 466.7 273.9 466.8 274.6 467.0 274.7 467.1 273.3" stroke="#0808ee" stroke-width="0.65"/>
<path d="M467.1 273.3L467.3 270.4 467.4 272.8 467.5 272.7 467.7 273.1 467.8 273.7 467.9 271.4 468.1 274.0" stroke="#1010d3" stroke-width="0.73"/>
<path d="M468.1 274.0L468.2 274.8 468.4 275.2 468.5 273.6 468.6 275.0 468.8 274.8 468.9 274.8 469.1 275.3 469.2 273.7 469.3 273.8 469.5 271.2 469.6 276.8 469.7 274.6 469.9 273.6 470.0 273.1 470.2 273.9 470.3 273.2 470.4 273.3 470.6 273.3 470.7 272.8 470.8 273.2 471.0 273.6 471.1 273.7 471.3 272.6 471.4 273.9 471.5 273.1 471.7 272.1 471.8 273.4 472.0 272.6 472.1 274.5 472.2 273.5 472.4 270.5 472.5 273.8 472.6 273.6 472.8 272.5 472.9 273.4 473.1 274.7 473.2 273.5 473.3 275.4 473.5 273.7 473.6 272.3 473.7 273.5 473.9 272.8 474.0 272.9 474.2 271.9 474.3 272.6 474.4 270.5 474.6 276.7 474.7 273.5 474.9 272.1 475.0 273.1 475.1 273.8 475.3 271.8 475.4 274.0 475.5 273.5 475.7 272.4 475.8 273.9 476.0 273.2 476.1 273.5 476.2 275.0 476.4 274.4 476.5 274.3 476.6 274.7 476.8 272.9 476.9 274.2 477.1 275.0 477.2 275.9 477.3 274.7 477.5 272.9 477.6 274.7 477.7 273.5 477.9 273.8 478.0 274.8 478.2 275.2 478.3 273.5 478.4 275.8 478.6 273.2 478.7 275.0 478.9 272.6 479.0 273.9 479.1 273.4 479.3 272.0 479.4 274.1 479.5 272.8 479.7 273.1 479.8 272.1 480.0 271.8 480.1 272.2 480.2 272.1 480.4 273.0 480.5 271.9 480.6 270.9 480.8 272.5 480.9 272.5 481.1 274.3 481.2 271.4 481.3 272.7 481.5 273.0 481.6 271.7 481.8 275.8 481.9 272.9 482.0 272.0 482.2 273.1 482.3 272.4 482.4 273.2 482.6 273.3 482.7 272.2 482.9 274.6 483.0 275.6 483.1 272.6 483.3 273.0 483.4 273.0 483.5 272.8 483.7 272.4 483.8 273.6 484.0 272.6 484.1 272.8 484.2 274.5 484.4 273.5 484.5 273.2 484.6 274.4 484.8 272.6 484.9 274.2 485.1 273.2 485.2 272.7 485.3 276.0 485.5 276.1 485.6 274.2 485.8 275.2 485.9 274.6 486.0 273.4 486.2 275.8 486.3 274.5 486.4 275.7 486.6 276.1 486.7 274.8 486.9 275.0 487.0 274.1 487.1 274.8 487.3 274.1 487.4 274.4 487.5 276.6 487.7 275.1 487.8 274.9 488.0 273.5 488.1 275.4 488.2 272.8 488.4 274.5 488.5 275.8 488.6 274.0 488.8 273.1 488.9 274.1 489.1 272.8 489.2 273.3 489.3 273.4 489.5 274.3 489.6 273.9 489.8 272.3 489.9 273.9 490.0 275.3 490.2 270.8 490.3 273.8 490.4 273.1 490.6 273.5 490.7 275.4 490.9 273.8 491.0 273.5 491.1 275.3 491.3 275.5 491.4 273.2 491.5 274.1 491.7 274.5 491.8 275.4 492.0 273.5 492.1 275.1 492.2 274.3 492.4 273.6 492.5 275.0 492.7 274.1 492.8 276.6 492.9 273.9 493.1 276.1 493.2 273.9 493.3 274.0 493.5 273.7 493.6 271.6 493.8 276.5 493.9 273.4 494.0 274.1 494.2 268.5 494.3 273.3 494.4 271.6 494.6 274.0 494.7 274.2 494.9 269.6 495.0 274.4 495.1 272.5 495.3 274.2 495.4 273.2 495.6 270.1 495.7 273.4 495.8 274.2 496.0 273.3 496.1 273.0 496.2 274.8 496.4 274.3 496.5 274.2 496.7 273.0 496.8 275.9 496.9 274.1 497.1 274.7 497.2 275.8 497.3 274.9 497.5 275.2 497.6 273.4 497.8 273.9 497.9 273.1 498.0 269.8 498.2 273.3 498.3 275.5 498.4 274.4 498.6 273.3 498.7 274.2 498.9 274.7 499.0 273.1 499.1 272.2 499.3 272.9 499.4 273.1 499.6 272.4 499.7 273.2 499.8 271.9 500.0 271.8 500.1 274.1 500.2 271.9 500.4 272.3 500.5 272.6 500.7 272.5 500.8 271.9 500.9 271.5 501.1 271.9 501.2 273.7 501.3 272.3 501.5 275.2 501.6 270.8 501.8 273.1 501.9 272.8 502.0 274.6 502.2 272.4 502.3 272.6 502.4 273.6 502.6 275.1 502.7 273.5 502.9 274.5 503.0 275.2 503.1 274.4 503.3 271.5 503.4 275.1 503.6 271.6 503.7 273.5 503.8 272.7 504.0 274.6 504.1 274.6 504.2 272.8 504.4 271.9 504.5 272.6 504.7 274.8 504.8 273.9 504.9 272.9 505.1 273.8 505.2 275.1 505.3 274.0 505.5 276.0 505.6 275.0 505.8 273.5 505.9 273.7 506.0 274.3 506.2 274.1 506.3 276.3 506.5 275.6 506.6 274.1 506.7 273.1 506.9 274.8 507.0 276.2 507.1 276.3 507.3 274.3 507.4 274.4 507.6 276.5 507.7 275.3 507.8 274.1 508.0 274.0 508.1 273.4 508.2 275.2 508.4 274.5 508.5 275.8 508.7 276.1 508.8 275.0 508.9 273.2 509.1 270.3 509.2 273.4 509.4 274.7 509.5 275.3 509.6 274.2 509.8 273.1 509.9 272.0 510.0 273.6 510.2 270.1 510.3 274.1 510.5 274.2 510.6 270.3 510.7 273.3 510.9 273.1 511.0 274.2 511.1 269.9 511.3 271.4 511.4 272.2 511.6 273.6 511.7 272.6 511.8 271.2 512.0 272.2 512.1 272.4 512.2 271.6 512.4 272.3 512.5 271.7 512.7 274.3 512.8 271.9 512.9 273.1 513.1 274.2" stroke="#0808ee" stroke-width="0.65"/>
<path d="M513.1 274.2L513.2 272.8 513.4 272.9 513.5 273.5 513.6 272.8 513.8 274.7 513.9 275.1 514.0 274.1" stroke="#1010d3" stroke-width="0.73"/>
<path d="M514.0 274.1L514.2 272.7 514.3 273.1 514.5 273.6 514.6 274.1 514.7 273.4 514.9 272.4 515.0 273.8 515.1 273.7 515.3 272.8 515.4 270.7 515.6 272.9 515.7 271.8 515.8 272.8 516.0 273.8 516.1 274.8 516.2 271.9 516.4 273.0 516.5 272.6 516.7 272.6 516.8 270.8 516.9 272.1 517.1 272.3" stroke="#0808ee" stroke-width="0.65"/>
<path d="M517.1 272.3L517.2 272.9 517.4 273.4 517.5 273.1 517.6 274.1 517.8 273.2 517.9 272.7 518.0 273.1 518.2 273.7 518.3 274.6 518.5 274.6 518.6 274.5 518.7 274.3 518.9 273.6 519.0 273.5 519.1 273.4 519.3 270.4 519.4 274.6 519.6 273.9 519.7 273.2 519.8 272.9 520.0 274.1 520.1 274.1 520.3 272.5 520.4 272.9 520.5 273.1 520.7 273.7 520.8 274.3 520.9 273.6 521.1 273.4" stroke="#1010d3" stroke-width="0.73"/>
<path d="M521.1 273.4L521.2 273.3 521.4 273.1 521.5 271.7 521.6 272.9 521.8 274.3 521.9 273.8 522.0 274.1" stroke="#1818b7" stroke-width="0.82"/>
<path d="M522.0 274.1L522.2 275.7 522.3 275.4 522.5 274.8 522.6 274.3 522.7 274.2 522.9 273.5 523.0 274.6 523.1 273.4 523.3 274.4 523.4 275.7 523.6 274.9 523.7 275.1 523.8 274.8 524.0 275.5 524.1 271.7" stroke="#1010d3" stroke-width="0.73"/>
<path d="M524.1 271.7L524.3 273.4 524.4 274.1 524.5 273.0 524.7 274.9 524.8 275.2 524.9 275.7 525.1 275.1 525.2 276.5 525.4 274.8 525.5 275.4 525.6 276.0 525.8 276.3 525.9 275.4 526.0 274.9" stroke="#0808ee" stroke-width="0.65"/>
<path d="M526.0 274.9L526.2 274.4 526.3 275.6 526.5 274.1 526.6 273.7 526.7 272.0 526.9 273.3 527.0 272.8" stroke="#1010d3" stroke-width="0.73"/>
<path d="M527.0 272.8L527.2 274.0 527.3 273.3 527.4 273.8 527.6 273.9 527.7 272.7 527.8 273.3 528.0 271.9 528.1 273.2 528.3 270.1 528.4 274.2 528.5 274.1 528.7 272.7 528.8 273.9 528.9 272.3 529.1 272.1 529.2 274.1 529.4 271.8 529.5 274.8 529.6 273.8 529.8 272.9 529.9 268.3 530.0 274.1 530.2 271.3 530.3 273.4 530.5 274.5 530.6 272.0 530.7 273.0 530.9 272.4 531.0 271.6 531.2 272.9 531.3 272.5 531.4 271.9 531.6 270.9 531.7 272.6 531.8 270.2 532.0 271.0 532.1 272.1 532.3 271.1 532.4 270.7 532.5 270.1 532.7 270.5 532.8 270.3 532.9 271.5 533.1 270.8 533.2 273.8 533.4 270.8 533.5 271.9 533.6 270.7 533.8 272.3 533.9 272.7 534.1 272.4 534.2 272.0 534.3 272.5 534.5 267.3 534.6 273.0 534.7 272.2 534.9 270.1 535.0 272.2 535.2 272.8 535.3 274.5 535.4 272.8 535.6 272.4 535.7 273.4 535.8 272.3 536.0 275.0 536.1 273.7 536.3 273.9 536.4 272.6 536.5 273.7 536.7 272.1 536.8 270.9 537.0 274.1 537.1 272.5 537.2 272.0 537.4 273.2 537.5 273.8 537.6 273.2 537.8 272.8 537.9 273.9 538.1 273.2 538.2 273.5 538.3 271.0 538.5 272.6 538.6 273.7 538.7 273.5 538.9 272.6 539.0 273.2 539.2 274.0 539.3 275.0 539.4 273.0 539.6 274.5 539.7 274.4 539.8 273.5 540.0 274.5 540.1 273.5 540.3 274.6 540.4 274.5 540.5 274.8 540.7 272.9 540.8 275.9 541.0 274.8 541.1 275.4 541.2 272.0 541.4 275.7 541.5 274.5 541.6 273.6 541.8 270.4 541.9 275.2 542.1 275.7 542.2 275.1 542.3 273.4 542.5 274.8 542.6 272.4 542.7 274.1 542.9 274.9 543.0 274.3 543.2 274.5 543.3 275.9 543.4 274.0 543.6 274.3 543.7 275.4 543.9 276.8 544.0 275.8 544.1 275.8" stroke="#0808ee" stroke-width="0.65"/>
<path d="M544.1 275.8L544.3 274.2 544.4 275.2 544.5 275.0 544.7 274.6 544.8 274.9 545.0 274.1 545.1 271.7 545.2 273.5 545.4 273.4 545.5 273.8 545.6 274.2 545.8 272.2 545.9 272.6 546.1 274.1" stroke="#1010d3" stroke-width="0.73"/>
<path d="M546.1 274.1L546.2 272.9 546.3 274.4 546.5 274.5 546.6 273.8 546.7 273.3 546.9 274.4 547.0 273.4 547.2 272.4 547.3 274.7 547.4 274.5 547.6 274.9 547.7 272.3 547.9 274.2 548.0 273.6 548.1 273.9 548.3 273.2 548.4 273.4 548.5 272.9 548.7 272.8 548.8 271.5 549.0 273.6 549.1 272.6 549.2 272.7 549.4 273.3 549.5 271.8 549.6 270.9 549.8 273.3 549.9 270.3 550.1 272.5 550.2 270.2 550.3 272.5 550.5 272.4 550.6 272.6 550.8 272.8 550.9 269.8 551.0 272.7 551.2 272.5 551.3 273.4 551.4 273.9 551.6 272.9 551.7 272.6 551.9 272.5 552.0 273.0 552.1 273.8 552.3 273.1 552.4 273.4 552.5 274.2 552.7 272.8 552.8 273.2 553.0 273.9 553.1 273.2" stroke="#0808ee" stroke-width="0.65"/>
<path d="M553.1 273.2L553.2 272.4 553.4 271.6 553.5 274.4 553.6 270.1 553.8 272.4 553.9 271.9 554.1 272.5" stroke="#1010d3" stroke-width="0.73"/>
<path d="M554.1 272.5L554.2 273.7 554.3 273.3 554.5 272.9 554.6 273.6 554.8 273.9 554.9 274.1 555.0 271.0" stroke="#0808ee" stroke-width="0.65"/>
<path d="M555.0 271.0L555.2 271.0 555.3 273.4 555.4 272.7 555.6 273.3 555.7 273.5 555.9 273.2 556.0 272.7 556.1 273.8" stroke="#1010d3" stroke-width="0.73"/>
<path d="M556.1 273.8L556.3 272.7 556.4 272.9 556.5 274.4 556.7 272.2 556.8 272.5 557.0 274.7 557.1 272.7 557.2 272.7 557.4 273.0 557.5 274.0 557.6 272.2 557.8 272.7 557.9 272.9 558.1 271.9 558.2 272.9 558.3 271.4 558.5 273.7 558.6 273.1 558.8 272.4 558.9 272.7 559.0 274.0 559.2 273.5 559.3 272.0 559.4 274.6 559.6 273.5 559.7 272.5 559.9 272.8 560.0 272.3 560.1 272.8 560.3 273.6 560.4 272.5 560.5 274.3 560.7 271.7 560.8 272.5 561.0 266.7 561.1 273.5 561.2 273.0 561.4 272.3 561.5 272.3 561.7 273.3 561.8 273.0 561.9 271.4 562.1 269.2 562.2 269.5 562.3 270.4 562.5 273.1 562.6 272.2 562.8 270.5 562.9 271.1 563.0 273.3 563.2 272.0 563.3 271.0 563.4 274.4 563.6 272.4 563.7 271.9 563.9 273.4 564.0 273.6 564.1 272.6 564.3 274.6 564.4 272.9 564.5 272.4 564.7 273.4 564.8 274.8 565.0 272.2 565.1 273.5 565.2 273.0 565.4 274.1 565.5 273.4 565.7 272.2 565.8 274.3 565.9 274.0 566.1 274.5 566.2 272.2 566.3 272.0 566.5 273.0 566.6 271.8 566.8 271.9 566.9 270.1 567.0 272.6 567.2 271.3 567.3 271.7 567.4 269.7 567.6 270.8 567.7 272.1 567.9 270.7 568.0 271.2 568.1 271.9 568.3 270.8 568.4 271.0 568.6 272.2 568.7 271.6 568.8 270.3 569.0 270.5 569.1 271.6" stroke="#0808ee" stroke-width="0.65"/>
<path d="M569.1 271.6L569.2 271.9 569.4 271.4 569.5 271.9 569.7 272.9 569.8 271.5 569.9 272.8 570.1 271.1" stroke="#1010d3" stroke-width="0.73"/>
<path d="M570.1 271.1L570.2 271.9 570.3 271.9 570.5 272.9 570.6 272.6 570.8 273.4 570.9 273.3 571.0 274.0" stroke="#0808ee" stroke-width="0.65"/>
<path d="M571.0 274.0L571.2 272.0 571.3 274.2 571.5 271.9 571.6 272.7 571.7 274.1 571.9 272.2 572.0 273.0" stroke="#1010d3" stroke-width="0.73"/>
<path d="M572.0 273.0L572.1 273.9 572.3 273.0 572.4 273.4 572.6 273.7 572.7 273.0 572.8 272.7 573.0 273.1 573.1 271.0" stroke="#0808ee" stroke-width="0.65"/>
<path d="M573.1 271.0L573.2 272.0 573.4 272.6 573.5 272.8 573.7 273.5 573.8 272.4 573.9 272.7 574.1 272.4" stroke="#1818b7" stroke-width="0.82"/>
<path d="M574.1 272.4L574.2 271.5 574.3 271.5 574.5 272.2 574.6 272.7 574.8 272.1 574.9 270.9 575.0 272.1 575.2 273.6 575.3 272.2 575.5 273.3 575.6 272.2 575.7 272.3 575.9 272.6 576.0 271.8" stroke="#1010d3" stroke-width="0.73"/>
<path d="M576.0 271.8L576.1 272.9 576.3 272.8 576.4 273.9 576.6 273.4 576.7 273.6 576.8 270.7 577.0 273.7 577.1 275.6 577.2 273.0 577.4 273.2 577.5 275.6 577.7 273.6 577.8 273.0 577.9 273.3 578.1 273.3 578.2 274.1 578.4 274.3 578.5 272.3 578.6 273.0 578.8 272.4 578.9 273.8 579.0 272.9 579.2 272.9 579.3 272.9 579.5 274.5 579.6 271.5 579.7 273.1 579.9 273.6 580.0 273.0 580.1 274.7 580.3 272.0 580.4 273.4 580.6 272.8 580.7 272.8 580.8 274.4 581.0 273.1 581.1 271.8 581.2 273.5 581.4 272.6 581.5 271.9 581.7 271.4 581.8 273.4 581.9 271.8 582.1 272.1 582.2 272.2 582.4 271.8 582.5 271.8 582.6 273.4 582.8 272.2 582.9 273.1 583.0 272.3 583.2 272.9 583.3 271.3 583.5 269.2 583.6 272.1 583.7 273.0 583.9 272.1 584.0 270.3 584.1 273.0 584.3 273.3 584.4 271.4 584.6 272.5 584.7 268.5 584.8 271.1 585.0 271.1 585.1 272.2 585.2 270.7 585.4 270.9 585.5 272.9 585.7 271.6 585.8 272.6 585.9 272.1 586.1 271.1" stroke="#0808ee" stroke-width="0.65"/>
<path d="M586.1 271.1L586.2 271.9 586.4 271.0 586.5 271.9 586.6 271.9 586.8 271.3 586.9 271.8 587.0 272.3" stroke="#1010d3" stroke-width="0.73"/>
<path d="M587.0 272.3L587.2 272.0 587.3 271.5 587.5 274.5 587.6 272.6 587.7 273.4 587.9 272.6 588.0 274.2 588.1 275.0 588.3 273.6 588.4 274.1 588.6 272.3 588.7 275.4 588.8 272.7 589.0 272.8 589.1 275.5 589.3 274.1 589.4 273.4 589.5 272.8 589.7 273.0 589.8 272.5 589.9 272.8 590.1 273.6 590.2 271.5 590.4 272.6 590.5 273.5 590.6 272.4 590.8 272.9 590.9 273.1 591.0 273.2 591.2 273.9 591.3 273.4 591.5 273.7 591.6 272.6 591.7 268.8 591.9 272.2 592.0 272.6 592.1 273.4 592.3 273.1 592.4 271.0 592.6 273.1 592.7 271.6 592.8 272.0 593.0 271.8 593.1 272.6 593.3 272.4 593.4 272.2 593.5 273.1 593.7 270.9 593.8 272.8 593.9 271.9 594.1 270.4 594.2 270.6 594.4 268.0 594.5 271.4 594.6 270.2 594.8 273.4 594.9 269.8 595.0 271.1 595.2 271.8 595.3 271.5 595.5 273.4 595.6 270.8 595.7 270.0 595.9 271.6 596.0 269.3 596.2 270.9 596.3 272.8 596.4 269.8 596.6 273.7 596.7 273.7 596.8 271.5 597.0 271.8 597.1 272.5 597.3 272.7 597.4 274.1 597.5 271.9 597.7 273.0 597.8 273.3 597.9 269.8 598.1 273.0 598.2 273.3 598.4 266.8 598.5 273.0 598.6 273.7 598.8 271.8 598.9 273.3 599.0 273.8 599.2 270.0 599.3 272.9 599.5 271.9 599.6 271.4 599.7 273.7 599.9 271.2 600.0 272.9 600.2 272.6 600.3 274.5 600.4 270.4 600.6 271.4 600.7 272.1 600.8 272.0 601.0 270.9 601.1 271.8 601.3 274.7 601.4 271.6 601.5 271.9 601.7 271.8 601.8 271.9 601.9 271.1 602.1 272.6 602.2 269.7 602.4 271.8 602.5 270.6 602.6 271.7 602.8 273.5 602.9 271.9 603.1 272.5 603.2 272.7 603.3 270.9 603.5 271.4 603.6 272.6 603.7 272.3 603.9 271.3 604.0 269.4 604.2 271.7 604.3 271.8 604.4 271.2 604.6 272.9 604.7 271.8 604.8 271.0 605.0 271.3 605.1 271.4 605.3 273.0 605.4 271.8 605.5 270.4 605.7 269.2 605.8 268.8 606.0 270.0 606.1 272.5 606.2 269.8 606.4 270.0 606.5 273.5 606.6 269.5 606.8 273.9 606.9 272.6 607.1 272.5 607.2 271.3 607.3 271.3 607.5 271.9 607.6 272.4 607.7 272.5 607.9 270.3 608.0 272.1 608.2 273.1 608.3 272.6 608.4 271.8 608.6 272.5 608.7 273.2 608.8 270.6 609.0 272.1 609.1 271.4 609.3 271.1 609.4 271.4 609.5 271.2 609.7 273.6 609.8 270.8 610.0 271.0 610.1 271.1 610.2 269.0 610.4 268.3 610.5 268.8 610.6 269.8 610.8 268.9 610.9 268.3 611.1 270.6 611.2 268.8 611.3 269.6 611.5 269.6 611.6 268.6 611.7 270.7 611.9 269.1 612.0 271.3 612.2 270.0 612.3 271.7 612.4 269.4 612.6 271.4 612.7 269.4 612.9 272.9 613.0 269.0 613.1 271.0 613.3 270.6 613.4 270.8 613.5 272.9 613.7 271.8 613.8 271.8 614.0 271.2 614.1 272.8" stroke="#0808ee" stroke-width="0.65"/>
<path d="M614.1 272.8L614.2 271.8 614.4 269.5 614.5 269.8 614.6 270.2 614.8 270.0 614.9 270.0 615.1 269.1" stroke="#1010d3" stroke-width="0.73"/>
<path d="M615.1 269.1L615.2 269.9 615.3 271.1 615.5 271.6 615.6 270.8 615.7 268.8 615.9 268.7 616.0 273.2 616.2 269.5 616.3 271.2 616.4 270.6 616.6 271.0 616.7 269.4 616.9 271.1 617.0 271.5 617.1 271.7 617.3 264.6 617.4 269.2 617.5 271.3 617.7 271.5 617.8 263.6 618.0 270.4 618.1 272.0 618.2 264.4 618.4 270.7 618.5 274.0 618.6 272.2 618.8 271.4 618.9 268.3 619.1 269.3 619.2 270.8 619.3 272.4 619.5 271.2 619.6 271.1 619.8 271.7 619.9 271.0 620.0 270.4 620.2 271.7 620.3 272.5 620.4 271.0 620.6 271.1 620.7 271.7 620.9 269.7 621.0 270.0 621.1 272.4 621.3 271.0 621.4 271.2 621.5 270.7 621.7 269.6 621.8 271.3 622.0 267.2 622.1 268.6 622.2 271.5 622.4 269.6 622.5 269.8 622.6 270.7 622.8 269.6 622.9 269.8 623.1 270.0 623.2 269.4 623.3 271.2 623.5 269.3 623.6 271.6 623.8 269.5 623.9 269.2 624.0 271.9 624.2 268.6 624.3 272.0 624.4 271.4 624.6 272.5 624.7 271.9 624.9 271.5 625.0 269.7 625.1 270.5 625.3 272.7 625.4 271.3 625.5 273.1 625.7 272.9 625.8 271.5 626.0 271.2 626.1 272.0 626.2 267.0 626.4 270.8 626.5 262.9 626.6 271.2 626.8 272.3 626.9 272.8 627.1 271.8 627.2 271.3 627.3 269.5 627.5 270.3 627.6 268.6 627.8 270.7 627.9 272.2 628.0 270.4 628.2 270.3 628.3 271.1 628.4 272.6 628.6 273.6 628.7 273.2 628.9 270.8 629.0 270.4 629.1 268.5 629.3 271.7 629.4 268.8 629.5 266.7 629.7 270.9 629.8 270.4 630.0 271.1 630.1 268.4 630.2 271.8 630.4 269.1 630.5 270.4 630.7 270.8 630.8 268.6 630.9 270.9 631.1 269.6 631.2 270.0 631.3 269.0 631.5 266.4 631.6 269.7 631.8 269.4 631.9 271.0 632.0 271.5 632.2 271.6 632.3 270.2 632.4 271.2 632.6 266.1 632.7 263.4 632.9 270.5 633.0 270.2 633.1 270.0 633.3 269.9 633.4 267.8 633.5 268.3 633.7 269.3 633.8 269.1 634.0 267.6 634.1 263.6 634.2 269.5 634.4 271.3 634.5 268.0 634.7 270.8 634.8 270.7 634.9 270.8 635.1 270.1 635.2 272.9 635.3 270.2 635.5 267.8 635.6 265.6 635.8 268.7 635.9 264.9 636.0 268.0 636.2 270.2 636.3 270.8 636.4 268.8 636.6 267.6 636.7 269.2 636.9 268.9 637.0 269.4 637.1 269.6 637.3 270.3 637.4 267.8 637.6 268.2 637.7 269.7 637.8 269.1 638.0 268.1 638.1 267.8 638.2 266.5 638.4 266.7 638.5 269.4 638.7 269.0 638.8 269.7 638.9 265.1 639.1 225.0 639.2 271.7 639.3 269.0 639.5 266.9 639.6 269.9 639.8 266.7 639.9 267.3 640.0 269.9 640.2 270.7 640.3 266.4 640.5 269.7 640.6 271.1 640.7 269.0 640.9 271.4 641.0 270.8 641.1 266.4 641.3 270.0 641.4 269.6 641.6 272.0 641.7 270.7 641.8 267.8 642.0 268.8 642.1 267.1 642.2 268.0 642.4 269.2 642.5 270.3 642.7 273.2 642.8 267.9 642.9 269.5 643.1 265.5 643.2 270.0 643.3 270.0 643.5 270.6 643.6 265.7 643.8 269.8" stroke="#0808ee" stroke-width="0.65"/>
</g>
<path d="M395.50 287.20v-2.7M395.50 217.60v2.7M464.50 287.20v-2.7M464.50 217.60v2.7M533.50 287.20v-2.7M533.50 217.60v2.7M602.50 287.20v-2.7M602.50 217.60v2.7M671.50 287.20v-2.7M671.50 217.60v2.7M395.50 287.20h2.7M671.50 287.20h-2.7M395.50 259.36h2.7M671.50 259.36h-2.7M395.50 231.52h2.7M671.50 231.52h-2.7" stroke="#808080" stroke-width="0.9" fill="none"/>
<rect x="395.50" y="217.60" width="276.00" height="69.60" fill="none" stroke="#808080" stroke-width="1.1"/>
<text x="395.50" y="298.50" text-anchor="middle">0</text>
<text x="464.50" y="298.50" text-anchor="middle">500</text>
<text x="533.50" y="298.50" text-anchor="middle">1000</text>
<text x="602.50" y="298.50" text-anchor="middle">1500</text>
<text x="671.50" y="298.50" text-anchor="middle">2000</text>
<text x="392.75" y="287.35" text-anchor="end" dominant-baseline="central">0</text>
<text x="392.75" y="259.51" text-anchor="end" dominant-baseline="central">20</text>
<text x="392.75" y="231.67" text-anchor="end" dominant-baseline="central">40</text>
<text x="533.20" y="214.10" text-anchor="middle">bear13</text>
<text transform="translate(379.50 252.70) rotate(-90)" text-anchor="middle">SV2</text>
<g clip-path="url(#c6)" fill="none" stroke-linejoin="round">
<path d="M33.0 375.7L33.2 375.6 33.5 375.7 33.7 375.9 33.9 375.8 34.1 375.9 34.4 375.6 34.6 375.3 34.8 375.8 35.1 375.8 35.3 375.5 35.5 375.5 35.8 375.6 36.0 375.9 36.2 375.6 36.4 375.4 36.7 376.0 36.9 375.7 37.1 376.1 37.4 375.9 37.6 376.1 37.8 375.7 38.1 375.9 38.3 375.5 38.5 375.5 38.7 375.6 39.0 376.2 39.2 375.7 39.4 375.6 39.7 375.5 39.9 376.0 40.1 375.7 40.3 375.8 40.6 375.8 40.8 375.3 41.0 375.8 41.3 375.6 41.5 375.3 41.7 375.7 42.0 375.6 42.2 375.5 42.4 375.5 42.6 375.9 42.9 375.5 43.1 375.2 43.3 375.9 43.6 375.3 43.8 375.5 44.0 375.7 44.2 375.0 44.5 375.3 44.7 375.8 44.9 375.5 45.2 375.3 45.4 375.5 45.6 375.3 45.9 375.5 46.1 375.3 46.3 375.1 46.5 375.7 46.8 375.4 47.0 375.6 47.2 375.4 47.5 375.8 47.7 375.6 47.9 375.5 48.2 375.2 48.4 375.1 48.6 375.8 48.8 375.7 49.1 375.3 49.3 376.0 49.5 375.6 49.8 375.5 50.0 375.1 50.2 375.2 50.4 375.5 50.7 375.5 50.9 375.5 51.1 375.0 51.4 375.5 51.6 375.5 51.8 375.3 52.1 375.4 52.3 375.5 52.5 375.7 52.7 375.5 53.0 375.7 53.2 375.4 53.4 375.7 53.7 376.0 53.9 375.9 54.1 376.3 54.4 376.1 54.6 376.5 54.8 376.4 55.0 376.9 55.3 376.5 55.5 377.0 55.7 377.1 56.0 376.7 56.2 376.9 56.4 376.6 56.6 376.0 56.9 376.8 57.1 376.8 57.3 376.6 57.6 376.5 57.8 376.7 58.0 376.7 58.3 376.5 58.5 376.5 58.7 376.9 58.9 376.7 59.2 376.7 59.4 377.0 59.6 376.6 59.9 376.9 60.1 376.4 60.3 376.7 60.5 376.7 60.8 376.9 61.0 376.8 61.2 377.2 61.5 377.0 61.7 376.6 61.9 377.3 62.2 376.5 62.4 377.2 62.6 376.6 62.8 377.0 63.1 376.6 63.3 376.7 63.5 377.2 63.8 376.5 64.0 376.4 64.2 376.8 64.5 376.9 64.7 376.8 64.9 377.1 65.1 376.5 65.4 377.0 65.6 376.8 65.8 377.0 66.1 377.0 66.3 377.2 66.5 376.5 66.7 376.9 67.0 376.6 67.2 376.9 67.4 377.0 67.7 377.0 67.9 377.0 68.1 376.9 68.4 377.0 68.6 377.0 68.8 377.2 69.0 377.1 69.3 376.5 69.5 377.1 69.7 377.2 70.0 376.8 70.2 376.6 70.4 377.3 70.7 377.0 70.9 377.1 71.1 377.4 71.3 376.8 71.6 377.0 71.8 376.9 72.0 377.2 72.3 376.9 72.5 377.1 72.7 377.0 72.9 377.3 73.2 377.3 73.4 376.7 73.6 377.1 73.9 376.9 74.1 377.0 74.3 377.1 74.6 377.2 74.8 376.9 75.0 377.1 75.2 377.1 75.5 377.0 75.7 376.8 75.9 376.9 76.2 377.0 76.4 377.2 76.6 377.4 76.9 376.8 77.1 376.8 77.3 377.1 77.5 377.0 77.8 376.9 78.0 376.9 78.2 376.9 78.5 377.2 78.7 376.7 78.9 377.4 79.1 376.9 79.4 377.0 79.6 376.9 79.8 376.7 80.1 376.8 80.3 377.4 80.5 377.6 80.8 377.0 81.0 377.4 81.2 377.2 81.4 377.0 81.7 377.6 81.9 377.7 82.1 377.1 82.4 377.2 82.6 377.3 82.8 377.2 83.0 377.4 83.3 377.6 83.5 377.3 83.7 377.5 84.0 377.6 84.2 377.1 84.4 377.3 84.7 377.2 84.9 377.5 85.1 377.4 85.3 377.5 85.6 377.5 85.8 377.2 86.0 377.5 86.3 377.2 86.5 377.2 86.7 376.8 87.0 377.6 87.2 377.1 87.4 377.3 87.6 377.3 87.9 377.7 88.1 377.4 88.3 377.2 88.6 377.4 88.8 377.3 89.0 377.4 89.2 377.1 89.5 377.4 89.7 377.9 89.9 377.5 90.2 377.8 90.4 378.2 90.6 377.5 90.9 377.1 91.1 377.4 91.3 377.7 91.5 377.6 91.8 377.1 92.0 377.4 92.2 377.4 92.5 377.4 92.7 377.4 92.9 377.2 93.2 377.3 93.4 377.4 93.6 377.7 93.8 377.3 94.1 377.6 94.3 377.2 94.5 377.8 94.8 377.5 95.0 377.5 95.2 377.8 95.4 377.1 95.7 377.2 95.9 377.6 96.1 377.3 96.4 377.4 96.6 378.1 96.8 377.5 97.1 377.5 97.3 377.5 97.5 377.8 97.7 377.6 98.0 377.6 98.2 377.3 98.4 377.5 98.7 377.6 98.9 377.2 99.1 377.7 99.3 377.7 99.6 378.0 99.8 377.2 100.0 377.4 100.3 377.4 100.5 377.5 100.7 377.6 101.0 377.6 101.2 377.7 101.4 377.7 101.6 377.6 101.9 377.3 102.1 377.5 102.3 377.7 102.6 377.8 102.8 377.8 103.0 377.3 103.3 377.5 103.5 377.6 103.7 377.7 103.9 377.9 104.2 377.7 104.4 377.5 104.6 377.8 104.9 377.7 105.1 377.7 105.3 377.7 105.5 378.0 105.8 377.7 106.0 377.9 106.2 377.5 106.5 377.9 106.7 377.6 106.9 377.3 107.2 377.8 107.4 377.8 107.6 377.7 107.8 377.7 108.1 377.9 108.3 377.6 108.5 377.3 108.8 377.8 109.0 377.8 109.2 378.0 109.5 377.7 109.7 378.0 109.9 378.0 110.1 377.4 110.4 377.9 110.6 377.5 110.8 377.4 111.1 377.7 111.3 377.6 111.5 377.3 111.7 377.8 112.0 377.9 112.2 378.1 112.4 377.8 112.7 377.4 112.9 377.5 113.1 378.0 113.4 378.0 113.6 377.9 113.8 377.7 114.0 377.8 114.3 377.7 114.5 377.7 114.7 377.9 115.0 377.8 115.2 377.7 115.4 377.8 115.6 377.7 115.9 377.4 116.1 377.7 116.3 377.8 116.6 378.2 116.8 377.7 117.0 378.3 117.3 378.1 117.5 377.6 117.7 377.7 117.9 377.9 118.2 378.2 118.4 377.9 118.6 378.0 118.9 377.7 119.1 377.3 119.3 377.8 119.6 378.0 119.8 378.1 120.0 377.9 120.2 377.9 120.5 378.1 120.7 377.8 120.9 378.1 121.2 377.6 121.4 377.6 121.6 377.6 121.8 378.0 122.1 377.8 122.3 377.9 122.5 378.0 122.8 378.0 123.0 378.2 123.2 378.2 123.5 377.7 123.7 377.9 123.9 377.8 124.1 377.7 124.4 378.3 124.6 378.1 124.8 377.9 125.1 377.8 125.3 378.0 125.5 377.7 125.8 377.9 126.0 378.2 126.2 378.1 126.4 377.7 126.7 377.8 126.9 378.4 127.1 377.6 127.4 377.8 127.6 377.6 127.8 378.0 128.0 378.0 128.3 378.2 128.5 377.4 128.7 378.0 129.0 377.6 129.2 378.1 129.4 377.9 129.7 378.3 129.9 378.0 130.1 377.7 130.3 378.3 130.6 377.7 130.8 377.9 131.0 378.2 131.3 378.1 131.5 378.1 131.7 378.0 132.0 378.1 132.2 378.2 132.4 378.1 132.6 378.2 132.9 378.3 133.1 378.0 133.3 377.8 133.6 378.4 133.8 378.0 134.0 378.2 134.2 378.2 134.5 377.8 134.7 378.1 134.9 377.7 135.2 378.2 135.4 377.9 135.6 378.1 135.9 378.2 136.1 377.9 136.3 378.1 136.5 377.9 136.8 378.1 137.0 378.3 137.2 378.1 137.5 378.0 137.7 377.8 137.9 378.3 138.1 378.1 138.4 378.5 138.6 377.9 138.8 378.3 139.1 378.5 139.3 378.1 139.5 377.8 139.8 378.4 140.0 378.3 140.2 378.3 140.4 378.3 140.7 378.0 140.9 378.3 141.1 378.3 141.4 378.0 141.6 378.3 141.8 378.0 142.1 378.3 142.3 378.4 142.5 378.5 142.7 377.7 143.0 378.2 143.2 378.1 143.4 378.1 143.7 378.1 143.9 378.1 144.1 377.7 144.3 378.4 144.6 378.5 144.8 378.4 145.0 378.4 145.3 378.0 145.5 378.0 145.7 378.4 146.0 378.5 146.2 378.2 146.4 377.8 146.6 378.8 146.9 378.0 147.1 378.4 147.3 377.9 147.6 378.4 147.8 378.2 148.0 378.5 148.3 378.4 148.5 377.9 148.7 378.0 148.9 378.3 149.2 378.4 149.4 378.6 149.6 378.3 149.9 378.2 150.1 378.2 150.3 378.2 150.5 378.5 150.8 378.2 151.0 378.2 151.2 377.9 151.5 377.8 151.7 378.2 151.9 378.4 152.2 378.2 152.4 378.4 152.6 378.4 152.8 378.2 153.1 378.5 153.3 378.1 153.5 378.3 153.8 378.2 154.0 378.3 154.2 378.4 154.4 378.5 154.7 378.3 154.9 378.4 155.1 378.2 155.4 378.3 155.6 378.6 155.8 378.2 156.1 378.6 156.3 378.4 156.5 378.3 156.7 378.7 157.0 378.3 157.2 378.2 157.4 378.3 157.7 378.4 157.9 378.4 158.1 378.5 158.4 378.4 158.6 378.4 158.8 378.3 159.0 378.6 159.3 378.2 159.5 378.3 159.7 378.3 160.0 378.4 160.2 378.2 160.4 378.7 160.6 378.2 160.9 378.3 161.1 378.3 161.3 378.2 161.6 378.5 161.8 378.4 162.0 378.2 162.3 378.2 162.5 378.3 162.7 378.7 162.9 378.2 163.2 378.1 163.4 378.1 163.6 378.3 163.9 378.7 164.1 378.1 164.3 378.4 164.6 378.9 164.8 378.3 165.0 378.7 165.2 378.7 165.5 378.5 165.7 378.1 165.9 378.5 166.2 378.3 166.4 378.0 166.6 378.0 166.8 378.4 167.1 378.4 167.3 378.7 167.5 378.6 167.8 378.3 168.0 378.3 168.2 378.4 168.5 378.2 168.7 378.6 168.9 378.4 169.1 378.2 169.4 378.3 169.6 378.2 169.8 378.3 170.1 378.5 170.3 378.3 170.5 378.7 170.8 378.8 171.0 378.3 171.2 378.4 171.4 378.4 171.7 378.8 171.9 378.5 172.1 378.6 172.4 378.6 172.6 379.0 172.8 378.5 173.0 378.2 173.3 378.3 173.5 378.6 173.7 378.4 174.0 378.3 174.2 379.1 174.4 378.5 174.7 378.3 174.9 378.3 175.1 378.0 175.3 378.2 175.6 378.4 175.8 378.4 176.0 378.3 176.3 378.6 176.5 378.5 176.7 378.2 176.9 378.0 177.2 378.5 177.4 378.5 177.6 378.4 177.9 378.1 178.1 378.5 178.3 378.1 178.6 378.7 178.8 378.5 179.0 378.5 179.2 378.3 179.5 378.2 179.7 378.8 179.9 378.7 180.2 378.4 180.4 378.6 180.6 378.8 180.9 378.2 181.1 378.3 181.3 378.3 181.5 378.6 181.8 378.2 182.0 378.5 182.2 378.2 182.5 378.7 182.7 378.7 182.9 378.4 183.1 378.6 183.4 378.3 183.6 378.4 183.8 378.7 184.1 378.4 184.3 378.5 184.5 378.3 184.8 378.6 185.0 378.6 185.2 378.2 185.4 377.9 185.7 378.0 185.9 378.5 186.1 378.4 186.4 378.1 186.6 378.5 186.8 378.7 187.1 378.4 187.3 378.4 187.5 378.7 187.7 378.9 188.0 378.8 188.2 378.3 188.4 378.6 188.7 378.5 188.9 378.4 189.1 378.3 189.3 378.6 189.6 378.4 189.8 378.7 190.0 378.6 190.3 378.7 190.5 378.2 190.7 378.5 191.0 378.7 191.2 378.6 191.4 378.5 191.6 378.3 191.9 378.9 192.1 378.7 192.3 378.6 192.6 377.9 192.8 378.3 193.0 378.5 193.2 378.3 193.5 378.0 193.7 378.5 193.9 378.6 194.2 378.2 194.4 378.4 194.6 378.3 194.9 378.6 195.1 378.0 195.3 378.1 195.5 378.4 195.8 378.3 196.0 379.0 196.2 378.3 196.5 378.5 196.7 378.4 196.9 378.3 197.2 378.6 197.4 378.9 197.6 378.4 197.8 378.7 198.1 378.6 198.3 378.6 198.5 378.6 198.8 379.0 199.0 378.2 199.2 378.4 199.4 378.2 199.7 378.0 199.9 378.5 200.1 378.9 200.4 378.7 200.6 378.8 200.8 378.6 201.1 378.5 201.3 379.0 201.5 378.4 201.7 378.9 202.0 378.4 202.2 378.5 202.4 378.6 202.7 378.5 202.9 378.6 203.1 378.7 203.4 378.9 203.6 378.5 203.8 378.1 204.0 378.1 204.3 378.2 204.5 378.3 204.7 378.7 205.0 378.2 205.2 378.5 205.4 378.5 205.6 378.6 205.9 378.5 206.1 378.6 206.3 378.5 206.6 378.8 206.8 378.6 207.0 378.0 207.3 378.5 207.5 378.6 207.7 378.4 207.9 378.4 208.2 378.8 208.4 378.6 208.6 378.3 208.9 378.5 209.1 378.5 209.3 378.2 209.5 378.7 209.8 378.5 210.0 378.6 210.2 378.2 210.5 379.0 210.7 378.7 210.9 378.7 211.2 378.4 211.4 378.4 211.6 378.2 211.8 378.9 212.1 378.4 212.3 378.6 212.5 378.7 212.8 378.4 213.0 378.7 213.2 379.0 213.5 378.6 213.7 378.9 213.9 378.7 214.1 378.4 214.4 378.5 214.6 378.2 214.8 378.6 215.1 378.9 215.3 378.7 215.5 378.8 215.7 378.8 216.0 378.4 216.2 378.7 216.4 379.0 216.7 378.4 216.9 378.6 217.1 378.5 217.4 378.5 217.6 378.4 217.8 378.5 218.0 378.3 218.3 378.4 218.5 378.5 218.7 378.5 219.0 378.9 219.2 378.6 219.4 378.6 219.7 378.5 219.9 378.9 220.1 378.2 220.3 378.5 220.6 378.8 220.8 378.9 221.0 378.6 221.3 378.6 221.5 378.7 221.7 378.5 221.9 378.7 222.2 378.4 222.4 378.7 222.6 378.6 222.9 378.3 223.1 378.0 223.3 378.8 223.6 378.7 223.8 378.8 224.0 378.4 224.2 378.8 224.5 378.7 224.7 378.6 224.9 378.8 225.2 378.8 225.4 378.7 225.6 379.0 225.8 378.9 226.1 378.7 226.3 378.5 226.5 378.6 226.8 379.0 227.0 378.7 227.2 378.4 227.5 378.4 227.7 378.6 227.9 378.8 228.1 378.4 228.4 378.7 228.6 378.8 228.8 378.8 229.1 378.2 229.3 378.5 229.5 378.3 229.8 378.7 230.0 378.4 230.2 378.7 230.4 378.6 230.7 378.0 230.9 378.4 231.1 378.7 231.4 378.6 231.6 378.5 231.8 378.3 232.0 378.7 232.3 379.0 232.5 378.6 232.7 378.6 233.0 378.6 233.2 378.3 233.4 378.5 233.7 378.4 233.9 378.8 234.1 378.4 234.3 378.1 234.6 378.4 234.8 378.5 235.0 378.6 235.3 378.2 235.5 378.8 235.7 378.6 236.0 378.5 236.2 378.4 236.4 378.7 236.6 378.5 236.9 378.7 237.1 378.6 237.3 378.6 237.6 378.9 237.8 378.6 238.0 378.4 238.2 378.8 238.5 378.6 238.7 378.4 238.9 378.8 239.2 378.6 239.4 378.8 239.6 378.3 239.9 378.1 240.1 378.1 240.3 378.6 240.5 378.4 240.8 378.6 241.0 378.6 241.2 378.2 241.5 378.9 241.7 378.4 241.9 378.6 242.2 378.3 242.4 378.6 242.6 378.8 242.8 378.5 243.1 378.4 243.3 378.6 243.5 378.5 243.8 378.7 244.0 379.1 244.2 378.4 244.4 378.4 244.7 378.6 244.9 378.6 245.1 378.4 245.4 378.7 245.6 378.8 245.8 378.7 246.1 378.3 246.3 378.9 246.5 378.3 246.7 378.8 247.0 378.9 247.2 378.3 247.4 378.6 247.7 378.9 247.9 378.7 248.1 378.4 248.3 378.3 248.6 378.7 248.8 378.5 249.0 378.5 249.3 378.8 249.5 378.5 249.7 378.6 250.0 378.7 250.2 378.7 250.4 378.6 250.6 378.6 250.9 378.8 251.1 378.7 251.3 378.4 251.6 378.6 251.8 378.4 252.0 378.3 252.3 378.5 252.5 378.1 252.7 378.8 252.9 378.4 253.2 378.7 253.4 378.2 253.6 378.2 253.9 379.1 254.1 378.9 254.3 378.5 254.5 378.5 254.8 378.5 255.0 378.7 255.2 378.5 255.5 378.5 255.7 378.7 255.9 378.4 256.2 379.2 256.4 378.5 256.6 378.9 256.8 378.4 257.1 378.7 257.3 378.8 257.5 378.6 257.8 378.9 258.0 378.9 258.2 379.0 258.5 378.6 258.7 378.5 258.9 378.4 259.1 378.7 259.4 378.4 259.6 378.6 259.8 378.7 260.1 378.5 260.3 378.4 260.5 378.7 260.7 378.7 261.0 378.7 261.2 378.6 261.4 378.9 261.7 378.4 261.9 378.7 262.1 378.5 262.4 378.8 262.6 378.6 262.8 378.6 263.0 378.8 263.3 378.2 263.5 378.6 263.7 378.2 264.0 378.4 264.2 378.8 264.4 378.7 264.6 378.6 264.9 378.6 265.1 378.6 265.3 378.7 265.6 379.1 265.8 378.7 266.0 379.2 266.3 378.6 266.5 378.8 266.7 378.8 266.9 378.7 267.2 378.6 267.4 379.0 267.6 379.1 267.9 378.9 268.1 379.1 268.3 378.9 268.6 378.3 268.8 378.9 269.0 378.5 269.2 379.0 269.5 378.6 269.7 378.7 269.9 378.7 270.2 378.5 270.4 378.3 270.6 378.6 270.8 378.6 271.1 378.9 271.3 378.5 271.5 378.7 271.8 378.5 272.0 378.7 272.2 378.3 272.5 379.1 272.7 378.7 272.9 378.5 273.1 378.8 273.4 378.9 273.6 378.7 273.8 379.0 274.1 378.7 274.3 378.1 274.5 378.4 274.8 378.9 275.0 378.9 275.2 378.8 275.4 378.5 275.7 378.9 275.9 378.8 276.1 378.5 276.4 378.5 276.6 378.8 276.8 378.9 277.0 379.0 277.3 378.8 277.5 379.2 277.7 378.5 278.0 378.8 278.2 378.6 278.4 378.3 278.7 378.4 278.9 379.0 279.1 378.5 279.3 378.4 279.6 378.9 279.8 378.9 280.0 378.7" stroke="#20209c" stroke-width="0.90"/>
<path d="M280.0 378.7L280.3 379.1 280.5 378.4 280.7 379.3 281.0 376.5 281.2 373.7" stroke="#1010d3" stroke-width="0.73"/>
<path d="M281.2 373.7L281.4 371.1 281.6 368.3 281.9 365.6 282.1 363.3 282.3 359.7 282.6 359.4 282.8 355.2 283.0 353.1" stroke="#0808ee" stroke-width="0.65"/>
<path d="M283.0 353.1L283.2 352.1 283.5 351.8 283.7 352.4 283.9 351.8 284.2 350.4 284.4 350.5 284.6 351.0 284.9 348.5 285.1 348.0" stroke="#1010d3" stroke-width="0.73"/>
<path d="M285.1 348.0L285.3 350.7 285.5 349.0 285.8 346.9 286.0 348.0" stroke="#1818b7" stroke-width="0.82"/>
<path d="M286.0 348.0L286.2 348.1 286.5 348.1 286.7 348.0 286.9 347.4 287.1 343.7 287.4 338.8 287.6 339.0 287.8 338.5 288.1 338.5 288.3 336.9 288.5 337.0 288.8 335.7 289.0 334.0 289.2 333.9" stroke="#1010d3" stroke-width="0.73"/>
<path d="M289.2 333.9L289.4 333.2 289.7 332.7 289.9 332.6 290.1 332.4 290.4 332.2 290.6 330.7 290.8 332.2 291.1 329.4 291.3 330.3 291.5 330.7 291.7 330.0 292.0 329.8 292.2 328.6" stroke="#1818b7" stroke-width="0.82"/>
<path d="M292.2 328.6L292.4 329.1 292.7 326.8 292.9 328.4 293.1 329.4" stroke="#1010d3" stroke-width="0.73"/>
<path d="M293.1 329.4L293.3 327.5 293.6 328.4 293.8 322.4 294.0 318.0" stroke="#0808ee" stroke-width="0.65"/>
<path d="M294.0 318.0L294.3 314.3" stroke="#1010d3" stroke-width="0.73"/>
</g>
<path d="M33.00 388.20v-2.7M33.00 318.50v2.7M78.92 388.20v-2.7M78.92 318.50v2.7M124.83 388.20v-2.7M124.83 318.50v2.7M170.75 388.20v-2.7M170.75 318.50v2.7M216.67 388.20v-2.7M216.67 318.50v2.7M262.58 388.20v-2.7M262.58 318.50v2.7M308.50 388.20v-2.7M308.50 318.50v2.7M33.00 388.20h2.7M308.50 388.20h-2.7M33.00 355.20h2.7M308.50 355.20h-2.7M33.00 322.20h2.7M308.50 322.20h-2.7" stroke="#808080" stroke-width="0.9" fill="none"/>
<rect x="33.00" y="318.50" width="275.50" height="69.70" fill="none" stroke="#808080" stroke-width="1.1"/>
<text x="33.00" y="399.50" text-anchor="middle">0</text>
<text x="78.92" y="399.50" text-anchor="middle">200</text>
<text x="124.83" y="399.50" text-anchor="middle">400</text>
<text x="170.75" y="399.50" text-anchor="middle">600</text>
<text x="216.67" y="399.50" text-anchor="middle">800</text>
<text x="262.58" y="399.50" text-anchor="middle">1000</text>
<text x="308.50" y="399.50" text-anchor="middle">1200</text>
<text x="30.25" y="388.35" text-anchor="end" dominant-baseline="central">0</text>
<text x="30.25" y="355.35" text-anchor="end" dominant-baseline="central">50</text>
<text x="30.25" y="322.35" text-anchor="end" dominant-baseline="central">100</text>
<text x="170.45" y="315.00" text-anchor="middle">bear14</text>
<text transform="translate(11.90 353.65) rotate(-90)" text-anchor="middle">SV1</text>
<text x="170.75" y="411.10" text-anchor="middle">Time</text>
<g clip-path="url(#c7)" fill="none" stroke-linejoin="round">
<path d="M395.5 383.2L395.7 383.0 396.0 381.6 396.2 382.4 396.4 383.0 396.6 382.1 396.9 381.5 397.1 381.5 397.3 381.3 397.6 381.0 397.8 381.2 398.0 381.4 398.3 380.9 398.5 380.5 398.7 381.3 398.9 380.6 399.2 380.9 399.4 380.2 399.6 381.2 399.9 380.9 400.1 380.6 400.3 380.6 400.6 381.4 400.8 380.5 401.0 380.7 401.2 380.7 401.5 380.6 401.7 380.5 401.9 381.3 402.2 379.8 402.4 380.8 402.6 381.4 402.9 380.4 403.1 379.7" stroke="#20209c" stroke-width="0.90"/>
<path d="M403.1 379.7L403.3 380.6 403.6 379.6 403.8 379.6 404.0 380.7 404.2 379.0 404.5 380.8 404.7 379.6 404.9 380.5 405.2 380.8 405.4 380.7 405.6 380.1 405.9 380.1 406.1 379.6" stroke="#1818b7" stroke-width="0.82"/>
<path d="M406.1 379.6L406.3 379.5 406.5 380.4 406.8 380.0 407.0 380.4 407.2 379.8 407.5 380.4 407.7 380.4 407.9 378.8 408.1 379.8 408.4 379.4 408.6 378.5 408.8 379.3 409.1 379.7" stroke="#20209c" stroke-width="0.90"/>
<path d="M409.1 379.7L409.3 379.6 409.5 380.0 409.8 379.1 410.0 379.8 410.2 378.8 410.4 377.5 410.7 379.9 410.9 380.0 411.1 379.5 411.4 379.7 411.6 379.1 411.8 380.1 412.1 379.7 412.3 378.9 412.5 380.0 412.8 379.6 413.0 378.4 413.2 379.7 413.4 380.3 413.7 381.0 413.9 378.8 414.1 379.8 414.4 378.9 414.6 380.3 414.8 379.2 415.1 379.8" stroke="#1818b7" stroke-width="0.82"/>
<path d="M415.1 379.8L415.3 380.1 415.5 380.6 415.7 380.0 416.0 380.4 416.2 380.3 416.4 381.0 416.7 380.4 416.9 380.1 417.1 380.8 417.4 380.2 417.6 379.9 417.8 380.3 418.0 380.5 418.3 380.5 418.5 379.7 418.7 381.0 419.0 380.3 419.2 380.4 419.4 380.1 419.6 380.2 419.9 380.7 420.1 379.2 420.3 380.1 420.6 380.9 420.8 380.7 421.0 380.2" stroke="#20209c" stroke-width="0.90"/>
<path d="M421.0 380.2L421.3 379.9 421.5 380.9 421.7 379.9 421.9 380.9 422.2 380.6" stroke="#1818b7" stroke-width="0.82"/>
<path d="M422.2 380.6L422.4 379.8 422.6 379.4 422.9 380.3 423.1 380.4 423.3 379.6 423.6 380.8 423.8 380.1 424.0 380.1 424.2 379.7 424.5 380.1 424.7 380.4 424.9 379.9 425.2 380.8 425.4 379.8 425.6 380.6 425.9 380.7 426.1 380.4 426.3 380.2 426.6 379.9 426.8 380.4 427.0 379.9 427.2 379.8 427.5 380.3 427.7 380.7 427.9 379.8 428.2 380.1 428.4 381.3 428.6 380.7 428.9 380.2 429.1 380.9 429.3 380.6 429.5 381.1 429.8 380.1 430.0 380.2" stroke="#20209c" stroke-width="0.90"/>
<path d="M430.0 380.2L430.2 380.2 430.5 379.6 430.7 379.3 430.9 380.4 431.1 379.3 431.4 380.9 431.6 379.9 431.8 378.8 432.1 380.2 432.3 379.3 432.5 380.2 432.8 380.7 433.0 379.1 433.2 380.6 433.4 380.4 433.7 380.2 433.9 381.0 434.1 379.8 434.4 378.3 434.6 379.9 434.8 380.1 435.1 380.2 435.3 379.9 435.5 381.8 435.8 380.4 436.0 380.2 436.2 381.3 436.4 380.1 436.7 380.4 436.9 380.3 437.1 380.3" stroke="#1818b7" stroke-width="0.82"/>
<path d="M437.1 380.3L437.4 380.0 437.6 378.4 437.8 380.8 438.1 380.4" stroke="#20209c" stroke-width="0.90"/>
<path d="M438.1 380.4L438.3 380.4 438.5 380.3 438.7 380.6 439.0 379.9 439.2 379.7" stroke="#1818b7" stroke-width="0.82"/>
<path d="M439.2 379.7L439.4 379.6 439.7 377.9 439.9 379.6 440.1 380.6 440.4 380.6 440.6 380.5 440.8 380.1 441.0 380.4 441.3 379.9 441.5 379.5 441.7 380.5 442.0 379.9 442.2 380.5" stroke="#20209c" stroke-width="0.90"/>
<path d="M442.2 380.5L442.4 381.0 442.6 380.7 442.9 378.5 443.1 381.3 443.3 380.1 443.6 379.6 443.8 380.9 444.0 380.5 444.3 379.6 444.5 380.1 444.7 380.3 444.9 380.5 445.2 379.8" stroke="#1818b7" stroke-width="0.82"/>
<path d="M445.2 379.8L445.4 380.2 445.6 380.9 445.9 381.6 446.1 381.7" stroke="#20209c" stroke-width="0.90"/>
<path d="M446.1 381.7L446.3 380.0 446.6 380.5 446.8 379.7 447.0 380.1 447.2 381.0 447.5 377.6 447.7 379.8 447.9 380.8 448.2 380.6 448.4 379.5 448.6 381.3 448.9 380.9 449.1 379.9 449.3 380.3 449.6 381.0 449.8 381.1 450.0 380.2 450.2 378.1 450.5 380.0 450.7 380.2 450.9 379.7 451.2 380.3 451.4 380.8 451.6 379.4 451.9 381.0 452.1 380.5" stroke="#1818b7" stroke-width="0.82"/>
<path d="M452.1 380.5L452.3 380.5 452.5 379.7 452.8 380.8 453.0 380.6 453.2 381.3 453.5 380.3 453.7 380.2 453.9 380.1 454.1 380.9 454.4 380.3 454.6 380.9 454.8 380.7 455.1 380.5 455.3 379.8 455.5 380.7 455.8 380.4 456.0 380.9 456.2 380.7 456.4 380.8 456.7 380.5 456.9 380.1 457.1 381.0 457.4 380.1 457.6 380.9 457.8 380.3 458.1 380.7 458.3 380.6 458.5 380.7 458.8 379.9 459.0 380.4 459.2 380.0 459.4 380.7 459.7 380.6 459.9 379.7 460.1 381.3 460.4 380.9 460.6 380.6 460.8 379.6 461.1 380.8" stroke="#20209c" stroke-width="0.90"/>
<path d="M461.1 380.8L461.3 380.1 461.5 379.7 461.7 380.6 462.0 380.6 462.2 379.7 462.4 380.8 462.7 381.0 462.9 380.1 463.1 380.8 463.4 379.9 463.6 380.2 463.8 381.4 464.0 380.4 464.3 380.5 464.5 380.8 464.7 380.0 465.0 381.4 465.2 381.1" stroke="#1818b7" stroke-width="0.82"/>
<path d="M465.2 381.1L465.4 380.8 465.6 380.1 465.9 381.3 466.1 380.8 466.3 380.9 466.6 381.3 466.8 380.7 467.0 381.1 467.3 380.8 467.5 380.4 467.7 381.0 467.9 381.0 468.2 381.0 468.4 381.0 468.6 381.3 468.9 381.1 469.1 380.5 469.3 381.0 469.6 379.0 469.8 381.0 470.0 380.3" stroke="#20209c" stroke-width="0.90"/>
<path d="M470.0 380.3L470.2 381.3 470.5 380.7 470.7 380.8 470.9 380.6 471.2 379.9" stroke="#1818b7" stroke-width="0.82"/>
<path d="M471.2 379.9L471.4 380.7 471.6 381.2 471.9 380.5 472.1 381.0" stroke="#20209c" stroke-width="0.90"/>
<path d="M472.1 381.0L472.3 380.6 472.6 379.8 472.8 380.1 473.0 378.6" stroke="#1818b7" stroke-width="0.82"/>
<path d="M473.0 378.6L473.2 380.3 473.5 380.6 473.7 381.3 473.9 380.8 474.2 380.8 474.4 380.2 474.6 380.1 474.9 380.3 475.1 381.0 475.3 379.7 475.5 379.9 475.8 380.7 476.0 380.5 476.2 380.3 476.5 379.5 476.7 380.6 476.9 380.3 477.1 380.6 477.4 380.5 477.6 381.4 477.8 381.4 478.1 379.7 478.3 381.1 478.5 380.4 478.8 380.4 479.0 380.5 479.2 380.7 479.4 380.1 479.7 380.4 479.9 380.8 480.1 381.3 480.4 380.7 480.6 380.9 480.8 381.2 481.1 380.4 481.3 380.3 481.5 380.2 481.8 380.6 482.0 380.7 482.2 380.1 482.4 380.2 482.7 379.5 482.9 380.3 483.1 381.1 483.4 380.1 483.6 379.5 483.8 380.5 484.1 380.7 484.3 380.9 484.5 379.7 484.7 380.7 485.0 380.7 485.2 380.5 485.4 381.3 485.7 380.8 485.9 381.2 486.1 380.7 486.4 380.4 486.6 380.2 486.8 380.8 487.0 380.2 487.3 380.8 487.5 381.4 487.7 380.4 488.0 380.7 488.2 380.6 488.4 381.9 488.6 380.5 488.9 380.5 489.1 380.5" stroke="#20209c" stroke-width="0.90"/>
<path d="M489.1 380.5L489.3 380.1 489.6 380.8 489.8 379.6 490.0 380.3" stroke="#1818b7" stroke-width="0.82"/>
<path d="M490.0 380.3L490.3 380.4 490.5 381.9 490.7 381.6 490.9 379.9 491.2 380.5" stroke="#20209c" stroke-width="0.90"/>
<path d="M491.2 380.5L491.4 380.2 491.6 380.8 491.9 380.7 492.1 380.4" stroke="#1818b7" stroke-width="0.82"/>
<path d="M492.1 380.4L492.3 381.0 492.6 380.0 492.8 381.2 493.0 380.5 493.2 380.8 493.5 380.5 493.7 380.0 493.9 381.2 494.2 380.4 494.4 380.6 494.6 380.2 494.9 380.7 495.1 380.9 495.3 380.4 495.6 380.0 495.8 380.2 496.0 380.6 496.2 380.4 496.5 381.4 496.7 380.9 496.9 380.8 497.2 380.9 497.4 381.0 497.6 380.7 497.9 380.5 498.1 379.7 498.3 381.0 498.5 381.1 498.8 380.2 499.0 380.6 499.2 381.1 499.5 379.9 499.7 380.8 499.9 380.8 500.1 381.0 500.4 381.1 500.6 380.5 500.8 381.1 501.1 379.5 501.3 380.5 501.5 380.8 501.8 381.1 502.0 380.6 502.2 380.2 502.4 380.6 502.7 381.3 502.9 380.8 503.1 381.5 503.4 380.0 503.6 380.4 503.8 380.6 504.1 380.6 504.3 381.0 504.5 380.8 504.8 380.3 505.0 380.7 505.2 380.4 505.4 380.6 505.7 380.6 505.9 380.6 506.1 380.2 506.4 380.9 506.6 380.4 506.8 381.1 507.1 381.0 507.3 381.1 507.5 380.3 507.7 380.9 508.0 380.1 508.2 381.2 508.4 380.6 508.7 381.3 508.9 380.2 509.1 381.1" stroke="#20209c" stroke-width="0.90"/>
<path d="M509.1 381.1L509.4 380.5 509.6 381.1 509.8 381.1 510.0 380.6" stroke="#1818b7" stroke-width="0.82"/>
<path d="M510.0 380.6L510.3 381.6 510.5 381.3 510.7 380.0 511.0 381.2 511.2 380.4 511.4 381.2 511.6 381.6 511.9 381.0 512.1 380.3" stroke="#20209c" stroke-width="0.90"/>
<path d="M512.1 380.3L512.3 380.8 512.6 380.9 512.8 380.4 513.0 381.1 513.3 379.2 513.5 380.6 513.7 381.3 514.0 380.3 514.2 379.3 514.4 380.9 514.6 380.7 514.9 380.9 515.1 381.4" stroke="#1818b7" stroke-width="0.82"/>
<path d="M515.1 381.4L515.3 380.4 515.6 381.3 515.8 380.6 516.0 381.1 516.2 381.3 516.5 380.5 516.7 380.7 516.9 379.9 517.2 380.9 517.4 380.8 517.6 380.8 517.9 381.0 518.1 380.2 518.3 380.1 518.5 380.5 518.8 381.3 519.0 380.6 519.2 380.8 519.5 381.1 519.7 381.6 519.9 380.4 520.2 380.3" stroke="#20209c" stroke-width="0.90"/>
<path d="M520.2 380.3L520.4 379.7 520.6 380.6 520.9 380.0 521.1 379.9" stroke="#1818b7" stroke-width="0.82"/>
<path d="M521.1 379.9L521.3 380.8 521.5 382.3 521.8 380.5 522.0 380.8 522.2 380.5 522.5 381.1 522.7 381.4 522.9 380.6 523.1 381.0 523.4 380.8 523.6 380.7 523.8 380.8 524.1 381.6 524.3 380.6 524.5 381.1 524.8 381.0 525.0 380.7 525.2 381.6 525.5 381.1 525.7 381.8 525.9 381.2 526.1 380.8 526.4 381.0 526.6 381.1 526.8 380.7 527.1 381.2 527.3 381.7 527.5 380.4 527.8 380.9 528.0 380.6 528.2 381.2" stroke="#20209c" stroke-width="0.90"/>
<path d="M528.2 381.2L528.4 381.2 528.7 381.4 528.9 381.9 529.1 381.2 529.4 381.3 529.6 377.8 529.8 381.9 530.0 381.0 530.3 381.1 530.5 381.1 530.7 381.1 531.0 380.4 531.2 380.6" stroke="#1818b7" stroke-width="0.82"/>
<path d="M531.2 380.6L531.4 381.9 531.7 380.7 531.9 381.2 532.1 381.5 532.4 382.0 532.6 382.0 532.8 381.1 533.0 381.6 533.3 381.6 533.5 381.3 533.7 381.1 534.0 381.3 534.2 381.6 534.4 381.4 534.6 381.2 534.9 381.6 535.1 380.7 535.3 380.5 535.6 380.5 535.8 381.3 536.0 381.3" stroke="#20209c" stroke-width="0.90"/>
<path d="M536.0 381.3L536.3 381.6 536.5 380.4 536.7 381.3 537.0 380.1 537.2 382.1 537.4 381.0 537.6 380.9 537.9 381.1 538.1 380.8" stroke="#1818b7" stroke-width="0.82"/>
<path d="M538.1 380.8L538.3 380.1 538.6 379.4 538.8 380.7 539.0 381.3 539.2 381.7 539.5 381.6 539.7 380.7 539.9 381.0 540.2 381.8 540.4 381.0 540.6 380.8 540.9 380.9 541.1 380.6 541.3 381.8 541.5 381.6 541.8 381.7 542.0 381.1 542.2 380.5 542.5 381.4 542.7 381.0 542.9 380.7 543.2 381.4 543.4 380.8 543.6 381.2 543.9 380.3 544.1 380.5" stroke="#20209c" stroke-width="0.90"/>
<path d="M544.1 380.5L544.3 381.4 544.5 381.4 544.8 380.3 545.0 381.6 545.2 380.6 545.5 381.4 545.7 381.7 545.9 380.3 546.1 380.9 546.4 381.7 546.6 381.3 546.8 381.5 547.1 381.6 547.3 381.2 547.5 378.9 547.8 381.9 548.0 380.9 548.2 381.9 548.5 381.2 548.7 381.9 548.9 381.8 549.1 381.5" stroke="#1818b7" stroke-width="0.82"/>
<path d="M549.1 381.5L549.4 380.7 549.6 380.8 549.8 381.3 550.1 381.4 550.3 381.2 550.5 379.8 550.8 381.1 551.0 381.3 551.2 381.5" stroke="#20209c" stroke-width="0.90"/>
<path d="M551.2 381.5L551.4 381.4 551.7 380.9 551.9 381.0 552.1 382.4 552.4 379.3 552.6 381.0 552.8 381.3 553.0 379.9 553.3 382.0 553.5 381.9 553.7 380.7 554.0 381.3 554.2 380.8 554.4 380.7 554.7 380.4 554.9 380.9 555.1 381.6 555.4 382.1 555.6 381.2 555.8 382.1 556.0 381.2 556.3 381.7 556.5 379.1 556.7 380.9 557.0 381.3 557.2 380.1 557.4 381.2 557.6 381.6 557.9 381.1 558.1 381.5 558.3 380.2 558.6 381.6 558.8 382.2 559.0 381.8 559.3 381.3 559.5 380.0 559.7 380.6 560.0 381.6 560.2 381.3" stroke="#1818b7" stroke-width="0.82"/>
<path d="M560.2 381.3L560.4 381.9 560.6 382.0 560.9 380.9 561.1 381.1 561.3 381.7 561.6 381.7 561.8 381.1 562.0 381.0 562.2 381.7 562.5 382.2 562.7 380.9 562.9 381.7 563.2 382.2 563.4 381.4 563.6 381.3 563.9 380.9 564.1 381.6 564.3 381.2 564.5 382.0 564.8 380.9 565.0 382.1" stroke="#20209c" stroke-width="0.90"/>
<path d="M565.0 382.1L565.2 381.1 565.5 381.3 565.7 382.1 565.9 381.7 566.2 380.6" stroke="#1818b7" stroke-width="0.82"/>
<path d="M566.2 380.6L566.4 381.9 566.6 382.2 566.9 381.4 567.1 381.3" stroke="#20209c" stroke-width="0.90"/>
<path d="M567.1 381.3L567.3 381.0 567.5 381.5 567.8 381.6 568.0 379.0 568.2 381.0 568.5 381.5 568.7 381.1 568.9 382.3 569.1 381.6 569.4 381.5 569.6 380.9 569.8 381.2 570.1 381.3" stroke="#1818b7" stroke-width="0.82"/>
<path d="M570.1 381.3L570.3 380.9 570.5 381.3 570.8 379.9 571.0 381.9 571.2 381.4 571.5 380.5 571.7 381.0 571.9 381.3 572.1 380.9 572.4 381.7 572.6 381.4 572.8 381.3 573.1 380.5" stroke="#20209c" stroke-width="0.90"/>
<path d="M573.1 380.5L573.3 381.3 573.5 380.4 573.8 381.5 574.0 381.3 574.2 382.3 574.4 379.1 574.7 382.4 574.9 381.1 575.1 381.0 575.4 381.3 575.6 382.0 575.8 381.6 576.0 382.8" stroke="#1818b7" stroke-width="0.82"/>
<path d="M576.0 382.8L576.3 381.8 576.5 381.4 576.7 381.5 577.0 381.7 577.2 380.8 577.4 381.3 577.7 381.5 577.9 381.4 578.1 382.0 578.4 381.6 578.6 382.5 578.8 382.9 579.0 381.7 579.3 381.1 579.5 382.1 579.7 381.3 580.0 382.4 580.2 381.6 580.4 381.5 580.6 381.6 580.9 382.3 581.1 381.3 581.3 381.2 581.6 381.3 581.8 380.4 582.0 381.8 582.3 381.5 582.5 381.0 582.7 382.2 583.0 382.0 583.2 381.1 583.4 381.8 583.6 382.0 583.9 381.4 584.1 382.3 584.3 381.6 584.6 382.1 584.8 382.0 585.0 382.9 585.2 381.6 585.5 381.6 585.7 381.8 585.9 382.0 586.2 381.6 586.4 381.1 586.6 381.3 586.9 382.0 587.1 381.6 587.3 381.9 587.5 381.5 587.8 382.1 588.0 381.1 588.2 382.1 588.5 381.5 588.7 381.6 588.9 381.1 589.2 382.5" stroke="#20209c" stroke-width="0.90"/>
<path d="M589.2 382.5L589.4 381.8 589.6 381.5 589.9 380.6 590.1 382.5 590.3 381.4 590.5 382.1 590.8 382.0 591.0 381.4" stroke="#1818b7" stroke-width="0.82"/>
<path d="M591.0 381.4L591.2 381.8 591.5 382.4 591.7 382.0 591.9 382.0 592.1 381.8 592.4 382.3 592.6 382.2 592.8 382.0 593.1 381.9 593.3 382.0 593.5 381.8 593.8 381.7 594.0 381.8 594.2 382.2 594.5 382.6 594.7 382.3 594.9 382.3 595.1 382.1 595.4 381.6 595.6 382.0 595.8 382.4 596.1 382.5 596.3 382.1 596.5 382.1 596.8 382.3 597.0 382.7 597.2 382.2 597.4 381.9 597.7 382.0 597.9 382.6 598.1 382.3 598.4 382.2 598.6 382.5 598.8 382.2 599.0 382.4 599.3 381.8 599.5 382.4 599.7 381.6 600.0 380.4 600.2 382.0 600.4 382.1 600.7 381.7 600.9 382.3 601.1 382.0 601.4 382.3 601.6 381.6 601.8 382.3 602.0 382.3 602.3 383.1 602.5 382.1 602.7 382.3 603.0 382.0 603.2 382.7 603.4 382.5 603.6 381.8 603.9 382.5 604.1 382.1 604.3 381.9 604.6 382.2 604.8 382.2 605.0 381.8 605.3 382.4 605.5 382.0 605.7 382.3 606.0 382.6 606.2 382.2 606.4 381.8 606.6 382.3 606.9 382.5 607.1 382.3 607.3 382.4 607.6 382.0 607.8 382.6 608.0 381.9 608.2 382.1 608.5 381.8 608.7 382.4 608.9 381.9 609.2 382.6 609.4 382.0 609.6 382.3 609.9 382.6 610.1 382.0 610.3 381.7 610.5 381.6 610.8 382.1 611.0 382.3 611.2 381.7 611.5 382.6 611.7 382.2 611.9 382.8 612.2 382.2 612.4 382.1 612.6 382.4 612.9 381.9 613.1 382.3 613.3 382.1 613.5 382.1 613.8 382.3 614.0 383.1 614.2 382.4 614.5 382.2 614.7 382.6 614.9 382.2 615.1 382.8 615.4 382.0 615.6 382.0 615.8 382.1 616.1 382.4 616.3 382.2 616.5 382.7 616.8 382.5 617.0 382.1 617.2 382.5 617.5 382.3 617.7 382.3 617.9 381.9 618.1 382.5 618.4 382.5 618.6 382.5 618.8 382.8 619.1 382.2 619.3 383.0 619.5 382.6 619.8 381.8 620.0 382.3 620.2 383.1" stroke="#20209c" stroke-width="0.90"/>
<path d="M620.2 383.1L620.4 382.6 620.7 381.7 620.9 382.4 621.1 381.6" stroke="#1818b7" stroke-width="0.82"/>
<path d="M621.1 381.6L621.4 382.5 621.6 383.1 621.8 382.2 622.0 382.4 622.3 382.2 622.5 382.7 622.7 382.7 623.0 382.5 623.2 382.7 623.4 382.0 623.7 381.9 623.9 382.4 624.1 382.0 624.4 382.5 624.6 382.4 624.8 382.9 625.0 381.9 625.3 382.5 625.5 381.9 625.7 381.9 626.0 382.1 626.2 382.2 626.4 382.7 626.6 382.0 626.9 382.1 627.1 381.9 627.3 382.2 627.6 382.7 627.8 382.7 628.0 382.0 628.3 381.7 628.5 382.4 628.7 382.3 629.0 382.2 629.2 382.2 629.4 382.2 629.6 382.4 629.9 382.2 630.1 382.5 630.3 382.3 630.6 382.1 630.8 382.3 631.0 382.5 631.2 382.2 631.5 382.7 631.7 382.5 631.9 382.7 632.2 382.2 632.4 382.1 632.6 382.4 632.9 382.6 633.1 382.2 633.3 382.2 633.5 382.9 633.8 382.0 634.0 382.0 634.2 382.4 634.5 382.4 634.7 382.4 634.9 382.5 635.2 382.2 635.4 382.6 635.6 382.4 635.9 382.3 636.1 382.9 636.3 382.5 636.5 382.8 636.8 382.5 637.0 382.5 637.2 382.4 637.5 382.3 637.7 382.7 637.9 382.3 638.1 383.0 638.4 382.0 638.6 382.4 638.8 382.1 639.1 383.0 639.3 381.9 639.5 382.5 639.8 382.3 640.0 382.3 640.2 382.4 640.5 382.5 640.7 383.1 640.9 381.9 641.1 381.7 641.4 382.6 641.6 381.9 641.8 382.1 642.1 382.3 642.3 382.4 642.5 382.2 642.8 382.6 643.0 382.5 643.2 382.6 643.4 382.6 643.7 382.6 643.9 382.2 644.1 380.5" stroke="#20209c" stroke-width="0.90"/>
<path d="M644.1 380.5L644.4 379.5 644.6 377.6 644.8 376.0 645.0 375.5" stroke="#1010d3" stroke-width="0.73"/>
<path d="M645.0 375.5L645.3 370.6 645.5 369.7 645.7 364.9 646.0 365.6 646.2 363.9 646.4 362.2 646.7 362.4 646.9 362.3 647.1 362.8" stroke="#0808ee" stroke-width="0.65"/>
<path d="M647.1 362.8L647.4 360.3 647.6 362.5 647.8 362.1 648.0 363.3" stroke="#1010d3" stroke-width="0.73"/>
<path d="M648.0 363.3L648.3 363.3 648.5 360.5 648.7 360.4 649.0 364.5 649.2 362.7 649.4 360.2 649.6 361.7 649.9 360.4 650.1 362.0 650.3 357.3 650.6 355.4 650.8 353.3 651.0 353.8 651.3 352.8 651.5 350.3 651.7 353.7 652.0 352.1 652.2 349.9 652.4 347.3 652.6 341.9 652.9 339.7 653.1 339.9 653.3 338.2 653.6 339.7 653.8 337.6 654.0 338.2 654.2 335.0 654.5 336.1 654.7 338.1 654.9 338.9 655.2 337.4 655.4 331.6 655.6 336.3 655.9 336.7 656.1 335.0 656.3 333.2 656.5 330.2 656.8 330.5 657.0 326.7" stroke="#0808ee" stroke-width="0.65"/>
<path d="M657.0 326.7L657.2 326.9" stroke="#1818b7" stroke-width="0.82"/>
</g>
<path d="M395.50 388.20v-2.7M395.50 318.50v2.7M441.50 388.20v-2.7M441.50 318.50v2.7M487.50 388.20v-2.7M487.50 318.50v2.7M533.50 388.20v-2.7M533.50 318.50v2.7M579.50 388.20v-2.7M579.50 318.50v2.7M625.50 388.20v-2.7M625.50 318.50v2.7M671.50 388.20v-2.7M671.50 318.50v2.7M395.50 388.20h2.7M671.50 388.20h-2.7M395.50 353.35h2.7M671.50 353.35h-2.7M395.50 318.50h2.7M671.50 318.50h-2.7" stroke="#808080" stroke-width="0.9" fill="none"/>
<rect x="395.50" y="318.50" width="276.00" height="69.70" fill="none" stroke="#808080" stroke-width="1.1"/>
<text x="395.50" y="399.50" text-anchor="middle">0</text>
<text x="441.50" y="399.50" text-anchor="middle">200</text>
<text x="487.50" y="399.50" text-anchor="middle">400</text>
<text x="533.50" y="399.50" text-anchor="middle">600</text>
<text x="579.50" y="399.50" text-anchor="middle">800</text>
<text x="625.50" y="399.50" text-anchor="middle">1000</text>
<text x="671.50" y="399.50" text-anchor="middle">1200</text>
<text x="392.75" y="388.35" text-anchor="end" dominant-baseline="central">0</text>
<text x="392.75" y="353.50" text-anchor="end" dominant-baseline="central">50</text>
<text x="392.75" y="318.65" text-anchor="end" dominant-baseline="central">100</text>
<text x="533.20" y="315.00" text-anchor="middle">bear14</text>
<text transform="translate(374.90 353.65) rotate(-90)" text-anchor="middle">SV2</text>
<text x="533.50" y="411.10" text-anchor="middle">Time</text>
</g></svg>
</body></html>
